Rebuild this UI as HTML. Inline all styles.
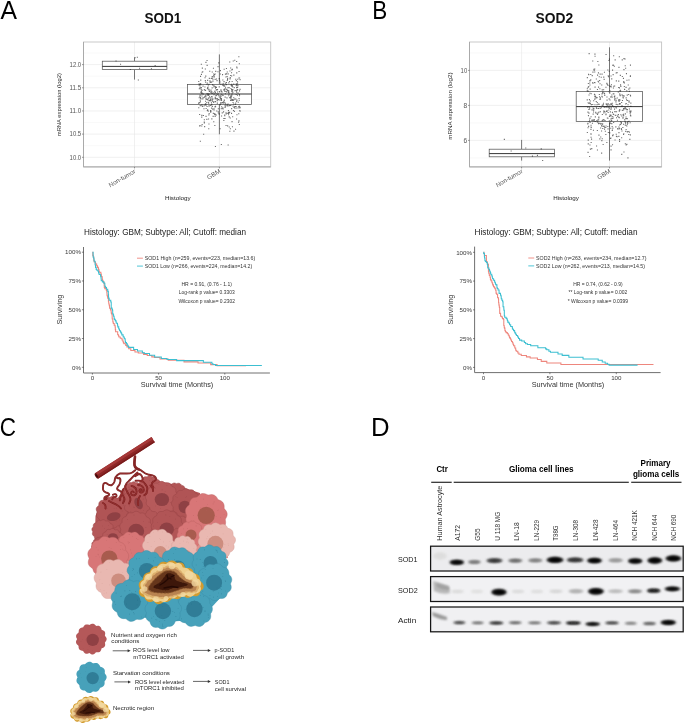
<!DOCTYPE html>
<html><head><meta charset="utf-8"><style>
html,body{margin:0;padding:0;background:#fff;width:685px;height:724px;overflow:hidden}
svg{display:block;will-change:transform}
text{font-family:"Liberation Sans",sans-serif}
</style></head><body>
<svg width="685" height="724" viewBox="0 0 685 724">
<defs>
<filter id="bl1" x="-50%" y="-100%" width="200%" height="300%"><feGaussianBlur stdDeviation="0.8"/></filter>
<filter id="bl2" x="-50%" y="-100%" width="200%" height="300%"><feGaussianBlur stdDeviation="1.1"/></filter>
<filter id="bl3" x="-50%" y="-50%" width="200%" height="200%"><feGaussianBlur stdDeviation="0.35"/></filter>
</defs>
<rect width="685" height="724" fill="#fff"/>

<text x="0.4" y="19" font-size="25" fill="#000" transform="translate(0.4,19) scale(0.99,1) translate(-0.4,-19)">A</text>
<text x="372.3" y="19" font-size="25" fill="#000" transform="translate(372.3,19) scale(0.9,1) translate(-372.3,-19)">B</text>
<text x="-0.2" y="435.9" font-size="25" fill="#000" transform="translate(-0.2,435.9) scale(0.9,1) translate(0.2,-435.9)">C</text>
<text x="370.9" y="436.1" font-size="25" fill="#000" transform="translate(370.9,436.1) scale(1.03,1) translate(-370.9,-436.1)">D</text>
<line x1="83.5" x2="270.7" y1="157.30" y2="157.30" stroke="#e6e6e6" stroke-width="0.6"/>
<line x1="83.5" x2="270.7" y1="134.12" y2="134.12" stroke="#e6e6e6" stroke-width="0.6"/>
<line x1="83.5" x2="270.7" y1="110.95" y2="110.95" stroke="#e6e6e6" stroke-width="0.6"/>
<line x1="83.5" x2="270.7" y1="87.78" y2="87.78" stroke="#e6e6e6" stroke-width="0.6"/>
<line x1="83.5" x2="270.7" y1="64.60" y2="64.60" stroke="#e6e6e6" stroke-width="0.6"/>
<line x1="83.5" x2="270.7" y1="145.71" y2="145.71" stroke="#f3f3f3" stroke-width="0.5"/>
<line x1="83.5" x2="270.7" y1="122.54" y2="122.54" stroke="#f3f3f3" stroke-width="0.5"/>
<line x1="83.5" x2="270.7" y1="99.36" y2="99.36" stroke="#f3f3f3" stroke-width="0.5"/>
<line x1="83.5" x2="270.7" y1="76.19" y2="76.19" stroke="#f3f3f3" stroke-width="0.5"/>
<line x1="83.5" x2="270.7" y1="53.01" y2="53.01" stroke="#f3f3f3" stroke-width="0.5"/>
<line x1="134.50" x2="134.50" y1="42" y2="166.9" stroke="#e6e6e6" stroke-width="0.6"/>
<line x1="219.40" x2="219.40" y1="42" y2="166.9" stroke="#e6e6e6" stroke-width="0.6"/>
<line x1="134.5" x2="134.5" y1="57.3" y2="61.2" stroke="#555" stroke-width="0.8"/>
<line x1="134.5" x2="134.5" y1="69.6" y2="79.6" stroke="#555" stroke-width="0.8"/>
<rect x="102.3" y="61.2" width="64.60" height="8.40" fill="#fff" stroke="#555" stroke-width="0.75"/>
<line x1="102.3" x2="166.9" y1="66.4" y2="66.4" stroke="#2a2a2a" stroke-width="0.95"/>
<line x1="219.4" x2="219.4" y1="54.4" y2="84.5" stroke="#555" stroke-width="0.8"/>
<line x1="219.4" x2="219.4" y1="104.4" y2="134.3" stroke="#555" stroke-width="0.8"/>
<rect x="187.6" y="84.5" width="63.90" height="19.90" fill="#fff" stroke="#555" stroke-width="0.75"/>
<line x1="187.6" x2="251.5" y1="94.0" y2="94.0" stroke="#2a2a2a" stroke-width="0.95"/>
<path d="M217.5 66.1h1.1v1.1h-1.1zM222.6 83.0h1.1v1.1h-1.1zM231.1 75.4h1.1v1.1h-1.1zM210.8 92.6h1.1v1.1h-1.1zM199.9 101.4h1.1v1.1h-1.1zM238.3 56.2h1.1v1.1h-1.1zM198.8 88.2h1.1v1.1h-1.1zM200.6 88.8h1.1v1.1h-1.1zM217.4 94.1h1.1v1.1h-1.1zM233.2 97.2h1.1v1.1h-1.1zM225.7 84.1h1.1v1.1h-1.1zM209.7 82.0h1.1v1.1h-1.1zM227.6 144.4h1.1v1.1h-1.1zM207.7 93.3h1.1v1.1h-1.1zM214.8 114.3h1.1v1.1h-1.1zM214.2 113.1h1.1v1.1h-1.1zM206.9 94.4h1.1v1.1h-1.1zM217.7 93.2h1.1v1.1h-1.1zM224.3 85.7h1.1v1.1h-1.1zM209.4 97.0h1.1v1.1h-1.1zM229.7 77.1h1.1v1.1h-1.1zM208.4 123.5h1.1v1.1h-1.1zM205.5 115.8h1.1v1.1h-1.1zM216.8 102.6h1.1v1.1h-1.1zM224.9 93.2h1.1v1.1h-1.1zM215.7 87.0h1.1v1.1h-1.1zM231.6 89.6h1.1v1.1h-1.1zM235.0 128.7h1.1v1.1h-1.1zM224.9 73.6h1.1v1.1h-1.1zM239.3 109.9h1.1v1.1h-1.1zM211.8 92.8h1.1v1.1h-1.1zM201.2 116.6h1.1v1.1h-1.1zM223.2 85.4h1.1v1.1h-1.1zM217.0 89.1h1.1v1.1h-1.1zM234.2 59.7h1.1v1.1h-1.1zM204.6 95.7h1.1v1.1h-1.1zM206.0 102.2h1.1v1.1h-1.1zM237.3 84.9h1.1v1.1h-1.1zM223.3 119.9h1.1v1.1h-1.1zM202.5 85.6h1.1v1.1h-1.1zM227.5 103.4h1.1v1.1h-1.1zM232.4 91.7h1.1v1.1h-1.1zM228.1 91.7h1.1v1.1h-1.1zM207.7 101.8h1.1v1.1h-1.1zM209.8 104.9h1.1v1.1h-1.1zM206.6 64.8h1.1v1.1h-1.1zM200.7 92.2h1.1v1.1h-1.1zM213.5 108.2h1.1v1.1h-1.1zM235.2 102.4h1.1v1.1h-1.1zM225.5 112.3h1.1v1.1h-1.1zM199.6 87.7h1.1v1.1h-1.1zM236.0 90.3h1.1v1.1h-1.1zM224.6 96.6h1.1v1.1h-1.1zM228.5 93.3h1.1v1.1h-1.1zM220.9 99.2h1.1v1.1h-1.1zM235.6 93.9h1.1v1.1h-1.1zM236.2 87.2h1.1v1.1h-1.1zM226.7 71.5h1.1v1.1h-1.1zM231.0 112.8h1.1v1.1h-1.1zM222.0 74.1h1.1v1.1h-1.1zM223.5 81.1h1.1v1.1h-1.1zM224.7 105.7h1.1v1.1h-1.1zM214.3 124.9h1.1v1.1h-1.1zM222.3 79.4h1.1v1.1h-1.1zM229.4 96.9h1.1v1.1h-1.1zM223.2 89.3h1.1v1.1h-1.1zM218.8 96.5h1.1v1.1h-1.1zM236.4 114.2h1.1v1.1h-1.1zM226.4 105.1h1.1v1.1h-1.1zM205.2 94.7h1.1v1.1h-1.1zM235.2 78.7h1.1v1.1h-1.1zM225.9 81.9h1.1v1.1h-1.1zM236.2 72.3h1.1v1.1h-1.1zM214.1 114.0h1.1v1.1h-1.1zM218.8 91.1h1.1v1.1h-1.1zM233.5 107.0h1.1v1.1h-1.1zM205.2 104.0h1.1v1.1h-1.1zM209.6 90.7h1.1v1.1h-1.1zM218.7 78.1h1.1v1.1h-1.1zM233.1 103.5h1.1v1.1h-1.1zM199.5 84.0h1.1v1.1h-1.1zM199.9 97.0h1.1v1.1h-1.1zM231.1 83.7h1.1v1.1h-1.1zM203.8 89.1h1.1v1.1h-1.1zM208.0 118.4h1.1v1.1h-1.1zM200.1 97.8h1.1v1.1h-1.1zM225.4 76.4h1.1v1.1h-1.1zM238.0 106.2h1.1v1.1h-1.1zM205.6 98.6h1.1v1.1h-1.1zM217.8 108.2h1.1v1.1h-1.1zM212.5 98.5h1.1v1.1h-1.1zM219.8 103.4h1.1v1.1h-1.1zM231.1 94.5h1.1v1.1h-1.1zM201.8 67.6h1.1v1.1h-1.1zM217.0 91.5h1.1v1.1h-1.1zM236.0 87.1h1.1v1.1h-1.1zM231.3 69.3h1.1v1.1h-1.1zM217.4 71.2h1.1v1.1h-1.1zM232.2 99.8h1.1v1.1h-1.1zM228.0 114.2h1.1v1.1h-1.1zM238.8 123.9h1.1v1.1h-1.1zM231.0 72.2h1.1v1.1h-1.1zM212.6 115.8h1.1v1.1h-1.1zM216.5 80.1h1.1v1.1h-1.1zM199.3 95.7h1.1v1.1h-1.1zM200.8 63.7h1.1v1.1h-1.1zM230.9 99.5h1.1v1.1h-1.1zM204.3 104.5h1.1v1.1h-1.1zM226.8 89.8h1.1v1.1h-1.1zM207.4 99.3h1.1v1.1h-1.1zM210.2 92.2h1.1v1.1h-1.1zM233.2 83.6h1.1v1.1h-1.1zM211.1 81.7h1.1v1.1h-1.1zM206.8 109.9h1.1v1.1h-1.1zM206.5 60.0h1.1v1.1h-1.1zM219.1 91.3h1.1v1.1h-1.1zM219.6 128.2h1.1v1.1h-1.1zM231.5 100.0h1.1v1.1h-1.1zM200.9 73.8h1.1v1.1h-1.1zM215.4 95.1h1.1v1.1h-1.1zM217.8 112.4h1.1v1.1h-1.1zM216.2 89.1h1.1v1.1h-1.1zM211.3 118.3h1.1v1.1h-1.1zM223.9 85.2h1.1v1.1h-1.1zM199.1 125.4h1.1v1.1h-1.1zM207.6 110.6h1.1v1.1h-1.1zM223.9 88.5h1.1v1.1h-1.1zM228.6 105.1h1.1v1.1h-1.1zM206.4 84.0h1.1v1.1h-1.1zM216.3 93.3h1.1v1.1h-1.1zM204.8 80.1h1.1v1.1h-1.1zM224.4 102.3h1.1v1.1h-1.1zM223.6 68.7h1.1v1.1h-1.1zM207.8 84.4h1.1v1.1h-1.1zM211.3 104.5h1.1v1.1h-1.1zM236.5 67.5h1.1v1.1h-1.1zM203.7 121.5h1.1v1.1h-1.1zM228.4 93.7h1.1v1.1h-1.1zM215.7 114.4h1.1v1.1h-1.1zM203.4 108.2h1.1v1.1h-1.1zM206.5 93.0h1.1v1.1h-1.1zM236.1 91.7h1.1v1.1h-1.1zM229.7 117.4h1.1v1.1h-1.1zM226.7 104.3h1.1v1.1h-1.1zM199.7 99.6h1.1v1.1h-1.1zM219.6 96.6h1.1v1.1h-1.1zM206.6 99.0h1.1v1.1h-1.1zM239.3 107.3h1.1v1.1h-1.1zM237.7 101.7h1.1v1.1h-1.1zM230.0 96.6h1.1v1.1h-1.1zM216.0 78.4h1.1v1.1h-1.1zM198.7 97.2h1.1v1.1h-1.1zM217.0 98.6h1.1v1.1h-1.1zM215.0 87.0h1.1v1.1h-1.1zM198.8 102.0h1.1v1.1h-1.1zM231.5 121.1h1.1v1.1h-1.1zM215.0 105.8h1.1v1.1h-1.1zM219.1 79.7h1.1v1.1h-1.1zM236.1 100.8h1.1v1.1h-1.1zM230.5 84.4h1.1v1.1h-1.1zM227.1 125.3h1.1v1.1h-1.1zM228.2 95.2h1.1v1.1h-1.1zM212.4 80.6h1.1v1.1h-1.1zM224.7 106.3h1.1v1.1h-1.1zM207.8 94.8h1.1v1.1h-1.1zM225.6 81.9h1.1v1.1h-1.1zM220.3 83.6h1.1v1.1h-1.1zM227.3 112.8h1.1v1.1h-1.1zM238.9 93.9h1.1v1.1h-1.1zM208.8 77.8h1.1v1.1h-1.1zM200.2 79.6h1.1v1.1h-1.1zM208.6 89.7h1.1v1.1h-1.1zM221.0 102.4h1.1v1.1h-1.1zM239.5 110.7h1.1v1.1h-1.1zM231.8 90.5h1.1v1.1h-1.1zM200.0 75.8h1.1v1.1h-1.1zM204.8 68.4h1.1v1.1h-1.1zM223.6 101.4h1.1v1.1h-1.1zM237.5 107.4h1.1v1.1h-1.1zM213.4 76.4h1.1v1.1h-1.1zM225.4 91.0h1.1v1.1h-1.1zM210.5 89.6h1.1v1.1h-1.1zM208.3 114.4h1.1v1.1h-1.1zM214.4 106.2h1.1v1.1h-1.1zM229.3 130.7h1.1v1.1h-1.1zM201.2 125.5h1.1v1.1h-1.1zM216.0 89.5h1.1v1.1h-1.1zM219.9 103.7h1.1v1.1h-1.1zM228.2 90.6h1.1v1.1h-1.1zM223.3 118.0h1.1v1.1h-1.1zM224.1 90.7h1.1v1.1h-1.1zM220.1 95.2h1.1v1.1h-1.1zM216.6 98.1h1.1v1.1h-1.1zM222.4 84.1h1.1v1.1h-1.1zM230.5 96.8h1.1v1.1h-1.1zM228.7 126.5h1.1v1.1h-1.1zM202.9 93.5h1.1v1.1h-1.1zM213.1 101.8h1.1v1.1h-1.1zM226.6 75.9h1.1v1.1h-1.1zM229.5 78.3h1.1v1.1h-1.1zM208.5 83.8h1.1v1.1h-1.1zM199.8 140.7h1.1v1.1h-1.1zM209.4 80.3h1.1v1.1h-1.1zM220.7 89.6h1.1v1.1h-1.1zM201.7 89.7h1.1v1.1h-1.1zM213.7 76.3h1.1v1.1h-1.1zM206.9 88.1h1.1v1.1h-1.1zM201.2 93.1h1.1v1.1h-1.1zM231.8 68.8h1.1v1.1h-1.1zM215.8 95.0h1.1v1.1h-1.1zM231.8 84.9h1.1v1.1h-1.1zM211.7 71.4h1.1v1.1h-1.1zM229.2 61.4h1.1v1.1h-1.1zM202.2 71.2h1.1v1.1h-1.1zM201.4 105.1h1.1v1.1h-1.1zM226.7 80.0h1.1v1.1h-1.1zM230.4 88.0h1.1v1.1h-1.1zM201.5 98.4h1.1v1.1h-1.1zM228.3 112.8h1.1v1.1h-1.1zM213.0 92.4h1.1v1.1h-1.1zM213.4 101.1h1.1v1.1h-1.1zM236.4 89.6h1.1v1.1h-1.1zM236.1 60.9h1.1v1.1h-1.1zM211.4 97.6h1.1v1.1h-1.1zM237.0 83.3h1.1v1.1h-1.1zM213.4 94.2h1.1v1.1h-1.1zM214.6 106.4h1.1v1.1h-1.1zM231.3 99.7h1.1v1.1h-1.1zM232.9 109.9h1.1v1.1h-1.1zM234.8 103.8h1.1v1.1h-1.1zM199.1 113.9h1.1v1.1h-1.1zM238.4 77.5h1.1v1.1h-1.1zM231.6 89.3h1.1v1.1h-1.1zM201.6 71.7h1.1v1.1h-1.1zM228.8 87.2h1.1v1.1h-1.1zM204.1 126.1h1.1v1.1h-1.1zM225.1 103.4h1.1v1.1h-1.1zM219.8 98.1h1.1v1.1h-1.1zM214.6 116.0h1.1v1.1h-1.1zM218.7 113.2h1.1v1.1h-1.1zM228.1 90.1h1.1v1.1h-1.1zM232.5 105.6h1.1v1.1h-1.1zM233.7 87.1h1.1v1.1h-1.1zM238.0 121.7h1.1v1.1h-1.1zM219.9 70.1h1.1v1.1h-1.1zM215.6 98.4h1.1v1.1h-1.1zM229.0 80.9h1.1v1.1h-1.1zM206.7 82.6h1.1v1.1h-1.1zM210.3 99.6h1.1v1.1h-1.1zM202.9 115.0h1.1v1.1h-1.1zM230.4 98.1h1.1v1.1h-1.1zM222.4 107.4h1.1v1.1h-1.1zM199.7 105.1h1.1v1.1h-1.1zM207.9 97.6h1.1v1.1h-1.1zM222.9 102.4h1.1v1.1h-1.1zM205.3 98.2h1.1v1.1h-1.1zM211.1 103.8h1.1v1.1h-1.1zM209.0 100.1h1.1v1.1h-1.1zM236.2 66.5h1.1v1.1h-1.1zM218.2 62.3h1.1v1.1h-1.1zM200.2 84.3h1.1v1.1h-1.1zM220.1 102.2h1.1v1.1h-1.1zM209.6 81.6h1.1v1.1h-1.1zM198.6 83.3h1.1v1.1h-1.1zM213.6 85.8h1.1v1.1h-1.1zM204.7 89.8h1.1v1.1h-1.1zM211.5 76.4h1.1v1.1h-1.1zM224.6 104.8h1.1v1.1h-1.1zM209.2 70.7h1.1v1.1h-1.1zM198.2 107.2h1.1v1.1h-1.1zM233.4 130.6h1.1v1.1h-1.1zM228.0 112.1h1.1v1.1h-1.1zM218.1 99.1h1.1v1.1h-1.1zM233.8 110.8h1.1v1.1h-1.1zM231.0 89.1h1.1v1.1h-1.1zM232.5 98.9h1.1v1.1h-1.1zM220.8 91.1h1.1v1.1h-1.1zM211.1 107.6h1.1v1.1h-1.1zM201.3 114.8h1.1v1.1h-1.1zM213.1 73.5h1.1v1.1h-1.1zM202.5 98.2h1.1v1.1h-1.1zM232.7 60.5h1.1v1.1h-1.1zM198.7 102.1h1.1v1.1h-1.1zM221.6 91.5h1.1v1.1h-1.1zM198.6 84.6h1.1v1.1h-1.1zM223.8 99.4h1.1v1.1h-1.1zM213.8 85.4h1.1v1.1h-1.1zM214.5 90.4h1.1v1.1h-1.1zM208.8 105.4h1.1v1.1h-1.1zM237.5 92.6h1.1v1.1h-1.1zM228.3 82.3h1.1v1.1h-1.1zM204.0 96.6h1.1v1.1h-1.1zM226.3 88.8h1.1v1.1h-1.1zM233.0 99.7h1.1v1.1h-1.1zM201.9 106.0h1.1v1.1h-1.1zM215.1 97.7h1.1v1.1h-1.1zM236.4 99.6h1.1v1.1h-1.1zM230.1 75.0h1.1v1.1h-1.1zM214.2 91.2h1.1v1.1h-1.1zM214.8 92.0h1.1v1.1h-1.1zM239.0 95.2h1.1v1.1h-1.1zM198.9 84.3h1.1v1.1h-1.1zM212.4 78.7h1.1v1.1h-1.1zM219.3 104.0h1.1v1.1h-1.1zM232.5 101.9h1.1v1.1h-1.1zM235.7 106.2h1.1v1.1h-1.1zM212.8 112.8h1.1v1.1h-1.1zM239.2 107.0h1.1v1.1h-1.1zM227.9 110.1h1.1v1.1h-1.1zM224.2 114.6h1.1v1.1h-1.1zM201.6 123.9h1.1v1.1h-1.1zM211.8 75.9h1.1v1.1h-1.1zM213.2 75.1h1.1v1.1h-1.1zM203.8 119.2h1.1v1.1h-1.1zM220.8 143.9h1.1v1.1h-1.1zM236.0 84.4h1.1v1.1h-1.1zM232.2 86.3h1.1v1.1h-1.1zM210.2 111.6h1.1v1.1h-1.1zM208.2 128.2h1.1v1.1h-1.1zM220.9 98.1h1.1v1.1h-1.1zM199.5 86.6h1.1v1.1h-1.1zM225.5 125.0h1.1v1.1h-1.1zM226.1 91.4h1.1v1.1h-1.1zM231.6 81.0h1.1v1.1h-1.1zM206.5 105.9h1.1v1.1h-1.1zM221.8 102.1h1.1v1.1h-1.1zM219.8 104.1h1.1v1.1h-1.1zM224.8 83.2h1.1v1.1h-1.1zM226.1 89.0h1.1v1.1h-1.1zM217.7 111.2h1.1v1.1h-1.1zM224.1 89.4h1.1v1.1h-1.1zM218.4 95.1h1.1v1.1h-1.1zM216.2 110.5h1.1v1.1h-1.1zM235.8 83.3h1.1v1.1h-1.1zM235.8 80.1h1.1v1.1h-1.1zM200.4 91.8h1.1v1.1h-1.1zM223.0 111.3h1.1v1.1h-1.1zM210.8 81.4h1.1v1.1h-1.1zM216.7 100.1h1.1v1.1h-1.1zM214.7 96.8h1.1v1.1h-1.1zM208.1 88.5h1.1v1.1h-1.1zM214.6 78.8h1.1v1.1h-1.1zM238.4 120.3h1.1v1.1h-1.1zM234.2 106.0h1.1v1.1h-1.1zM229.2 97.1h1.1v1.1h-1.1zM235.7 85.2h1.1v1.1h-1.1zM220.5 95.7h1.1v1.1h-1.1zM198.2 80.9h1.1v1.1h-1.1zM200.8 90.4h1.1v1.1h-1.1zM232.1 116.2h1.1v1.1h-1.1zM200.1 83.1h1.1v1.1h-1.1zM235.5 107.7h1.1v1.1h-1.1zM238.8 63.2h1.1v1.1h-1.1zM206.7 94.3h1.1v1.1h-1.1zM206.3 118.8h1.1v1.1h-1.1zM212.9 67.7h1.1v1.1h-1.1zM239.6 106.7h1.1v1.1h-1.1zM224.5 117.9h1.1v1.1h-1.1zM202.6 97.0h1.1v1.1h-1.1zM211.2 91.1h1.1v1.1h-1.1zM203.8 122.4h1.1v1.1h-1.1zM237.2 78.7h1.1v1.1h-1.1zM210.9 102.2h1.1v1.1h-1.1zM206.3 98.4h1.1v1.1h-1.1zM231.0 95.7h1.1v1.1h-1.1zM225.7 113.3h1.1v1.1h-1.1zM210.7 77.9h1.1v1.1h-1.1zM225.9 83.8h1.1v1.1h-1.1zM239.0 90.3h1.1v1.1h-1.1zM220.1 89.5h1.1v1.1h-1.1zM210.0 111.1h1.1v1.1h-1.1zM231.6 99.0h1.1v1.1h-1.1zM208.4 89.1h1.1v1.1h-1.1zM221.0 115.5h1.1v1.1h-1.1zM199.5 125.1h1.1v1.1h-1.1zM229.4 70.4h1.1v1.1h-1.1zM205.6 108.0h1.1v1.1h-1.1zM225.0 87.3h1.1v1.1h-1.1zM219.6 81.4h1.1v1.1h-1.1zM233.3 74.6h1.1v1.1h-1.1zM205.4 61.8h1.1v1.1h-1.1zM205.0 89.8h1.1v1.1h-1.1zM230.3 95.3h1.1v1.1h-1.1zM231.1 108.1h1.1v1.1h-1.1zM222.3 84.7h1.1v1.1h-1.1zM199.6 94.6h1.1v1.1h-1.1zM234.5 90.2h1.1v1.1h-1.1zM204.5 77.2h1.1v1.1h-1.1zM216.5 79.9h1.1v1.1h-1.1zM231.4 94.3h1.1v1.1h-1.1zM220.7 108.2h1.1v1.1h-1.1zM208.0 84.5h1.1v1.1h-1.1zM211.2 92.5h1.1v1.1h-1.1zM220.0 97.5h1.1v1.1h-1.1zM232.3 89.1h1.1v1.1h-1.1zM208.8 91.0h1.1v1.1h-1.1zM230.9 84.9h1.1v1.1h-1.1zM215.2 70.8h1.1v1.1h-1.1zM199.9 101.3h1.1v1.1h-1.1zM229.8 128.2h1.1v1.1h-1.1zM229.1 111.8h1.1v1.1h-1.1zM208.2 105.4h1.1v1.1h-1.1zM210.5 110.5h1.1v1.1h-1.1zM201.3 104.2h1.1v1.1h-1.1zM228.7 116.3h1.1v1.1h-1.1zM208.7 93.4h1.1v1.1h-1.1zM236.9 94.7h1.1v1.1h-1.1zM212.2 108.6h1.1v1.1h-1.1zM214.9 88.2h1.1v1.1h-1.1zM200.6 91.5h1.1v1.1h-1.1zM222.7 85.0h1.1v1.1h-1.1zM214.0 74.1h1.1v1.1h-1.1zM207.1 109.7h1.1v1.1h-1.1zM205.0 100.7h1.1v1.1h-1.1zM207.1 109.2h1.1v1.1h-1.1zM239.5 88.8h1.1v1.1h-1.1zM234.0 107.3h1.1v1.1h-1.1zM226.9 90.2h1.1v1.1h-1.1zM209.6 97.4h1.1v1.1h-1.1zM214.5 98.2h1.1v1.1h-1.1zM227.9 112.7h1.1v1.1h-1.1zM237.1 89.1h1.1v1.1h-1.1zM230.0 99.8h1.1v1.1h-1.1zM211.5 96.2h1.1v1.1h-1.1zM201.6 92.5h1.1v1.1h-1.1zM219.8 73.4h1.1v1.1h-1.1zM214.5 114.1h1.1v1.1h-1.1zM222.9 101.2h1.1v1.1h-1.1zM211.1 95.9h1.1v1.1h-1.1zM227.5 87.1h1.1v1.1h-1.1zM228.3 92.0h1.1v1.1h-1.1zM209.8 99.3h1.1v1.1h-1.1zM215.0 101.1h1.1v1.1h-1.1zM210.3 100.2h1.1v1.1h-1.1zM207.1 86.9h1.1v1.1h-1.1zM221.7 112.3h1.1v1.1h-1.1zM238.7 99.7h1.1v1.1h-1.1zM207.1 79.8h1.1v1.1h-1.1zM225.9 68.0h1.1v1.1h-1.1zM224.5 107.0h1.1v1.1h-1.1zM215.9 86.9h1.1v1.1h-1.1zM211.8 106.0h1.1v1.1h-1.1zM209.8 98.7h1.1v1.1h-1.1zM205.1 81.7h1.1v1.1h-1.1zM208.1 102.6h1.1v1.1h-1.1zM204.4 86.4h1.1v1.1h-1.1zM227.3 105.5h1.1v1.1h-1.1zM214.4 93.1h1.1v1.1h-1.1zM200.8 91.2h1.1v1.1h-1.1zM222.5 108.5h1.1v1.1h-1.1zM211.7 99.1h1.1v1.1h-1.1zM235.2 106.0h1.1v1.1h-1.1zM209.0 95.7h1.1v1.1h-1.1zM223.7 99.8h1.1v1.1h-1.1zM213.2 121.2h1.1v1.1h-1.1zM224.2 115.1h1.1v1.1h-1.1zM215.2 85.9h1.1v1.1h-1.1zM234.7 89.9h1.1v1.1h-1.1zM236.0 118.4h1.1v1.1h-1.1zM211.0 104.3h1.1v1.1h-1.1zM238.8 105.8h1.1v1.1h-1.1zM226.4 97.3h1.1v1.1h-1.1zM198.2 102.8h1.1v1.1h-1.1zM218.7 86.3h1.1v1.1h-1.1zM221.0 100.0h1.1v1.1h-1.1zM238.5 70.9h1.1v1.1h-1.1zM212.6 84.7h1.1v1.1h-1.1zM227.1 77.7h1.1v1.1h-1.1zM238.2 113.2h1.1v1.1h-1.1zM218.6 113.7h1.1v1.1h-1.1zM213.5 109.4h1.1v1.1h-1.1zM208.0 93.8h1.1v1.1h-1.1zM211.7 77.7h1.1v1.1h-1.1zM200.8 87.1h1.1v1.1h-1.1zM202.4 93.4h1.1v1.1h-1.1zM230.3 104.9h1.1v1.1h-1.1zM204.9 103.3h1.1v1.1h-1.1zM208.7 99.9h1.1v1.1h-1.1zM231.3 90.8h1.1v1.1h-1.1zM227.9 91.8h1.1v1.1h-1.1zM212.0 84.1h1.1v1.1h-1.1zM221.8 107.6h1.1v1.1h-1.1zM227.6 73.3h1.1v1.1h-1.1zM203.4 105.5h1.1v1.1h-1.1zM226.0 73.3h1.1v1.1h-1.1zM222.5 94.8h1.1v1.1h-1.1zM238.5 98.0h1.1v1.1h-1.1zM224.4 88.7h1.1v1.1h-1.1zM237.0 81.3h1.1v1.1h-1.1zM203.1 133.7h1.1v1.1h-1.1zM210.0 100.2h1.1v1.1h-1.1zM211.9 100.6h1.1v1.1h-1.1zM220.7 93.7h1.1v1.1h-1.1zM231.4 86.0h1.1v1.1h-1.1zM210.0 110.1h1.1v1.1h-1.1zM239.0 77.4h1.1v1.1h-1.1zM227.0 78.8h1.1v1.1h-1.1zM205.4 96.3h1.1v1.1h-1.1zM237.0 86.9h1.1v1.1h-1.1zM211.6 87.3h1.1v1.1h-1.1zM221.7 94.4h1.1v1.1h-1.1zM207.6 86.5h1.1v1.1h-1.1zM213.4 86.5h1.1v1.1h-1.1zM235.3 98.5h1.1v1.1h-1.1zM201.4 95.5h1.1v1.1h-1.1zM234.2 98.6h1.1v1.1h-1.1zM214.6 73.4h1.1v1.1h-1.1zM221.1 106.2h1.1v1.1h-1.1zM237.2 86.4h1.1v1.1h-1.1zM239.5 79.1h1.1v1.1h-1.1zM205.5 104.6h1.1v1.1h-1.1zM205.2 75.6h1.1v1.1h-1.1zM229.5 105.0h1.1v1.1h-1.1zM219.5 99.6h1.1v1.1h-1.1zM198.6 102.2h1.1v1.1h-1.1zM231.9 126.2h1.1v1.1h-1.1zM231.6 92.7h1.1v1.1h-1.1zM230.1 67.5h1.1v1.1h-1.1zM214.9 146.0h1.1v1.1h-1.1zM208.6 113.1h1.1v1.1h-1.1zM115.5 60.5h1.1v1.1h-1.1zM120.0 63.7h1.1v1.1h-1.1zM134.6 57.2h1.1v1.1h-1.1zM136.8 56.7h1.1v1.1h-1.1zM154.6 65.0h1.1v1.1h-1.1zM150.9 68.2h1.1v1.1h-1.1zM139.0 67.7h1.1v1.1h-1.1zM129.8 68.9h1.1v1.1h-1.1zM137.8 79.4h1.1v1.1h-1.1z" fill="#222" fill-opacity="0.66"/>
<rect x="83.5" y="42" width="187.20" height="124.90" fill="none" stroke="#c4c4c4" stroke-width="0.9"/>
<line x1="83.5" x2="83.5" y1="42" y2="166.9" stroke="#aaa" stroke-width="1.0"/>
<line x1="83.5" x2="270.7" y1="166.9" y2="166.9" stroke="#aaa" stroke-width="1.0"/>
<line x1="82.0" x2="83.5" y1="157.30" y2="157.30" stroke="#555" stroke-width="0.6"/>
<text x="81.20" y="159.60" font-size="6.6" text-anchor="end" textLength="11.6" lengthAdjust="spacingAndGlyphs" fill="#555">10.0</text>
<line x1="82.0" x2="83.5" y1="134.12" y2="134.12" stroke="#555" stroke-width="0.6"/>
<text x="81.20" y="136.43" font-size="6.6" text-anchor="end" textLength="11.6" lengthAdjust="spacingAndGlyphs" fill="#555">10.5</text>
<line x1="82.0" x2="83.5" y1="110.95" y2="110.95" stroke="#555" stroke-width="0.6"/>
<text x="81.20" y="113.25" font-size="6.6" text-anchor="end" textLength="11.6" lengthAdjust="spacingAndGlyphs" fill="#555">11.0</text>
<line x1="82.0" x2="83.5" y1="87.78" y2="87.78" stroke="#555" stroke-width="0.6"/>
<text x="81.20" y="90.08" font-size="6.6" text-anchor="end" textLength="11.6" lengthAdjust="spacingAndGlyphs" fill="#555">11.5</text>
<line x1="82.0" x2="83.5" y1="64.60" y2="64.60" stroke="#555" stroke-width="0.6"/>
<text x="81.20" y="66.90" font-size="6.6" text-anchor="end" textLength="11.6" lengthAdjust="spacingAndGlyphs" fill="#555">12.0</text>
<line x1="134.50" x2="134.50" y1="166.9" y2="168.4" stroke="#555" stroke-width="0.6"/>
<line x1="219.40" x2="219.40" y1="166.9" y2="168.4" stroke="#555" stroke-width="0.6"/>
<text font-size="6.3" fill="#555" text-anchor="end" transform="translate(136.10,172.50) rotate(-30)">Non-tumor</text>
<text font-size="6.3" fill="#555" text-anchor="end" transform="translate(221.00,172.50) rotate(-30)">GBM</text>
<text font-size="6.1" fill="#2a2a2a" text-anchor="middle" textLength="63.2" lengthAdjust="spacingAndGlyphs" transform="translate(61.4,104.6) rotate(-90)">mRNA expression (log2)</text>
<text x="177.80" y="199.80" font-size="6.25" text-anchor="middle" fill="#222">Histology</text>
<text x="144.60" y="23.10" font-size="14.5" font-weight="bold" textLength="36.8" lengthAdjust="spacingAndGlyphs" fill="#111">SOD1</text>
<line x1="469.5" x2="661.6" y1="140.40" y2="140.40" stroke="#e6e6e6" stroke-width="0.6"/>
<line x1="469.5" x2="661.6" y1="105.40" y2="105.40" stroke="#e6e6e6" stroke-width="0.6"/>
<line x1="469.5" x2="661.6" y1="70.40" y2="70.40" stroke="#e6e6e6" stroke-width="0.6"/>
<line x1="469.5" x2="661.6" y1="157.90" y2="157.90" stroke="#f3f3f3" stroke-width="0.5"/>
<line x1="469.5" x2="661.6" y1="122.90" y2="122.90" stroke="#f3f3f3" stroke-width="0.5"/>
<line x1="469.5" x2="661.6" y1="87.90" y2="87.90" stroke="#f3f3f3" stroke-width="0.5"/>
<line x1="469.5" x2="661.6" y1="52.90" y2="52.90" stroke="#f3f3f3" stroke-width="0.5"/>
<line x1="521.60" x2="521.60" y1="42" y2="166.9" stroke="#e6e6e6" stroke-width="0.6"/>
<line x1="609.50" x2="609.50" y1="42" y2="166.9" stroke="#e6e6e6" stroke-width="0.6"/>
<line x1="521.6" x2="521.6" y1="139.9" y2="149.2" stroke="#555" stroke-width="0.8"/>
<line x1="521.6" x2="521.6" y1="156.8" y2="160.6" stroke="#555" stroke-width="0.8"/>
<rect x="489.2" y="149.2" width="65.40" height="7.60" fill="#fff" stroke="#555" stroke-width="0.75"/>
<line x1="489.2" x2="554.6" y1="153.6" y2="153.6" stroke="#2a2a2a" stroke-width="0.95"/>
<line x1="609.5" x2="609.5" y1="47.3" y2="91.4" stroke="#555" stroke-width="0.8"/>
<line x1="609.5" x2="609.5" y1="121.5" y2="160.6" stroke="#555" stroke-width="0.8"/>
<rect x="576.2" y="91.4" width="66.30" height="30.10" fill="#fff" stroke="#555" stroke-width="0.75"/>
<line x1="576.2" x2="642.5" y1="106.6" y2="106.6" stroke="#2a2a2a" stroke-width="0.95"/>
<path d="M612.7 93.2h1.1v1.1h-1.1zM595.1 96.1h1.1v1.1h-1.1zM596.4 104.2h1.1v1.1h-1.1zM617.9 114.1h1.1v1.1h-1.1zM609.2 107.3h1.1v1.1h-1.1zM621.1 101.9h1.1v1.1h-1.1zM615.6 111.2h1.1v1.1h-1.1zM620.1 123.9h1.1v1.1h-1.1zM611.8 102.7h1.1v1.1h-1.1zM607.5 102.9h1.1v1.1h-1.1zM612.6 113.5h1.1v1.1h-1.1zM594.5 98.5h1.1v1.1h-1.1zM622.5 96.6h1.1v1.1h-1.1zM588.4 112.6h1.1v1.1h-1.1zM611.9 111.8h1.1v1.1h-1.1zM599.3 88.2h1.1v1.1h-1.1zM620.9 122.1h1.1v1.1h-1.1zM621.1 105.6h1.1v1.1h-1.1zM623.1 115.1h1.1v1.1h-1.1zM612.7 64.9h1.1v1.1h-1.1zM594.0 81.9h1.1v1.1h-1.1zM587.7 143.3h1.1v1.1h-1.1zM616.9 119.7h1.1v1.1h-1.1zM610.3 137.6h1.1v1.1h-1.1zM603.2 76.6h1.1v1.1h-1.1zM590.0 148.7h1.1v1.1h-1.1zM628.5 120.7h1.1v1.1h-1.1zM591.2 148.1h1.1v1.1h-1.1zM622.4 117.6h1.1v1.1h-1.1zM605.2 127.0h1.1v1.1h-1.1zM625.9 73.1h1.1v1.1h-1.1zM626.0 118.0h1.1v1.1h-1.1zM623.2 81.0h1.1v1.1h-1.1zM597.1 121.4h1.1v1.1h-1.1zM611.2 78.3h1.1v1.1h-1.1zM623.0 123.7h1.1v1.1h-1.1zM611.3 94.4h1.1v1.1h-1.1zM597.6 80.8h1.1v1.1h-1.1zM610.5 149.3h1.1v1.1h-1.1zM611.3 117.7h1.1v1.1h-1.1zM586.8 77.1h1.1v1.1h-1.1zM621.2 115.5h1.1v1.1h-1.1zM616.6 114.7h1.1v1.1h-1.1zM606.4 96.5h1.1v1.1h-1.1zM607.8 131.9h1.1v1.1h-1.1zM610.4 120.6h1.1v1.1h-1.1zM626.2 90.2h1.1v1.1h-1.1zM625.2 103.4h1.1v1.1h-1.1zM613.3 106.5h1.1v1.1h-1.1zM599.9 98.5h1.1v1.1h-1.1zM601.7 138.2h1.1v1.1h-1.1zM607.7 75.2h1.1v1.1h-1.1zM597.9 123.1h1.1v1.1h-1.1zM598.3 117.4h1.1v1.1h-1.1zM608.8 120.3h1.1v1.1h-1.1zM611.6 96.6h1.1v1.1h-1.1zM624.4 108.3h1.1v1.1h-1.1zM629.9 114.6h1.1v1.1h-1.1zM588.5 94.4h1.1v1.1h-1.1zM593.1 100.2h1.1v1.1h-1.1zM590.6 141.9h1.1v1.1h-1.1zM599.5 83.2h1.1v1.1h-1.1zM626.9 123.6h1.1v1.1h-1.1zM626.8 131.3h1.1v1.1h-1.1zM587.5 151.8h1.1v1.1h-1.1zM607.3 126.0h1.1v1.1h-1.1zM611.7 129.9h1.1v1.1h-1.1zM612.7 117.4h1.1v1.1h-1.1zM592.5 82.6h1.1v1.1h-1.1zM605.4 114.1h1.1v1.1h-1.1zM613.9 95.9h1.1v1.1h-1.1zM602.6 119.0h1.1v1.1h-1.1zM619.4 90.2h1.1v1.1h-1.1zM629.8 75.8h1.1v1.1h-1.1zM623.2 82.0h1.1v1.1h-1.1zM604.0 128.6h1.1v1.1h-1.1zM595.9 107.3h1.1v1.1h-1.1zM589.2 82.4h1.1v1.1h-1.1zM612.6 74.1h1.1v1.1h-1.1zM597.5 121.7h1.1v1.1h-1.1zM594.3 96.1h1.1v1.1h-1.1zM612.0 69.6h1.1v1.1h-1.1zM605.5 54.0h1.1v1.1h-1.1zM627.1 100.0h1.1v1.1h-1.1zM589.4 84.5h1.1v1.1h-1.1zM603.9 71.7h1.1v1.1h-1.1zM603.8 110.8h1.1v1.1h-1.1zM619.2 109.6h1.1v1.1h-1.1zM594.1 98.6h1.1v1.1h-1.1zM589.4 92.7h1.1v1.1h-1.1zM592.0 82.2h1.1v1.1h-1.1zM607.5 103.9h1.1v1.1h-1.1zM614.0 95.7h1.1v1.1h-1.1zM613.3 93.3h1.1v1.1h-1.1zM629.7 111.8h1.1v1.1h-1.1zM599.2 122.8h1.1v1.1h-1.1zM599.6 73.6h1.1v1.1h-1.1zM587.6 86.8h1.1v1.1h-1.1zM593.4 68.8h1.1v1.1h-1.1zM628.3 88.6h1.1v1.1h-1.1zM629.3 138.8h1.1v1.1h-1.1zM623.0 134.0h1.1v1.1h-1.1zM618.3 135.8h1.1v1.1h-1.1zM614.5 139.4h1.1v1.1h-1.1zM630.3 102.6h1.1v1.1h-1.1zM625.2 130.8h1.1v1.1h-1.1zM589.8 103.1h1.1v1.1h-1.1zM615.8 107.4h1.1v1.1h-1.1zM629.6 112.7h1.1v1.1h-1.1zM611.7 117.8h1.1v1.1h-1.1zM621.8 76.0h1.1v1.1h-1.1zM602.2 127.9h1.1v1.1h-1.1zM609.2 132.3h1.1v1.1h-1.1zM601.0 125.3h1.1v1.1h-1.1zM595.8 78.5h1.1v1.1h-1.1zM621.7 59.3h1.1v1.1h-1.1zM629.6 122.2h1.1v1.1h-1.1zM605.5 125.5h1.1v1.1h-1.1zM610.3 114.5h1.1v1.1h-1.1zM627.7 84.4h1.1v1.1h-1.1zM613.1 122.0h1.1v1.1h-1.1zM618.2 80.6h1.1v1.1h-1.1zM609.0 123.3h1.1v1.1h-1.1zM595.7 101.0h1.1v1.1h-1.1zM591.0 138.6h1.1v1.1h-1.1zM602.9 102.7h1.1v1.1h-1.1zM610.9 84.2h1.1v1.1h-1.1zM588.3 108.9h1.1v1.1h-1.1zM619.0 139.1h1.1v1.1h-1.1zM611.4 104.2h1.1v1.1h-1.1zM589.0 107.2h1.1v1.1h-1.1zM598.3 64.5h1.1v1.1h-1.1zM601.5 73.6h1.1v1.1h-1.1zM605.5 113.5h1.1v1.1h-1.1zM616.0 111.2h1.1v1.1h-1.1zM618.9 87.3h1.1v1.1h-1.1zM587.7 139.6h1.1v1.1h-1.1zM618.9 102.9h1.1v1.1h-1.1zM614.2 97.6h1.1v1.1h-1.1zM627.4 157.3h1.1v1.1h-1.1zM599.8 97.2h1.1v1.1h-1.1zM614.6 59.3h1.1v1.1h-1.1zM614.0 99.3h1.1v1.1h-1.1zM613.1 55.2h1.1v1.1h-1.1zM601.6 124.4h1.1v1.1h-1.1zM599.9 123.3h1.1v1.1h-1.1zM608.0 107.2h1.1v1.1h-1.1zM615.9 135.8h1.1v1.1h-1.1zM598.7 76.2h1.1v1.1h-1.1zM630.0 95.4h1.1v1.1h-1.1zM625.6 97.3h1.1v1.1h-1.1zM617.1 128.4h1.1v1.1h-1.1zM627.4 121.0h1.1v1.1h-1.1zM629.9 64.6h1.1v1.1h-1.1zM618.8 56.2h1.1v1.1h-1.1zM610.6 104.1h1.1v1.1h-1.1zM624.0 88.7h1.1v1.1h-1.1zM621.5 94.3h1.1v1.1h-1.1zM589.4 117.8h1.1v1.1h-1.1zM624.7 121.3h1.1v1.1h-1.1zM591.1 119.7h1.1v1.1h-1.1zM619.5 93.7h1.1v1.1h-1.1zM618.9 127.7h1.1v1.1h-1.1zM626.3 125.4h1.1v1.1h-1.1zM599.1 80.0h1.1v1.1h-1.1zM618.8 110.7h1.1v1.1h-1.1zM588.6 53.1h1.1v1.1h-1.1zM618.6 99.1h1.1v1.1h-1.1zM596.8 129.9h1.1v1.1h-1.1zM615.6 72.5h1.1v1.1h-1.1zM612.0 144.2h1.1v1.1h-1.1zM630.2 115.3h1.1v1.1h-1.1zM597.9 107.9h1.1v1.1h-1.1zM594.2 71.4h1.1v1.1h-1.1zM591.7 75.1h1.1v1.1h-1.1zM603.7 119.5h1.1v1.1h-1.1zM624.7 65.2h1.1v1.1h-1.1zM623.2 133.2h1.1v1.1h-1.1zM599.6 107.8h1.1v1.1h-1.1zM590.4 133.2h1.1v1.1h-1.1zM588.5 121.0h1.1v1.1h-1.1zM596.0 145.5h1.1v1.1h-1.1zM619.1 124.5h1.1v1.1h-1.1zM604.7 106.4h1.1v1.1h-1.1zM590.2 79.3h1.1v1.1h-1.1zM598.5 111.4h1.1v1.1h-1.1zM595.2 111.7h1.1v1.1h-1.1zM597.6 112.3h1.1v1.1h-1.1zM609.9 138.0h1.1v1.1h-1.1zM609.0 125.4h1.1v1.1h-1.1zM616.0 117.2h1.1v1.1h-1.1zM608.9 107.7h1.1v1.1h-1.1zM604.3 106.5h1.1v1.1h-1.1zM612.2 105.5h1.1v1.1h-1.1zM610.8 107.3h1.1v1.1h-1.1zM623.4 58.1h1.1v1.1h-1.1zM590.5 124.7h1.1v1.1h-1.1zM623.8 86.0h1.1v1.1h-1.1zM614.1 85.5h1.1v1.1h-1.1zM621.2 153.8h1.1v1.1h-1.1zM589.1 108.5h1.1v1.1h-1.1zM626.4 79.7h1.1v1.1h-1.1zM590.7 93.2h1.1v1.1h-1.1zM591.5 109.3h1.1v1.1h-1.1zM611.6 125.9h1.1v1.1h-1.1zM590.8 104.1h1.1v1.1h-1.1zM626.3 143.8h1.1v1.1h-1.1zM618.7 110.2h1.1v1.1h-1.1zM619.5 94.9h1.1v1.1h-1.1zM601.6 104.7h1.1v1.1h-1.1zM621.0 129.0h1.1v1.1h-1.1zM628.8 131.6h1.1v1.1h-1.1zM593.6 69.8h1.1v1.1h-1.1zM610.3 118.4h1.1v1.1h-1.1zM596.3 108.0h1.1v1.1h-1.1zM612.2 64.7h1.1v1.1h-1.1zM618.3 116.8h1.1v1.1h-1.1zM622.5 116.7h1.1v1.1h-1.1zM610.5 75.4h1.1v1.1h-1.1zM628.4 79.5h1.1v1.1h-1.1zM601.6 120.2h1.1v1.1h-1.1zM616.6 136.2h1.1v1.1h-1.1zM625.1 67.7h1.1v1.1h-1.1zM625.5 86.8h1.1v1.1h-1.1zM595.5 97.3h1.1v1.1h-1.1zM621.1 137.2h1.1v1.1h-1.1zM596.5 113.2h1.1v1.1h-1.1zM601.8 113.9h1.1v1.1h-1.1zM617.1 128.1h1.1v1.1h-1.1zM628.1 94.0h1.1v1.1h-1.1zM600.1 127.5h1.1v1.1h-1.1zM622.7 97.3h1.1v1.1h-1.1zM618.3 126.4h1.1v1.1h-1.1zM613.2 85.7h1.1v1.1h-1.1zM613.8 96.2h1.1v1.1h-1.1zM604.6 111.5h1.1v1.1h-1.1zM594.5 55.7h1.1v1.1h-1.1zM590.7 127.0h1.1v1.1h-1.1zM590.5 126.5h1.1v1.1h-1.1zM605.7 103.2h1.1v1.1h-1.1zM618.7 100.6h1.1v1.1h-1.1zM622.3 126.9h1.1v1.1h-1.1zM603.4 92.5h1.1v1.1h-1.1zM593.3 108.1h1.1v1.1h-1.1zM600.7 76.7h1.1v1.1h-1.1zM592.9 129.7h1.1v1.1h-1.1zM587.5 127.2h1.1v1.1h-1.1zM628.5 100.6h1.1v1.1h-1.1zM619.7 95.1h1.1v1.1h-1.1zM598.7 103.7h1.1v1.1h-1.1zM587.6 102.2h1.1v1.1h-1.1zM619.6 90.8h1.1v1.1h-1.1zM599.0 96.2h1.1v1.1h-1.1zM608.2 109.5h1.1v1.1h-1.1zM624.8 143.2h1.1v1.1h-1.1zM590.2 73.9h1.1v1.1h-1.1zM625.6 144.4h1.1v1.1h-1.1zM620.0 84.3h1.1v1.1h-1.1zM598.4 134.6h1.1v1.1h-1.1zM609.2 85.6h1.1v1.1h-1.1zM595.3 112.4h1.1v1.1h-1.1zM601.0 130.4h1.1v1.1h-1.1zM623.4 69.1h1.1v1.1h-1.1zM612.6 134.3h1.1v1.1h-1.1zM618.0 91.5h1.1v1.1h-1.1zM593.7 120.6h1.1v1.1h-1.1zM606.3 82.8h1.1v1.1h-1.1zM615.4 101.3h1.1v1.1h-1.1zM605.4 86.7h1.1v1.1h-1.1zM605.9 105.9h1.1v1.1h-1.1zM588.8 107.2h1.1v1.1h-1.1zM603.3 112.3h1.1v1.1h-1.1zM606.3 110.3h1.1v1.1h-1.1zM598.1 119.3h1.1v1.1h-1.1zM587.2 106.6h1.1v1.1h-1.1zM626.0 99.3h1.1v1.1h-1.1zM616.5 72.1h1.1v1.1h-1.1zM621.4 130.5h1.1v1.1h-1.1zM626.3 109.1h1.1v1.1h-1.1zM604.8 130.7h1.1v1.1h-1.1zM610.2 85.8h1.1v1.1h-1.1zM593.1 119.5h1.1v1.1h-1.1zM590.5 136.7h1.1v1.1h-1.1zM607.3 104.4h1.1v1.1h-1.1zM587.4 111.6h1.1v1.1h-1.1zM610.5 102.9h1.1v1.1h-1.1zM589.0 119.6h1.1v1.1h-1.1zM615.7 133.7h1.1v1.1h-1.1zM597.6 103.6h1.1v1.1h-1.1zM606.6 104.6h1.1v1.1h-1.1zM596.8 121.3h1.1v1.1h-1.1zM630.5 110.4h1.1v1.1h-1.1zM624.1 89.0h1.1v1.1h-1.1zM625.0 122.6h1.1v1.1h-1.1zM604.0 93.1h1.1v1.1h-1.1zM592.6 113.6h1.1v1.1h-1.1zM594.2 68.5h1.1v1.1h-1.1zM599.9 111.2h1.1v1.1h-1.1zM626.5 111.5h1.1v1.1h-1.1zM600.8 107.2h1.1v1.1h-1.1zM596.9 89.0h1.1v1.1h-1.1zM588.9 99.1h1.1v1.1h-1.1zM596.9 149.4h1.1v1.1h-1.1zM618.5 128.3h1.1v1.1h-1.1zM593.0 111.5h1.1v1.1h-1.1zM625.5 116.5h1.1v1.1h-1.1zM607.3 69.4h1.1v1.1h-1.1zM603.4 125.6h1.1v1.1h-1.1zM589.6 88.6h1.1v1.1h-1.1zM625.6 129.0h1.1v1.1h-1.1zM618.4 66.8h1.1v1.1h-1.1zM610.5 145.6h1.1v1.1h-1.1zM598.8 94.0h1.1v1.1h-1.1zM612.9 87.4h1.1v1.1h-1.1zM594.5 94.6h1.1v1.1h-1.1zM607.9 76.2h1.1v1.1h-1.1zM623.8 82.3h1.1v1.1h-1.1zM619.0 93.5h1.1v1.1h-1.1zM602.4 91.5h1.1v1.1h-1.1zM622.5 95.1h1.1v1.1h-1.1zM599.0 106.0h1.1v1.1h-1.1zM606.0 111.0h1.1v1.1h-1.1zM615.3 126.3h1.1v1.1h-1.1zM591.8 119.4h1.1v1.1h-1.1zM606.8 110.4h1.1v1.1h-1.1zM619.2 109.1h1.1v1.1h-1.1zM589.1 155.9h1.1v1.1h-1.1zM605.8 103.9h1.1v1.1h-1.1zM589.4 144.4h1.1v1.1h-1.1zM615.3 98.4h1.1v1.1h-1.1zM610.6 86.3h1.1v1.1h-1.1zM626.7 94.6h1.1v1.1h-1.1zM599.4 98.8h1.1v1.1h-1.1zM614.8 114.8h1.1v1.1h-1.1zM624.1 107.6h1.1v1.1h-1.1zM619.0 140.8h1.1v1.1h-1.1zM619.8 74.8h1.1v1.1h-1.1zM601.2 84.5h1.1v1.1h-1.1zM610.4 108.8h1.1v1.1h-1.1zM590.4 128.8h1.1v1.1h-1.1zM614.0 108.6h1.1v1.1h-1.1zM610.2 127.7h1.1v1.1h-1.1zM619.5 99.4h1.1v1.1h-1.1zM593.1 109.6h1.1v1.1h-1.1zM593.9 93.8h1.1v1.1h-1.1zM603.6 78.8h1.1v1.1h-1.1zM603.2 110.6h1.1v1.1h-1.1zM594.5 86.6h1.1v1.1h-1.1zM607.6 112.0h1.1v1.1h-1.1zM589.4 80.0h1.1v1.1h-1.1zM627.5 104.2h1.1v1.1h-1.1zM604.0 126.6h1.1v1.1h-1.1zM618.2 100.3h1.1v1.1h-1.1zM586.8 132.0h1.1v1.1h-1.1zM593.7 119.1h1.1v1.1h-1.1zM607.5 128.3h1.1v1.1h-1.1zM601.5 93.3h1.1v1.1h-1.1zM597.2 119.5h1.1v1.1h-1.1zM589.8 100.4h1.1v1.1h-1.1zM592.2 60.5h1.1v1.1h-1.1zM620.3 85.8h1.1v1.1h-1.1zM615.5 100.0h1.1v1.1h-1.1zM620.8 128.1h1.1v1.1h-1.1zM588.1 125.8h1.1v1.1h-1.1zM628.5 101.7h1.1v1.1h-1.1zM619.3 103.9h1.1v1.1h-1.1zM594.4 53.6h1.1v1.1h-1.1zM611.9 129.4h1.1v1.1h-1.1zM624.7 124.4h1.1v1.1h-1.1zM588.0 73.7h1.1v1.1h-1.1zM608.4 105.7h1.1v1.1h-1.1zM587.8 83.0h1.1v1.1h-1.1zM608.4 60.0h1.1v1.1h-1.1zM607.4 84.8h1.1v1.1h-1.1zM623.0 109.3h1.1v1.1h-1.1zM601.3 95.7h1.1v1.1h-1.1zM586.7 90.2h1.1v1.1h-1.1zM619.6 103.0h1.1v1.1h-1.1zM626.9 109.1h1.1v1.1h-1.1zM598.0 86.6h1.1v1.1h-1.1zM589.2 102.2h1.1v1.1h-1.1zM587.3 90.3h1.1v1.1h-1.1zM624.5 58.5h1.1v1.1h-1.1zM610.7 115.4h1.1v1.1h-1.1zM630.3 105.8h1.1v1.1h-1.1zM621.8 109.8h1.1v1.1h-1.1zM597.0 114.0h1.1v1.1h-1.1zM622.5 114.2h1.1v1.1h-1.1zM608.9 58.6h1.1v1.1h-1.1zM609.9 122.6h1.1v1.1h-1.1zM609.5 99.4h1.1v1.1h-1.1zM588.4 102.9h1.1v1.1h-1.1zM604.2 94.8h1.1v1.1h-1.1zM602.5 105.3h1.1v1.1h-1.1zM613.8 65.7h1.1v1.1h-1.1zM614.3 111.1h1.1v1.1h-1.1zM596.3 120.0h1.1v1.1h-1.1zM621.9 100.0h1.1v1.1h-1.1zM621.8 105.4h1.1v1.1h-1.1zM592.2 103.9h1.1v1.1h-1.1zM593.1 108.0h1.1v1.1h-1.1zM617.2 116.0h1.1v1.1h-1.1zM622.9 77.8h1.1v1.1h-1.1zM617.7 91.4h1.1v1.1h-1.1zM595.1 121.0h1.1v1.1h-1.1zM618.7 117.1h1.1v1.1h-1.1zM614.3 95.5h1.1v1.1h-1.1zM601.3 140.1h1.1v1.1h-1.1zM608.7 70.7h1.1v1.1h-1.1zM612.3 127.6h1.1v1.1h-1.1zM606.3 106.6h1.1v1.1h-1.1zM618.1 87.0h1.1v1.1h-1.1zM609.1 92.0h1.1v1.1h-1.1zM600.8 123.2h1.1v1.1h-1.1zM590.5 116.2h1.1v1.1h-1.1zM629.3 110.6h1.1v1.1h-1.1zM627.6 131.0h1.1v1.1h-1.1zM628.8 90.8h1.1v1.1h-1.1zM628.9 108.5h1.1v1.1h-1.1zM615.4 106.7h1.1v1.1h-1.1zM601.1 152.6h1.1v1.1h-1.1zM617.3 104.1h1.1v1.1h-1.1zM603.7 106.6h1.1v1.1h-1.1zM625.7 102.9h1.1v1.1h-1.1zM605.3 133.9h1.1v1.1h-1.1zM609.4 90.2h1.1v1.1h-1.1zM587.5 91.0h1.1v1.1h-1.1zM589.5 121.8h1.1v1.1h-1.1zM606.8 117.4h1.1v1.1h-1.1zM630.1 110.5h1.1v1.1h-1.1zM609.4 114.6h1.1v1.1h-1.1zM629.3 87.5h1.1v1.1h-1.1zM625.8 108.4h1.1v1.1h-1.1zM597.0 74.6h1.1v1.1h-1.1zM625.3 118.1h1.1v1.1h-1.1zM620.3 114.2h1.1v1.1h-1.1zM608.6 91.2h1.1v1.1h-1.1zM586.8 88.2h1.1v1.1h-1.1zM626.2 125.5h1.1v1.1h-1.1zM612.0 105.2h1.1v1.1h-1.1zM594.4 104.2h1.1v1.1h-1.1zM618.4 132.1h1.1v1.1h-1.1zM626.7 118.1h1.1v1.1h-1.1zM618.1 99.5h1.1v1.1h-1.1zM596.7 101.9h1.1v1.1h-1.1zM629.9 94.7h1.1v1.1h-1.1zM601.8 96.4h1.1v1.1h-1.1zM596.5 97.1h1.1v1.1h-1.1zM592.9 109.6h1.1v1.1h-1.1zM620.7 122.9h1.1v1.1h-1.1zM587.9 115.1h1.1v1.1h-1.1zM609.3 104.3h1.1v1.1h-1.1zM615.8 80.3h1.1v1.1h-1.1zM625.3 124.7h1.1v1.1h-1.1zM620.0 89.7h1.1v1.1h-1.1zM608.6 98.3h1.1v1.1h-1.1zM624.1 119.2h1.1v1.1h-1.1zM604.5 119.9h1.1v1.1h-1.1zM592.3 120.2h1.1v1.1h-1.1zM589.8 148.5h1.1v1.1h-1.1zM629.9 75.3h1.1v1.1h-1.1zM623.4 151.5h1.1v1.1h-1.1zM588.2 74.1h1.1v1.1h-1.1zM623.0 113.7h1.1v1.1h-1.1zM623.7 95.5h1.1v1.1h-1.1zM594.4 82.2h1.1v1.1h-1.1zM620.2 121.3h1.1v1.1h-1.1zM601.7 89.3h1.1v1.1h-1.1zM609.8 111.3h1.1v1.1h-1.1zM606.7 83.8h1.1v1.1h-1.1zM597.9 72.3h1.1v1.1h-1.1zM603.1 89.2h1.1v1.1h-1.1zM590.5 133.7h1.1v1.1h-1.1zM602.0 92.3h1.1v1.1h-1.1zM602.5 126.0h1.1v1.1h-1.1zM591.9 122.7h1.1v1.1h-1.1zM589.4 80.4h1.1v1.1h-1.1zM609.8 115.5h1.1v1.1h-1.1zM587.2 123.5h1.1v1.1h-1.1zM600.2 136.4h1.1v1.1h-1.1zM594.8 116.3h1.1v1.1h-1.1zM602.7 103.9h1.1v1.1h-1.1zM628.2 134.0h1.1v1.1h-1.1zM613.1 114.0h1.1v1.1h-1.1zM608.9 115.9h1.1v1.1h-1.1zM612.2 116.0h1.1v1.1h-1.1zM611.1 119.8h1.1v1.1h-1.1zM606.5 99.6h1.1v1.1h-1.1zM616.7 97.4h1.1v1.1h-1.1zM586.7 99.3h1.1v1.1h-1.1zM609.2 85.7h1.1v1.1h-1.1zM587.4 122.8h1.1v1.1h-1.1zM599.3 138.3h1.1v1.1h-1.1zM615.7 103.8h1.1v1.1h-1.1zM598.1 81.5h1.1v1.1h-1.1zM610.1 96.5h1.1v1.1h-1.1zM592.4 71.6h1.1v1.1h-1.1zM612.7 64.5h1.1v1.1h-1.1zM610.6 96.2h1.1v1.1h-1.1zM598.3 116.5h1.1v1.1h-1.1zM630.2 111.3h1.1v1.1h-1.1zM602.6 143.9h1.1v1.1h-1.1zM627.4 122.5h1.1v1.1h-1.1zM606.3 142.0h1.1v1.1h-1.1zM623.0 108.0h1.1v1.1h-1.1zM629.8 134.3h1.1v1.1h-1.1zM592.5 107.5h1.1v1.1h-1.1zM612.1 135.1h1.1v1.1h-1.1zM624.4 120.7h1.1v1.1h-1.1zM607.4 117.7h1.1v1.1h-1.1zM624.8 113.3h1.1v1.1h-1.1zM611.2 123.1h1.1v1.1h-1.1zM602.3 120.1h1.1v1.1h-1.1zM606.5 106.6h1.1v1.1h-1.1zM609.2 92.7h1.1v1.1h-1.1zM597.3 60.9h1.1v1.1h-1.1zM624.9 107.3h1.1v1.1h-1.1zM626.8 122.0h1.1v1.1h-1.1zM588.2 85.9h1.1v1.1h-1.1zM602.1 123.3h1.1v1.1h-1.1zM503.8 138.8h1.1v1.1h-1.1zM510.6 150.4h1.1v1.1h-1.1zM525.2 147.4h1.1v1.1h-1.1zM540.7 148.3h1.1v1.1h-1.1zM542.1 160.0h1.1v1.1h-1.1zM531.9 155.6h1.1v1.1h-1.1zM536.9 154.8h1.1v1.1h-1.1z" fill="#222" fill-opacity="0.66"/>
<rect x="469.5" y="42" width="192.10" height="124.90" fill="none" stroke="#c4c4c4" stroke-width="0.9"/>
<line x1="469.5" x2="469.5" y1="42" y2="166.9" stroke="#aaa" stroke-width="1.0"/>
<line x1="469.5" x2="661.6" y1="166.9" y2="166.9" stroke="#aaa" stroke-width="1.0"/>
<line x1="468.0" x2="469.5" y1="140.40" y2="140.40" stroke="#555" stroke-width="0.6"/>
<text x="467.20" y="142.70" font-size="6.6" text-anchor="end" fill="#555">6</text>
<line x1="468.0" x2="469.5" y1="105.40" y2="105.40" stroke="#555" stroke-width="0.6"/>
<text x="467.20" y="107.70" font-size="6.6" text-anchor="end" fill="#555">8</text>
<line x1="468.0" x2="469.5" y1="70.40" y2="70.40" stroke="#555" stroke-width="0.6"/>
<text x="467.20" y="72.70" font-size="6.6" text-anchor="end" textLength="6.6" lengthAdjust="spacingAndGlyphs" fill="#555">10</text>
<line x1="521.60" x2="521.60" y1="166.9" y2="168.4" stroke="#555" stroke-width="0.6"/>
<line x1="609.50" x2="609.50" y1="166.9" y2="168.4" stroke="#555" stroke-width="0.6"/>
<text font-size="6.3" fill="#555" text-anchor="end" transform="translate(523.20,172.50) rotate(-30)">Non-tumor</text>
<text font-size="6.3" fill="#555" text-anchor="end" transform="translate(611.10,172.50) rotate(-30)">GBM</text>
<text font-size="6.1" fill="#2a2a2a" text-anchor="middle" textLength="67.2" lengthAdjust="spacingAndGlyphs" transform="translate(452.1,106.1) rotate(-90)">mRNA expression (log2)</text>
<text x="566.00" y="199.80" font-size="6.25" text-anchor="middle" fill="#222">Histology</text>
<text x="535.50" y="23.10" font-size="14.5" font-weight="bold" textLength="37.6" lengthAdjust="spacingAndGlyphs" fill="#111">SOD2</text>
<text x="84.00" y="235.10" font-size="8.17" textLength="162" lengthAdjust="spacingAndGlyphs" fill="#222">Histology: GBM; Subtype: All; Cutoff: median</text>
<line x1="83.5" x2="83.5" y1="247" y2="373" stroke="#707070" stroke-width="1.0"/>
<line x1="83.5" x2="269.9" y1="373" y2="373" stroke="#707070" stroke-width="1.0"/>
<line x1="81.9" x2="83.5" y1="252.20" y2="252.20" stroke="#333" stroke-width="0.6"/>
<text x="80.90" y="254.40" font-size="6.2" text-anchor="end" fill="#3a3a3a">100%</text>
<line x1="81.9" x2="83.5" y1="280.98" y2="280.98" stroke="#333" stroke-width="0.6"/>
<text x="80.90" y="283.18" font-size="6.2" text-anchor="end" fill="#3a3a3a">75%</text>
<line x1="81.9" x2="83.5" y1="309.75" y2="309.75" stroke="#333" stroke-width="0.6"/>
<text x="80.90" y="311.95" font-size="6.2" text-anchor="end" fill="#3a3a3a">50%</text>
<line x1="81.9" x2="83.5" y1="338.53" y2="338.53" stroke="#333" stroke-width="0.6"/>
<text x="80.90" y="340.73" font-size="6.2" text-anchor="end" fill="#3a3a3a">25%</text>
<line x1="81.9" x2="83.5" y1="367.30" y2="367.30" stroke="#333" stroke-width="0.6"/>
<text x="80.90" y="369.50" font-size="6.2" text-anchor="end" fill="#3a3a3a">0%</text>
<line x1="92.40" x2="92.40" y1="373" y2="374.6" stroke="#333" stroke-width="0.6"/>
<text x="92.40" y="380.10" font-size="6.2" text-anchor="middle" fill="#3a3a3a">0</text>
<line x1="158.60" x2="158.60" y1="373" y2="374.6" stroke="#333" stroke-width="0.6"/>
<text x="158.60" y="380.10" font-size="6.2" text-anchor="middle" fill="#3a3a3a">50</text>
<line x1="224.80" x2="224.80" y1="373" y2="374.6" stroke="#333" stroke-width="0.6"/>
<text x="224.80" y="380.10" font-size="6.2" text-anchor="middle" fill="#3a3a3a">100</text>
<path d="M92.40 252.20H92.79V253.61H92.79V255.38H93.30V256.93H93.74V258.15H93.83V259.93H93.83V260.75H94.22V261.98H95.39V263.33H95.76V264.04H96.68V265.78H97.53V267.35H98.33V268.20H98.56V269.61H98.93V271.30H99.33V272.23H100.86V273.93H101.31V274.95H101.38V276.42H102.08V277.35H102.24V279.15H102.60V280.87H103.19V281.75H103.67V282.61H104.16V283.99H104.16V284.69H104.16V285.73H104.30V287.37H104.78V288.61H106.25V290.11H106.64V290.83H106.83V292.38H106.96V293.98H107.04V295.09H107.09V295.84H107.50V296.74H107.69V298.30H108.41V300.06H108.41V301.16H108.69V302.45H108.80V304.00H109.26V305.61H109.58V307.39H109.58V308.19H110.44V309.93H111.12V311.02H111.12V312.07H111.27V313.12H111.57V313.98H112.10V315.47H112.16V316.21H112.16V318.04H112.24V319.00H112.82V320.38H112.82V321.55H113.01V322.31H113.30V323.57H114.20V325.22H115.08V327.01H115.32V328.42H115.32V329.61H115.62V330.48H115.62V331.69H117.69V333.53H117.69V334.74H118.56V335.99H118.95V337.02H120.25V338.17H122.00V340.00H122.94V341.80H123.43V342.88H124.02V343.67H125.71V345.36H126.91V346.87H128.68V348.76H130.81V350.43H134.97V352.00H138.25V353.02H143.59V354.50H147.23V355.53H151.80V356.89H154.38V357.59H159.99V359.06H168.22V360.28H184.00V361.89H198.03V362.98H210.68V364.62H217.05V365.72H245.98" fill="none" stroke="#ee867d" stroke-width="1.05"/>
<path d="M92.40 252.20H93.11V253.80H93.11V254.80H93.11V255.49H93.13V257.05H93.68V258.17H93.96V259.79H94.15V261.32H95.09V262.79H95.09V263.70H95.09V264.70H95.50V266.32H95.50V267.39H96.19V268.19H96.19V269.39H96.85V270.19H97.97V271.22H98.51V273.00H99.10V274.45H100.54V275.55H100.65V276.84H101.04V278.27H101.17V280.08H101.31V280.81H102.44V281.85H103.87V283.22H104.83V284.51H104.85V285.34H104.86V286.25H105.59V287.50H106.51V289.19H107.73V290.68H107.76V291.39H108.34V292.47H108.34V293.51H108.34V294.63H108.55V296.48H108.55V297.23H108.71V298.38H109.18V300.20H110.76V301.91H111.23V303.38H111.23V305.02H111.23V306.63H111.23V308.13H112.01V309.29H112.49V310.29H112.70V311.54H112.70V312.26H112.70V313.09H112.70V314.08H113.42V315.29H113.70V316.45H114.09V318.15H114.40V319.39H115.22V320.63H115.95V321.67H116.24V323.29H117.49V325.10H117.77V326.85H118.71V327.91H118.71V329.06H119.51V330.83H120.55V331.85H120.91V332.61H121.26V333.34H121.79V334.85H123.13V335.96H123.13V336.72H124.02V337.63H124.27V338.81H125.19V340.40H125.25V341.63H125.52V342.44H126.45V343.85H127.32V345.24H128.06V346.34H128.61V347.39H133.62V349.53H137.48V351.09H142.38V352.75H144.45V353.53H149.52V355.27H154.65V356.99H161.31V358.59H166.96V359.44H176.66V360.63H203.38V362.22H211.90V363.73H212.99V364.50H215.51V365.51H261.87" fill="none" stroke="#3cbfd1" stroke-width="1.05"/>
<line x1="137.0" x2="142.9" y1="258.20" y2="258.20" stroke="#ee867d" stroke-width="0.9"/>
<text x="144.70" y="260.00" font-size="5.3" textLength="110.6" lengthAdjust="spacingAndGlyphs" fill="#333">SOD1 High (n=259, events=223, median=13.6)</text>
<line x1="137.0" x2="142.9" y1="266.10" y2="266.10" stroke="#3cbfd1" stroke-width="0.9"/>
<text x="144.70" y="267.90" font-size="5.3" textLength="107.5" lengthAdjust="spacingAndGlyphs" fill="#333">SOD1 Low (n=266, events=224, median=14.2)</text>
<text x="206.70" y="285.60" font-size="4.5" text-anchor="middle" textLength="50.5" lengthAdjust="spacingAndGlyphs" fill="#333">HR = 0.91, (0.76 - 1.1)</text>
<text x="206.70" y="294.20" font-size="4.5" text-anchor="middle" textLength="56.0" lengthAdjust="spacingAndGlyphs" fill="#333">Log-rank p value= 0.3303</text>
<text x="206.70" y="302.80" font-size="4.5" text-anchor="middle" textLength="56.5" lengthAdjust="spacingAndGlyphs" fill="#333">Wilcoxon p value= 0.2302</text>
<text font-size="7.2" fill="#333" text-anchor="middle" textLength="29.8" lengthAdjust="spacingAndGlyphs" transform="translate(62.2,309.7) rotate(-90)">Surviving</text>
<text x="177.00" y="387.30" font-size="7.2" text-anchor="middle" textLength="72.6" lengthAdjust="spacingAndGlyphs" fill="#333">Survival time (Months)</text>
<text x="474.60" y="235.10" font-size="8.17" textLength="162.9" lengthAdjust="spacingAndGlyphs" fill="#222">Histology: GBM; Subtype: All; Cutoff: median</text>
<line x1="474.6" x2="474.6" y1="246.6" y2="372.6" stroke="#707070" stroke-width="1.0"/>
<line x1="474.6" x2="660.6" y1="372.6" y2="372.6" stroke="#707070" stroke-width="1.0"/>
<line x1="473.0" x2="474.6" y1="252.30" y2="252.30" stroke="#333" stroke-width="0.6"/>
<text x="472.00" y="254.50" font-size="6.2" text-anchor="end" fill="#3a3a3a">100%</text>
<line x1="473.0" x2="474.6" y1="281.07" y2="281.07" stroke="#333" stroke-width="0.6"/>
<text x="472.00" y="283.27" font-size="6.2" text-anchor="end" fill="#3a3a3a">75%</text>
<line x1="473.0" x2="474.6" y1="309.85" y2="309.85" stroke="#333" stroke-width="0.6"/>
<text x="472.00" y="312.05" font-size="6.2" text-anchor="end" fill="#3a3a3a">50%</text>
<line x1="473.0" x2="474.6" y1="338.62" y2="338.62" stroke="#333" stroke-width="0.6"/>
<text x="472.00" y="340.82" font-size="6.2" text-anchor="end" fill="#3a3a3a">25%</text>
<line x1="473.0" x2="474.6" y1="367.40" y2="367.40" stroke="#333" stroke-width="0.6"/>
<text x="472.00" y="369.60" font-size="6.2" text-anchor="end" fill="#3a3a3a">0%</text>
<line x1="483.50" x2="483.50" y1="372.6" y2="374.20000000000005" stroke="#333" stroke-width="0.6"/>
<text x="483.50" y="379.70" font-size="6.2" text-anchor="middle" fill="#3a3a3a">0</text>
<line x1="549.90" x2="549.90" y1="372.6" y2="374.20000000000005" stroke="#333" stroke-width="0.6"/>
<text x="549.90" y="379.70" font-size="6.2" text-anchor="middle" fill="#3a3a3a">50</text>
<line x1="616.30" x2="616.30" y1="372.6" y2="374.20000000000005" stroke="#333" stroke-width="0.6"/>
<text x="616.30" y="379.70" font-size="6.2" text-anchor="middle" fill="#3a3a3a">100</text>
<path d="M483.50 252.30H483.99V253.25H484.32V254.75H484.55V255.54H486.39V256.47H486.39V257.90H486.39V259.16H486.49V260.08H486.49V261.04H486.53V261.75H487.39V263.48H487.83V264.60H488.41V266.44H488.41V267.20H488.41V268.65H488.41V269.73H488.41V271.17H488.73V272.90H488.97V273.66H489.34V275.44H490.03V277.22H490.43V278.58H490.43V279.60H491.05V280.70H491.85V282.27H492.18V283.07H492.64V284.86H493.45V286.52H494.14V287.38H494.84V288.68H495.74V290.41H496.03V291.69H496.06V292.66H496.18V293.36H496.84V294.54H497.57V295.66H497.57V296.56H497.57V297.70H498.47V299.51H498.59V300.44H498.59V301.14H498.59V302.71H498.89V303.91H498.89V304.86H499.17V306.03H499.36V307.40H499.69V308.19H499.69V309.00H499.69V310.63H499.71V311.90H499.71V312.66H499.71V313.37H500.58V314.72H500.58V316.27H501.75V316.96H502.42V318.61H503.41V319.34H503.79V321.14H503.79V322.50H503.79V323.40H503.79V324.18H503.79V325.57H504.17V326.44H504.17V327.27H504.41V328.11H504.92V329.30H504.92V330.54H505.37V331.68H506.20V332.60H507.33V333.80H508.34V335.31H509.19V336.70H509.56V337.89H510.49V338.69H510.79V339.96H511.54V341.46H512.39V342.76H513.02V344.30H513.62V345.70H514.77V348.04H515.69V350.23H516.33V351.24H517.84V353.06H518.94V354.17H521.26V355.46H526.43V356.87H530.16V357.90H537.43V359.56H541.22V361.36H546.81V363.02H560.91V364.42H653.48" fill="none" stroke="#ee867d" stroke-width="1.05"/>
<path d="M483.50 252.30H483.70V253.52H484.41V255.21H484.41V255.91H484.41V256.69H484.54V258.02H484.93V259.15H484.93V260.65H485.54V261.52H486.36V262.48H487.24V264.24H487.68V265.61H487.69V267.16H487.82V267.97H488.96V269.49H489.53V270.67H489.88V271.60H490.27V272.61H490.65V274.33H491.75V276.03H492.34V277.28H492.34V278.00H492.58V278.82H493.57V280.20H494.61V281.92H495.04V282.84H495.47V284.16H496.09V284.87H496.93V286.62H496.93V287.79H497.37V288.59H498.03V289.95H499.07V291.74H499.07V292.49H499.07V293.36H500.50V294.36H500.50V295.19H501.07V296.69H501.25V298.08H501.25V298.82H501.86V300.19H502.65V301.78H503.04V303.46H503.04V304.82H503.04V306.65H503.80V308.00H503.82V309.07H503.90V310.26H504.32V311.32H504.32V312.12H504.32V313.71H504.32V314.43H504.32V315.69H504.67V317.20H506.09V318.38H506.96V319.34H507.34V320.46H507.76V322.14H508.73V323.02H509.57V324.69H510.67V326.50H512.27V327.39H512.40V328.78H512.93V329.48H513.56V330.62H514.63V332.01H514.85V332.87H515.64V334.20H516.44V335.53H517.63V337.03H518.54V338.53H519.55V340.10H521.70V340.98H524.38V342.50H525.62V343.76H527.48V344.56H530.70V345.82H537.88V347.72H545.60V348.87H546.74V349.68H548.89V351.15H550.47V352.30H558.00V354.08H562.19V355.39H568.86V357.22H583.03V358.93H598.19V360.24H602.25V361.98H605.19V363.29H607.53V364.33H609.13V365.14H637.55" fill="none" stroke="#3cbfd1" stroke-width="1.05"/>
<line x1="528.3" x2="534.1999999999999" y1="258.00" y2="258.00" stroke="#ee867d" stroke-width="0.9"/>
<text x="536.00" y="259.80" font-size="5.3" textLength="110.5" lengthAdjust="spacingAndGlyphs" fill="#333">SOD2 High (n=263, events=234, median=12.7)</text>
<line x1="528.3" x2="534.1999999999999" y1="265.90" y2="265.90" stroke="#3cbfd1" stroke-width="0.9"/>
<text x="536.00" y="267.70" font-size="5.3" textLength="109.0" lengthAdjust="spacingAndGlyphs" fill="#333">SOD2 Low (n=262, events=213, median=14.5)</text>
<text x="597.90" y="285.60" font-size="4.5" text-anchor="middle" textLength="49.5" lengthAdjust="spacingAndGlyphs" fill="#333">HR = 0.74, (0.62 - 0.9)</text>
<text x="597.90" y="294.20" font-size="4.5" text-anchor="middle" textLength="58.8" lengthAdjust="spacingAndGlyphs" fill="#333">** Log-rank p value= 0.002</text>
<text x="597.90" y="302.80" font-size="4.5" text-anchor="middle" textLength="60.5" lengthAdjust="spacingAndGlyphs" fill="#333">* Wilcoxon p value= 0.0399</text>
<text font-size="7.2" fill="#333" text-anchor="middle" textLength="29.8" lengthAdjust="spacingAndGlyphs" transform="translate(453.0,309.7) rotate(-90)">Surviving</text>
<text x="568.00" y="387.30" font-size="7.2" text-anchor="middle" textLength="72.6" lengthAdjust="spacingAndGlyphs" fill="#333">Survival time (Months)</text>
<path d="M95.00 548.00L95.00 530.00L95.50 516.00L98.00 509.00L102.00 504.00L110.00 501.50L117.00 499.50L121.00 493.00L125.00 485.00L133.00 483.00L142.00 483.00L152.00 482.50L163.00 482.00L175.00 484.50L186.00 488.50L200.00 493.00L202.00 545.00L120.00 556.00Z" fill="#b25657"/>
<path d="M161.50 487.00L161.34 487.74L161.00 488.45L160.51 489.09L160.15 489.72L160.27 490.49L160.27 491.25L160.11 491.99L159.78 492.64L159.28 493.20L158.65 493.64L157.94 493.96L157.34 494.34L157.09 495.09L156.74 495.79L156.27 496.38L155.67 496.82L154.98 497.10L154.23 497.21L153.45 497.17L152.74 497.23L152.14 497.78L151.48 498.22L150.75 498.49L150.00 498.57L149.25 498.45L148.53 498.13L147.88 497.68L147.23 497.32L146.45 497.45L145.67 497.45L144.93 497.28L144.27 496.92L143.72 496.40L143.29 495.74L142.99 494.99L142.65 494.35L141.93 494.07L141.28 493.69L140.74 493.19L140.34 492.57L140.12 491.87L140.06 491.12L140.13 490.35L140.11 489.65L139.58 489.07L139.14 488.43L138.86 487.73L138.76 487.00L138.85 486.27L139.12 485.57L139.52 484.92L139.81 484.27L139.61 483.47L139.55 482.67L139.65 481.90L139.94 481.19L140.41 480.59L141.03 480.12L141.75 479.76L142.37 479.37L142.65 478.61L143.04 477.93L143.56 477.36L144.20 476.95L144.94 476.73L145.73 476.69L146.54 476.80L147.27 476.82L147.88 476.35L148.55 475.98L149.26 475.77L150.00 475.75L150.73 475.92L151.41 476.26L152.04 476.73L152.66 477.07L153.42 476.92L154.19 476.88L154.93 477.00L155.60 477.30L156.18 477.76L156.64 478.35L156.99 479.03L157.39 479.61L158.16 479.84L158.88 480.19L159.48 480.66L159.94 481.26L160.21 481.96L160.31 482.73L160.26 483.52L160.29 484.24L160.81 484.85L161.22 485.52L161.46 486.25L161.50 487.00Z" fill="#b45859" stroke="#984446" stroke-width="0.5"/>
<path d="M154.3 492.6h.6v.6h-.6zM151.1 478.5h.6v.6h-.6zM149.2 480.1h.6v.6h-.6zM152.3 479.8h.6v.6h-.6zM156.2 490.4h.6v.6h-.6zM159.4 489.9h.6v.6h-.6zM155.9 485.0h.6v.6h-.6zM146.7 495.3h.6v.6h-.6z" fill="#8a3a3d" fill-opacity="0.5"/>
<path d="M186.43 493.00L186.19 493.67L185.83 494.29L185.40 494.87L185.54 495.56L185.59 496.26L185.51 496.94L185.30 497.58L184.94 498.16L184.45 498.64L183.86 499.03L183.21 499.33L182.68 499.68L182.42 500.32L182.08 500.92L181.64 501.44L181.10 501.84L180.49 502.11L179.83 502.24L179.14 502.24L178.45 502.14L177.86 502.34L177.28 502.75L176.66 503.06L176.00 503.24L175.33 503.27L174.67 503.14L174.04 502.86L173.46 502.47L172.95 502.00L172.28 501.99L171.56 501.99L170.87 501.88L170.24 501.63L169.68 501.24L169.22 500.73L168.88 500.12L168.64 499.46L168.42 498.81L167.80 498.48L167.22 498.07L166.74 497.57L166.38 496.99L166.16 496.34L166.10 495.65L166.17 494.95L166.36 494.27L166.36 493.63L166.03 493.00L165.80 492.33L165.70 491.64L165.76 490.96L165.97 490.31L166.33 489.72L166.80 489.19L167.35 488.73L167.56 488.13L167.66 487.43L167.87 486.76L168.20 486.16L168.66 485.66L169.23 485.28L169.88 485.02L170.57 484.88L171.28 484.83L171.72 484.31L172.19 483.81L172.74 483.40L173.35 483.13L174.01 483.00L174.69 483.02L175.36 483.19L176.00 483.46L176.61 483.67L177.26 483.42L177.94 483.26L178.62 483.22L179.28 483.33L179.90 483.58L180.45 483.97L180.92 484.47L181.32 485.04L181.84 485.39L182.54 485.54L183.21 485.79L183.81 486.15L184.29 486.64L184.66 487.22L184.88 487.87L184.98 488.57L184.98 489.28L185.37 489.82L185.84 490.36L186.21 490.97L186.45 491.62L186.52 492.31L186.43 493.00Z" fill="#b15556" stroke="#984446" stroke-width="0.5"/>
<path d="M172.0 490.8h.6v.6h-.6zM184.7 491.1h.6v.6h-.6zM168.5 494.6h.6v.6h-.6zM177.1 497.7h.6v.6h-.6zM174.1 500.5h.6v.6h-.6zM178.1 501.8h.6v.6h-.6zM180.1 494.9h.6v.6h-.6zM182.9 497.3h.6v.6h-.6z" fill="#8a3a3d" fill-opacity="0.5"/>
<path d="M142.02 491.00L141.80 491.58L141.44 492.11L140.99 492.59L141.10 493.17L141.20 493.78L141.17 494.38L140.98 494.93L140.64 495.41L140.17 495.79L139.63 496.09L139.33 496.55L139.21 497.21L138.98 497.82L138.62 498.33L138.14 498.70L137.57 498.92L136.95 499.00L136.34 499.06L135.93 499.62L135.44 500.09L134.87 500.42L134.26 500.55L133.62 500.50L133.00 500.27L132.42 499.92L131.81 500.01L131.17 500.19L130.53 500.21L129.92 500.06L129.38 499.73L128.93 499.25L128.57 498.67L128.16 498.24L127.53 498.13L126.94 497.91L126.44 497.56L126.06 497.08L125.83 496.50L125.73 495.86L125.72 495.20L125.18 494.85L124.69 494.44L124.32 493.95L124.11 493.38L124.07 492.78L124.19 492.16L124.44 491.56L124.35 491.00L124.05 490.41L123.88 489.80L123.89 489.19L124.08 488.61L124.43 488.09L124.91 487.65L125.34 487.22L125.33 486.57L125.43 485.94L125.68 485.38L126.08 484.93L126.60 484.60L127.21 484.40L127.87 484.31L128.20 483.82L128.54 483.28L128.97 482.83L129.49 482.54L130.08 482.40L130.70 482.42L131.32 482.57L131.88 482.49L132.42 482.09L133.00 481.80L133.61 481.66L134.22 481.71L134.80 481.93L135.33 482.30L135.81 482.71L136.49 482.57L137.17 482.54L137.81 482.66L138.37 482.96L138.82 483.42L139.14 483.99L139.36 484.64L139.83 485.01L140.42 485.30L140.92 485.71L141.28 486.22L141.46 486.83L141.47 487.49L141.34 488.17L141.30 488.78L141.68 489.27L141.95 489.82L142.08 490.41L142.02 491.00Z" fill="#b65a5b" stroke="#984446" stroke-width="0.5"/>
<path d="M137.0 496.3h.6v.6h-.6zM136.4 497.2h.6v.6h-.6zM128.8 487.6h.6v.6h-.6zM128.3 486.7h.6v.6h-.6zM139.0 492.7h.6v.6h-.6zM128.5 486.8h.6v.6h-.6zM138.2 486.1h.6v.6h-.6z" fill="#8a3a3d" fill-opacity="0.5"/>
<path d="M127.89 512.00L127.65 513.03L127.14 513.99L126.45 514.87L126.42 515.86L126.65 516.97L126.64 518.06L126.35 519.08L125.78 519.96L124.97 520.67L124.00 521.20L123.20 521.82L122.94 522.94L122.50 523.98L121.85 524.84L120.99 525.45L119.97 525.80L118.85 525.89L117.71 525.79L116.94 526.56L116.10 527.32L115.15 527.85L114.12 528.08L113.05 527.99L112.00 527.61L111.02 527.01L110.04 526.90L108.97 527.23L107.89 527.34L106.85 527.17L105.91 526.70L105.11 525.97L104.47 525.04L103.89 524.14L102.77 524.02L101.71 523.73L100.79 523.21L100.07 522.46L99.59 521.52L99.35 520.46L99.29 519.34L98.58 518.62L97.69 517.93L96.99 517.10L96.56 516.14L96.43 515.10L96.60 514.03L96.99 512.98L97.11 512.00L96.58 510.99L96.25 509.93L96.20 508.86L96.47 507.84L97.04 506.92L97.83 506.13L98.76 505.47L98.75 504.35L98.89 503.24L99.26 502.23L99.89 501.38L100.75 500.75L101.79 500.35L102.91 500.15L103.65 499.51L104.23 498.54L104.96 497.73L105.86 497.17L106.87 496.89L107.96 496.90L109.05 497.16L110.07 497.34L111.00 496.68L112.00 496.20L113.05 495.98L114.10 496.08L115.09 496.48L115.98 497.14L116.77 497.96L117.81 497.96L118.94 497.92L120.01 498.13L120.95 498.60L121.71 499.35L122.26 500.30L122.62 501.38L123.22 502.16L124.26 502.59L125.17 503.20L125.86 504.00L126.29 504.96L126.42 506.03L126.31 507.14L126.08 508.23L126.84 509.05L127.45 509.97L127.82 510.96L127.89 512.00Z" fill="#b05455" stroke="#984446" stroke-width="0.5"/>
<path d="M121.9 510.7h.6v.6h-.6zM109.6 499.9h.6v.6h-.6zM113.1 517.1h.6v.6h-.6zM107.2 508.4h.6v.6h-.6zM102.0 521.1h.6v.6h-.6zM116.1 507.8h.6v.6h-.6zM118.4 515.7h.6v.6h-.6zM113.9 508.4h.6v.6h-.6zM112.9 517.6h.6v.6h-.6zM119.4 519.6h.6v.6h-.6zM115.9 520.7h.6v.6h-.6zM110.7 499.8h.6v.6h-.6z" fill="#8a3a3d" fill-opacity="0.5"/>
<path d="M114.34 531.00L114.02 531.72L113.56 532.39L113.41 533.07L113.60 533.84L113.63 534.61L113.47 535.34L113.10 535.98L112.55 536.51L111.87 536.93L111.20 537.29L111.08 538.08L110.83 538.83L110.43 539.48L109.88 539.97L109.21 540.29L108.45 540.44L107.66 540.45L107.11 540.93L106.58 541.55L105.96 542.03L105.25 542.32L104.50 542.38L103.74 542.23L103.00 541.90L102.30 541.75L101.54 542.08L100.76 542.25L100.00 542.21L99.28 541.95L98.66 541.48L98.14 540.85L97.73 540.12L96.97 540.02L96.21 539.84L95.54 539.50L95.01 538.99L94.64 538.33L94.44 537.57L94.38 536.76L94.01 536.19L93.38 535.75L92.86 535.20L92.51 534.56L92.36 533.85L92.42 533.11L92.63 532.36L92.80 531.67L92.35 531.00L92.01 530.28L91.86 529.53L91.93 528.80L92.21 528.11L92.66 527.49L93.23 526.95L93.26 526.20L93.24 525.37L93.40 524.59L93.76 523.91L94.30 523.37L95.00 523.00L95.78 522.77L96.38 522.37L96.75 521.65L97.24 521.02L97.86 520.57L98.58 520.32L99.36 520.29L100.17 520.44L100.95 520.71L101.58 520.24L102.27 519.88L103.00 519.70L103.74 519.73L104.45 519.98L105.11 520.41L105.69 520.97L106.37 521.07L107.15 520.98L107.91 521.04L108.61 521.29L109.19 521.73L109.65 522.33L109.98 523.04L110.36 523.64L111.15 523.86L111.86 524.20L112.45 524.69L112.86 525.31L113.06 526.04L113.09 526.82L112.97 527.61L113.47 528.19L113.98 528.82L114.32 529.51L114.44 530.25L114.34 531.00Z" fill="#b45859" stroke="#984446" stroke-width="0.5"/>
<path d="M112.2 528.6h.6v.6h-.6zM102.4 525.7h.6v.6h-.6zM98.8 538.6h.6v.6h-.6zM104.0 528.4h.6v.6h-.6zM107.8 539.3h.6v.6h-.6zM109.1 536.6h.6v.6h-.6zM99.0 538.3h.6v.6h-.6zM108.1 525.0h.6v.6h-.6z" fill="#8a3a3d" fill-opacity="0.5"/>
<path d="M151.43 502.00L151.15 502.93L150.66 503.80L150.05 504.60L150.22 505.54L150.36 506.54L150.31 507.51L150.03 508.42L149.52 509.23L148.81 509.89L147.96 510.41L147.04 510.80L146.71 511.71L146.34 512.65L145.81 513.48L145.11 514.14L144.27 514.59L143.32 514.82L142.32 514.85L141.32 514.72L140.58 515.35L139.78 515.97L138.90 516.40L137.96 516.61L137.00 516.55L136.07 516.25L135.19 515.75L134.39 515.12L133.45 515.26L132.46 515.37L131.50 515.29L130.60 514.97L129.82 514.44L129.18 513.70L128.69 512.83L128.34 511.88L127.46 511.54L126.55 511.16L125.76 510.62L125.13 509.93L124.71 509.09L124.50 508.16L124.49 507.18L124.62 506.20L123.99 505.49L123.35 504.71L122.89 503.86L122.65 502.94L122.66 502.00L122.91 501.08L123.35 500.20L123.93 499.40L123.72 498.44L123.55 497.44L123.58 496.44L123.84 495.51L124.34 494.69L125.04 494.01L125.89 493.47L126.82 493.07L127.16 492.16L127.55 491.22L128.10 490.40L128.82 489.76L129.69 489.34L130.66 489.13L131.67 489.14L132.69 489.30L133.44 488.71L134.24 488.12L135.12 487.72L136.05 487.54L137.00 487.61L137.92 487.93L138.79 488.43L139.57 489.07L140.51 488.92L141.49 488.79L142.45 488.85L143.35 489.13L144.14 489.64L144.79 490.34L145.30 491.19L145.68 492.10L146.58 492.42L147.51 492.78L148.34 493.30L148.99 493.99L149.43 494.82L149.66 495.76L149.69 496.74L149.56 497.74L150.19 498.47L150.81 499.25L151.26 500.12L151.47 501.05L151.43 502.00Z" fill="#b15556" stroke="#984446" stroke-width="0.5"/>
<path d="M142.8 496.4h.6v.6h-.6zM140.2 489.8h.6v.6h-.6zM132.7 512.6h.6v.6h-.6zM134.0 507.1h.6v.6h-.6zM130.5 511.2h.6v.6h-.6zM143.4 510.5h.6v.6h-.6zM133.4 506.8h.6v.6h-.6zM129.4 505.6h.6v.6h-.6zM125.2 505.0h.6v.6h-.6zM142.9 498.8h.6v.6h-.6zM147.3 501.2h.6v.6h-.6z" fill="#8a3a3d" fill-opacity="0.5"/>
<path d="M178.01 498.00L177.45 499.01L177.57 500.05L177.97 501.18L178.11 502.32L177.94 503.41L177.45 504.40L176.69 505.24L175.72 505.92L174.94 506.64L174.78 507.81L174.42 508.89L173.82 509.82L172.98 510.51L171.94 510.95L170.78 511.14L169.58 511.13L168.89 511.97L168.13 512.81L167.24 513.44L166.23 513.79L165.15 513.83L164.05 513.58L162.99 513.11L162.00 513.15L160.97 513.67L159.90 513.98L158.82 514.01L157.79 513.72L156.86 513.14L156.06 512.35L155.31 511.56L154.12 511.65L152.96 511.54L151.90 511.17L151.01 510.53L150.35 509.65L149.92 508.59L149.69 507.44L148.85 506.79L147.84 506.18L147.02 505.39L146.46 504.44L146.22 503.36L146.28 502.21L146.60 501.06L146.64 500.02L146.01 499.05L145.59 498.00L145.45 496.92L145.64 495.85L146.14 494.84L146.88 493.95L147.76 493.17L147.62 492.04L147.61 490.90L147.85 489.83L148.37 488.89L149.14 488.13L150.12 487.58L151.21 487.21L151.86 486.44L152.29 485.34L152.90 484.39L153.72 483.66L154.70 483.21L155.81 483.05L156.95 483.13L158.02 483.16L158.89 482.35L159.86 481.71L160.91 481.35L162.00 481.32L163.07 481.61L164.08 482.18L164.99 482.95L166.06 482.84L167.20 482.68L168.31 482.77L169.32 483.16L170.18 483.84L170.85 484.75L171.35 485.82L172.05 486.54L173.16 486.84L174.16 487.33L174.98 488.04L175.56 488.94L175.86 490.00L175.93 491.13L175.87 492.26L176.80 492.97L177.60 493.82L178.16 494.79L178.42 495.84L178.36 496.93L178.01 498.00Z" fill="#b65a5b" stroke="#984446" stroke-width="0.5"/>
<path d="M158.6 484.4h.6v.6h-.6zM176.3 499.5h.6v.6h-.6zM164.1 493.5h.6v.6h-.6zM166.6 485.5h.6v.6h-.6zM167.6 511.5h.6v.6h-.6zM155.3 505.7h.6v.6h-.6zM154.9 487.8h.6v.6h-.6zM161.8 489.6h.6v.6h-.6zM155.6 498.6h.6v.6h-.6zM160.3 508.5h.6v.6h-.6zM170.2 502.1h.6v.6h-.6zM164.8 491.5h.6v.6h-.6z" fill="#8a3a3d" fill-opacity="0.5"/>
<path d="M200.52 503.00L200.26 503.93L199.78 504.81L199.15 505.62L198.92 506.46L199.07 507.44L199.04 508.40L198.81 509.32L198.35 510.13L197.68 510.81L196.86 511.34L195.95 511.73L195.36 512.36L195.03 513.30L194.56 514.15L193.92 514.85L193.14 515.36L192.24 515.65L191.27 515.73L190.29 515.64L189.46 515.93L188.70 516.60L187.86 517.12L186.95 517.42L186.00 517.48L185.06 517.29L184.17 516.87L183.35 516.30L182.48 516.13L181.48 516.32L180.48 516.33L179.53 516.12L178.68 515.68L177.97 515.02L177.41 514.20L176.99 513.27L176.33 512.67L175.38 512.32L174.52 511.81L173.81 511.14L173.31 510.32L173.04 509.39L172.98 508.39L173.10 507.38L172.84 506.53L172.21 505.74L171.73 504.88L171.47 503.95L171.46 503.00L171.70 502.06L172.16 501.18L172.78 500.37L172.99 499.52L172.84 498.53L172.86 497.56L173.10 496.64L173.57 495.82L174.24 495.14L175.07 494.61L176.00 494.23L176.60 493.60L176.94 492.67L177.43 491.83L178.08 491.15L178.87 490.66L179.78 490.39L180.75 490.32L181.73 490.43L182.56 490.15L183.31 489.49L184.15 488.98L185.06 488.68L186.00 488.62L186.93 488.80L187.82 489.21L188.63 489.77L189.50 489.92L190.51 489.72L191.51 489.69L192.47 489.88L193.33 490.30L194.05 490.94L194.63 491.76L195.06 492.67L195.73 493.27L196.69 493.62L197.56 494.13L198.27 494.80L198.77 495.63L199.04 496.57L199.09 497.58L198.97 498.60L199.21 499.46L199.83 500.25L200.28 501.12L200.52 502.05L200.52 503.00Z" fill="#b05455" stroke="#984446" stroke-width="0.5"/>
<path d="M186.2 513.0h.6v.6h-.6zM196.5 501.2h.6v.6h-.6zM178.4 503.8h.6v.6h-.6zM194.4 512.8h.6v.6h-.6zM186.2 496.0h.6v.6h-.6zM176.9 496.9h.6v.6h-.6zM192.1 498.9h.6v.6h-.6zM183.6 508.8h.6v.6h-.6zM175.5 496.4h.6v.6h-.6zM185.5 497.4h.6v.6h-.6zM182.8 506.4h.6v.6h-.6z" fill="#8a3a3d" fill-opacity="0.5"/>
<path d="M152.21 528.00L151.73 529.03L151.06 529.98L151.29 531.04L151.57 532.17L151.58 533.29L151.29 534.33L150.70 535.25L149.86 536.00L148.85 536.58L148.21 537.37L147.99 538.52L147.57 539.57L146.91 540.44L146.03 541.07L144.98 541.44L143.83 541.56L142.70 541.58L142.02 542.54L141.21 543.35L140.27 543.94L139.23 544.22L138.13 544.19L137.04 543.87L136.00 543.35L134.98 543.55L133.89 543.99L132.78 544.20L131.69 544.09L130.68 543.67L129.80 542.97L129.06 542.07L128.27 541.39L127.09 541.34L125.97 541.08L124.98 540.56L124.21 539.79L123.68 538.81L123.38 537.68L123.28 536.50L122.35 535.88L121.43 535.18L120.73 534.33L120.31 533.33L120.20 532.23L120.38 531.11L120.80 530.00L120.69 529.00L120.13 528.00L119.80 526.94L119.75 525.86L120.03 524.82L120.59 523.87L121.38 523.04L122.13 522.26L122.00 521.10L122.07 519.96L122.39 518.91L122.99 518.02L123.83 517.33L124.85 516.85L125.96 516.56L126.53 515.65L127.04 514.60L127.75 513.71L128.64 513.07L129.67 512.73L130.80 512.68L131.95 512.87L132.97 512.77L133.90 512.03L134.92 511.49L136.00 511.24L137.09 511.33L138.14 511.73L139.10 512.40L139.96 513.22L141.10 512.98L142.25 512.91L143.34 513.11L144.32 513.60L145.11 514.36L145.72 515.34L146.14 516.44L146.94 517.06L148.03 517.45L148.98 518.04L149.72 518.83L150.19 519.81L150.38 520.91L150.33 522.07L150.37 523.12L151.22 523.92L151.90 524.84L152.32 525.85L152.43 526.92L152.21 528.00Z" fill="#b45859" stroke="#984446" stroke-width="0.5"/>
<path d="M145.1 537.8h.6v.6h-.6zM143.0 521.5h.6v.6h-.6zM134.8 535.2h.6v.6h-.6zM142.6 531.7h.6v.6h-.6zM140.1 541.1h.6v.6h-.6zM138.6 534.7h.6v.6h-.6zM148.7 521.8h.6v.6h-.6zM143.1 533.3h.6v.6h-.6zM145.6 527.3h.6v.6h-.6zM127.4 519.1h.6v.6h-.6zM133.0 524.1h.6v.6h-.6zM133.7 514.8h.6v.6h-.6z" fill="#8a3a3d" fill-opacity="0.5"/>
<path d="M183.29 526.00L183.10 527.06L182.66 528.06L182.01 528.99L181.51 529.89L181.70 530.99L181.70 532.09L181.46 533.13L180.97 534.06L180.24 534.85L179.31 535.45L178.27 535.88L177.38 536.38L176.99 537.39L176.45 538.32L175.75 539.09L174.88 539.65L173.89 539.98L172.83 540.07L171.74 539.97L170.75 540.01L169.94 540.76L169.02 541.36L168.03 541.76L167.00 541.89L165.97 541.75L164.98 541.36L164.06 540.78L163.15 540.36L162.04 540.62L160.91 540.70L159.83 540.54L158.85 540.12L158.01 539.45L157.35 538.57L156.86 537.56L156.31 536.69L155.25 536.30L154.29 535.75L153.49 535.03L152.92 534.13L152.60 533.10L152.53 531.99L152.68 530.86L152.69 529.83L152.01 528.98L151.48 528.04L151.17 527.04L151.13 526.00L151.35 524.97L151.82 524.00L152.46 523.11L152.94 522.23L152.72 521.15L152.67 520.06L152.84 519.02L153.25 518.06L153.91 517.25L154.75 516.60L155.72 516.11L156.55 515.55L156.88 514.46L157.38 513.46L158.06 512.62L158.91 511.99L159.90 511.61L160.99 511.48L162.10 511.57L163.12 511.53L163.98 510.81L164.93 510.24L165.95 509.91L167.00 509.85L168.04 510.07L169.03 510.56L169.94 511.23L170.82 511.74L171.90 511.56L172.98 511.56L174.02 511.77L174.95 512.23L175.74 512.93L176.36 513.80L176.82 514.80L177.35 515.65L178.41 515.99L179.40 516.49L180.23 517.16L180.86 518.00L181.24 518.98L181.39 520.04L181.34 521.13L181.41 522.14L182.18 522.98L182.79 523.92L183.18 524.94L183.29 526.00Z" fill="#b15556" stroke="#984446" stroke-width="0.5"/>
<path d="M165.1 535.8h.6v.6h-.6zM161.6 524.4h.6v.6h-.6zM153.0 525.8h.6v.6h-.6zM157.2 521.9h.6v.6h-.6zM169.5 516.4h.6v.6h-.6zM164.9 539.0h.6v.6h-.6zM173.7 537.7h.6v.6h-.6zM175.1 518.8h.6v.6h-.6zM162.1 525.5h.6v.6h-.6zM172.9 537.2h.6v.6h-.6zM165.5 514.6h.6v.6h-.6zM175.0 535.3h.6v.6h-.6z" fill="#8a3a3d" fill-opacity="0.5"/>
<path d="M123.48 540.00L123.17 540.73L122.71 541.41L122.45 542.08L122.62 542.85L122.65 543.61L122.48 544.34L122.09 544.98L121.53 545.50L120.83 545.90L120.06 546.18L119.89 546.92L119.63 547.63L119.23 548.25L118.68 548.71L118.01 549.00L117.26 549.12L116.49 549.10L115.92 549.46L115.42 550.08L114.83 550.57L114.17 550.88L113.45 550.99L112.71 550.89L112.00 550.63L111.32 550.44L110.57 550.85L109.79 551.11L109.00 551.18L108.26 551.02L107.59 550.65L107.02 550.10L106.55 549.45L105.77 549.32L104.95 549.19L104.20 548.89L103.60 548.40L103.16 547.75L102.91 546.98L102.82 546.14L102.52 545.47L101.89 544.99L101.38 544.40L101.05 543.72L100.95 542.96L101.05 542.18L101.34 541.40L101.70 540.68L101.33 540.00L101.08 539.28L101.01 538.55L101.14 537.84L101.48 537.18L101.98 536.60L102.60 536.11L102.74 535.43L102.73 534.65L102.88 533.91L103.21 533.25L103.71 532.73L104.35 532.35L105.08 532.11L105.69 531.78L106.00 531.02L106.43 530.35L106.99 529.83L107.66 529.51L108.40 529.40L109.18 529.48L109.95 529.69L110.58 529.24L111.27 528.81L112.00 528.56L112.75 528.53L113.48 528.73L114.16 529.13L114.77 529.67L115.44 529.86L116.24 529.76L117.02 529.82L117.74 530.06L118.34 530.51L118.82 531.12L119.16 531.84L119.47 532.53L120.25 532.76L120.98 533.11L121.57 533.60L121.99 534.23L122.21 534.96L122.25 535.75L122.14 536.56L122.55 537.17L123.07 537.80L123.42 538.50L123.57 539.24L123.48 540.00Z" fill="#b65a5b" stroke="#984446" stroke-width="0.5"/>
<path d="M118.0 537.3h.6v.6h-.6zM114.4 535.1h.6v.6h-.6zM106.3 540.6h.6v.6h-.6zM108.5 539.0h.6v.6h-.6zM106.8 543.0h.6v.6h-.6zM120.9 542.3h.6v.6h-.6zM115.9 537.6h.6v.6h-.6zM106.9 534.4h.6v.6h-.6z" fill="#8a3a3d" fill-opacity="0.5"/>
<path d="M108.33 545.00L108.24 545.54L108.00 546.05L107.65 546.52L107.50 547.01L107.62 547.59L107.63 548.16L107.49 548.69L107.20 549.16L106.78 549.53L106.26 549.80L105.71 550.01L105.57 550.57L105.33 551.08L104.99 551.51L104.55 551.81L104.03 551.98L103.45 552.00L102.87 551.93L102.43 552.16L102.02 552.54L101.56 552.82L101.05 552.96L100.52 552.95L100.00 552.79L99.51 552.52L99.03 552.35L98.49 552.57L97.94 552.70L97.39 552.69L96.88 552.54L96.43 552.24L96.06 551.83L95.75 551.35L95.17 551.29L94.57 551.19L94.03 550.97L93.59 550.62L93.27 550.16L93.09 549.62L93.02 549.03L92.76 548.57L92.28 548.20L91.90 547.75L91.66 547.24L91.59 546.67L91.69 546.09L91.92 545.53L92.18 545.00L91.95 544.47L91.82 543.92L91.84 543.38L92.01 542.86L92.33 542.40L92.77 542.01L93.29 541.69L93.44 541.21L93.51 540.66L93.69 540.16L94.00 539.74L94.41 539.41L94.92 539.20L95.47 539.10L95.91 538.88L96.17 538.36L96.50 537.91L96.92 537.57L97.41 537.37L97.94 537.32L98.49 537.39L99.02 537.56L99.49 537.20L100.00 536.89L100.54 536.72L101.09 536.72L101.62 536.87L102.10 537.17L102.52 537.58L103.02 537.70L103.62 537.67L104.19 537.75L104.69 537.98L105.11 538.34L105.41 538.83L105.61 539.39L105.82 539.89L106.36 540.12L106.84 540.43L107.23 540.83L107.47 541.32L107.57 541.86L107.54 542.44L107.40 543.02L107.70 543.47L108.04 543.94L108.26 544.46L108.33 545.00Z" fill="#b05455" stroke="#984446" stroke-width="0.5"/>
<path d="M101.7 541.7h.6v.6h-.6zM105.0 543.1h.6v.6h-.6zM95.3 548.5h.6v.6h-.6zM101.8 548.2h.6v.6h-.6zM96.6 546.8h.6v.6h-.6zM97.6 540.7h.6v.6h-.6z" fill="#8a3a3d" fill-opacity="0.5"/>
<path d="M164.04 546.00L163.63 546.76L163.10 547.46L163.36 548.26L163.53 549.09L163.52 549.91L163.27 550.67L162.81 551.33L162.18 551.88L161.43 552.30L161.06 552.95L160.91 553.82L160.61 554.61L160.13 555.27L159.48 555.75L158.71 556.05L157.87 556.17L157.09 556.32L156.59 557.08L155.98 557.72L155.26 558.18L154.47 558.41L153.63 558.39L152.80 558.16L152.00 557.77L151.21 558.03L150.37 558.34L149.52 558.46L148.70 558.33L147.94 557.96L147.29 557.37L146.75 556.64L146.13 556.17L145.27 556.08L144.46 555.82L143.78 555.38L143.25 554.75L142.91 553.97L142.74 553.10L142.69 552.22L141.96 551.80L141.31 551.27L140.82 550.63L140.54 549.89L140.48 549.09L140.62 548.26L140.92 547.46L140.71 546.74L140.27 546.00L139.99 545.21L139.94 544.41L140.12 543.64L140.52 542.92L141.07 542.29L141.50 541.65L141.38 540.76L141.41 539.89L141.66 539.09L142.11 538.41L142.75 537.89L143.53 537.53L144.37 537.30L144.74 536.54L145.16 535.76L145.72 535.11L146.41 534.67L147.22 534.45L148.08 534.45L148.95 534.63L149.71 534.47L150.41 533.95L151.19 533.59L152.00 533.45L152.82 533.55L153.60 533.88L154.31 534.40L154.97 534.93L155.82 534.74L156.68 534.69L157.50 534.85L158.22 535.22L158.81 535.80L159.26 536.54L159.58 537.36L160.27 537.73L161.08 538.03L161.79 538.49L162.33 539.09L162.67 539.84L162.79 540.68L162.74 541.55L162.85 542.32L163.47 542.93L163.94 543.62L164.22 544.39L164.25 545.20L164.04 546.00Z" fill="#b45859" stroke="#984446" stroke-width="0.5"/>
<path d="M142.9 547.1h.6v.6h-.6zM145.2 539.6h.6v.6h-.6zM159.9 540.4h.6v.6h-.6zM155.0 550.9h.6v.6h-.6zM145.1 548.0h.6v.6h-.6zM161.3 543.8h.6v.6h-.6zM145.2 547.4h.6v.6h-.6zM153.2 554.7h.6v.6h-.6zM156.6 543.6h.6v.6h-.6z" fill="#8a3a3d" fill-opacity="0.5"/>
<path d="M193.50 540.00L193.18 540.80L192.67 541.54L192.28 542.24L192.48 543.08L192.53 543.91L192.37 544.71L192.00 545.42L191.42 546.02L190.70 546.48L189.89 546.82L189.67 547.60L189.42 548.42L189.02 549.15L188.46 549.72L187.75 550.11L186.95 550.30L186.10 550.34L185.42 550.67L184.86 551.38L184.20 551.95L183.45 552.31L182.64 552.43L181.81 552.31L181.00 551.99L180.24 551.62L179.42 552.00L178.57 552.22L177.73 552.22L176.93 551.98L176.24 551.50L175.66 550.84L175.20 550.05L174.48 549.76L173.64 549.59L172.89 549.25L172.28 548.72L171.84 548.03L171.59 547.22L171.51 546.34L171.28 545.61L170.57 545.14L169.97 544.57L169.55 543.89L169.34 543.13L169.35 542.32L169.55 541.51L169.88 540.73L169.41 540.00L169.01 539.21L168.80 538.39L168.82 537.58L169.08 536.81L169.55 536.11L170.17 535.51L170.39 534.77L170.37 533.86L170.52 533.00L170.88 532.24L171.46 531.63L172.20 531.20L173.05 530.94L173.86 530.69L174.26 529.91L174.78 529.22L175.43 528.71L176.20 528.42L177.05 528.36L177.92 528.51L178.78 528.82L179.49 528.50L180.22 528.09L181.00 527.85L181.80 527.83L182.57 528.05L183.29 528.48L183.93 529.05L184.62 529.35L185.47 529.20L186.32 529.22L187.10 529.43L187.78 529.85L188.32 530.46L188.72 531.20L189.01 531.99L189.89 532.20L190.71 532.55L191.40 533.05L191.89 533.71L192.17 534.49L192.23 535.35L192.12 536.23L192.46 536.93L193.03 537.61L193.42 538.36L193.59 539.17L193.50 540.00Z" fill="#b15556" stroke="#984446" stroke-width="0.5"/>
<path d="M191.2 542.0h.6v.6h-.6zM180.5 537.0h.6v.6h-.6zM175.4 538.2h.6v.6h-.6zM188.6 533.0h.6v.6h-.6zM178.2 548.3h.6v.6h-.6zM174.7 540.2h.6v.6h-.6zM174.4 543.0h.6v.6h-.6zM170.4 542.2h.6v.6h-.6zM180.6 536.6h.6v.6h-.6z" fill="#8a3a3d" fill-opacity="0.5"/>
<ellipse cx="161.9" cy="499.5" rx="7.2" ry="6.6" transform="rotate(0 161.9 499.5)" fill="#8f4044"/>
<ellipse cx="138.6" cy="503.5" rx="3.8" ry="6.0" transform="rotate(-25 138.6 503.5)" fill="#8f4044"/>
<ellipse cx="113.7" cy="516.6" rx="7.0" ry="4.2" transform="rotate(-15 113.7 516.6)" fill="#8f4044"/>
<ellipse cx="136.2" cy="531" rx="8.0" ry="7.2" transform="rotate(0 136.2 531)" fill="#8f4044"/>
<ellipse cx="166.7" cy="529.4" rx="7.2" ry="6.8" transform="rotate(0 166.7 529.4)" fill="#8f4044"/>
<ellipse cx="184.8" cy="507" rx="6.2" ry="6.2" transform="rotate(0 184.8 507)" fill="#8f4044"/>
<ellipse cx="112.9" cy="537.8" rx="5.2" ry="4.5" transform="rotate(0 112.9 537.8)" fill="#8f4044"/>
<g transform="translate(96.7 475.9) rotate(-32.65)"><rect x="0" y="-3.1" width="67.10" height="6.2" fill="#8c2626"/><rect x="0" y="-3.1" width="67.10" height="2.6" fill="#a63838"/><rect x="0" y="1.6" width="67.10" height="1.5" fill="#7a1c1c"/><ellipse cx="0" cy="0" rx="1.4" ry="3.1" fill="#7a1c1c"/><ellipse cx="0" cy="0" rx="0.8" ry="2.0" fill="#3a0a0a"/></g>
<path d="M135.0 456.5 C134.3 462 134.3 464 134.6 465.5 C135 467.5 136.5 468.8 139 469.4 C140.5 470 141.8 470.8 142.8 471.7 C144 473 145 474 148.8 474.7 C151 475 153 475.2 154.5 476.2 C156 477.2 156 479 155.7 480 C155 481 153.8 481.3 153.4 481.6 C152.2 482.5 151.6 483.2 151.9 484.5 C152.3 485.8 153 486.5 153.4 487.6 M135.2 470.2 C133.5 471.8 132 473 130 473.4 C127 473.7 124 473.4 120 473.4 C118.5 474 116.5 475.5 115.5 477.2 C114.8 478.7 114.8 480 114.5 481.5 C114 483 113 484.3 112 484.9 C110.5 485.8 108.5 484.8 106.8 483.4 C105 482.2 103.4 483.3 103.2 485 C103 486.8 102.8 488.5 103.1 489.8 C103.6 491.4 104.8 492.2 106 492.5 C107.6 492.8 109.2 493.5 109.2 494.8 C108.8 496 106.6 496.1 105.2 496.8 C104 497.6 104.1 499 104.9 499.3 C105.8 499.5 106.5 498.8 106.7 498.3 M116 476.8 C117 478 118.2 478.6 119.1 478 C120.3 478.3 120.6 480 120.4 481.5 C120.2 483.5 119.2 485.4 117.6 487.2 C116.9 488.4 117.2 489.5 118 490 C119.2 490.5 120.2 490.8 120.7 491.3 C121.6 492.2 121.8 493 121.6 494 C121.3 495.5 120.6 496.8 120.4 497.6 C120.1 498.6 119.9 499.5 119.8 500.3 M112.9 494.8 C113.8 494.2 114.6 494 115.4 494.2 C116.4 494.6 116.8 495.5 116.4 496.3 C115.8 497.1 114.8 497.3 113.8 497.3 C113 497.5 112.4 498.2 112.3 499.4 M137.5 472.5 C136.2 473.5 135 474.6 134 475.6 C132.5 477.2 131 478.8 129.9 480 C128.8 481.2 127.4 482.3 126.4 483.6 C125.3 485 125 486.5 125.5 488 C126 489.6 126.6 490.6 127.3 492 C128 493.5 129 494.8 129.6 496.2 C130.3 497.6 130.8 498.8 130.4 500.2 C130 501.5 129.4 502.6 129.1 503.6 M135.2 476.3 C136.5 475.4 137.8 474.3 139 474 C140.2 473.9 141 474.8 141.6 475.8 C142.3 477 142.8 478.2 142.6 479.4 C142.4 480.4 142 481 142 481.6 M135.6 480.8 C137.5 480.5 140 480.6 142 481 C143.5 481.8 144.5 482.8 145 483.8 C146 485.2 147 486.4 147.3 487.8 C147.4 489.6 147 491.4 146.6 493 C146 494.2 145.2 494.8 144.3 495.2 M150.4 485.4 C151.2 486.3 152 487.3 152.6 488.4 C153 489.4 153.2 490.2 153 491 M131.5 486 C134 486.5 136.5 488.5 136.6 491.5 C136.7 494 134.8 495.6 133 495.3 C131.3 495 130.6 493.3 131.4 492 C132.1 491 133.6 491.2 133.8 492.3 M138 485 C140.5 485 143.5 486.5 143.8 489.3 C144 491.6 142.3 492.8 140.8 492.5 C139.4 492.2 139 490.6 139.8 489.7 C140.5 489 141.5 489.4 141.6 490.2 M123.5 489 C121.5 491 122 494.5 123.5 496.5 C125 498.5 124.5 501 123 503 M109 501 C111 502.5 114 503 116.6 504.8 C118.5 506 120 507 121 508.5 M140 496 C138 499 137.5 502 138.2 505 M103 503 C105 504 106 506 105.5 508.5" fill="none" stroke="#7e2222" stroke-width="1.9" stroke-linecap="round" stroke-linejoin="round"/>
<path d="M135.0 456.5 C134.3 462 134.3 464 134.6 465.5 C135 467.5 136.5 468.8 139 469.4 C140.5 470 141.8 470.8 142.8 471.7 C144 473 145 474 148.8 474.7 C151 475 153 475.2 154.5 476.2 C156 477.2 156 479 155.7 480 C155 481 153.8 481.3 153.4 481.6 C152.2 482.5 151.6 483.2 151.9 484.5 C152.3 485.8 153 486.5 153.4 487.6 M135.2 470.2 C133.5 471.8 132 473 130 473.4 C127 473.7 124 473.4 120 473.4 C118.5 474 116.5 475.5 115.5 477.2 C114.8 478.7 114.8 480 114.5 481.5 C114 483 113 484.3 112 484.9 C110.5 485.8 108.5 484.8 106.8 483.4 C105 482.2 103.4 483.3 103.2 485 C103 486.8 102.8 488.5 103.1 489.8 C103.6 491.4 104.8 492.2 106 492.5 C107.6 492.8 109.2 493.5 109.2 494.8 C108.8 496 106.6 496.1 105.2 496.8 C104 497.6 104.1 499 104.9 499.3 C105.8 499.5 106.5 498.8 106.7 498.3 M116 476.8 C117 478 118.2 478.6 119.1 478 C120.3 478.3 120.6 480 120.4 481.5 C120.2 483.5 119.2 485.4 117.6 487.2 C116.9 488.4 117.2 489.5 118 490 C119.2 490.5 120.2 490.8 120.7 491.3 C121.6 492.2 121.8 493 121.6 494 C121.3 495.5 120.6 496.8 120.4 497.6 C120.1 498.6 119.9 499.5 119.8 500.3 M112.9 494.8 C113.8 494.2 114.6 494 115.4 494.2 C116.4 494.6 116.8 495.5 116.4 496.3 C115.8 497.1 114.8 497.3 113.8 497.3 C113 497.5 112.4 498.2 112.3 499.4 M137.5 472.5 C136.2 473.5 135 474.6 134 475.6 C132.5 477.2 131 478.8 129.9 480 C128.8 481.2 127.4 482.3 126.4 483.6 C125.3 485 125 486.5 125.5 488 C126 489.6 126.6 490.6 127.3 492 C128 493.5 129 494.8 129.6 496.2 C130.3 497.6 130.8 498.8 130.4 500.2 C130 501.5 129.4 502.6 129.1 503.6 M135.2 476.3 C136.5 475.4 137.8 474.3 139 474 C140.2 473.9 141 474.8 141.6 475.8 C142.3 477 142.8 478.2 142.6 479.4 C142.4 480.4 142 481 142 481.6 M135.6 480.8 C137.5 480.5 140 480.6 142 481 C143.5 481.8 144.5 482.8 145 483.8 C146 485.2 147 486.4 147.3 487.8 C147.4 489.6 147 491.4 146.6 493 C146 494.2 145.2 494.8 144.3 495.2 M150.4 485.4 C151.2 486.3 152 487.3 152.6 488.4 C153 489.4 153.2 490.2 153 491 M131.5 486 C134 486.5 136.5 488.5 136.6 491.5 C136.7 494 134.8 495.6 133 495.3 C131.3 495 130.6 493.3 131.4 492 C132.1 491 133.6 491.2 133.8 492.3 M138 485 C140.5 485 143.5 486.5 143.8 489.3 C144 491.6 142.3 492.8 140.8 492.5 C139.4 492.2 139 490.6 139.8 489.7 C140.5 489 141.5 489.4 141.6 490.2 M123.5 489 C121.5 491 122 494.5 123.5 496.5 C125 498.5 124.5 501 123 503 M109 501 C111 502.5 114 503 116.6 504.8 C118.5 506 120 507 121 508.5 M140 496 C138 499 137.5 502 138.2 505 M103 503 C105 504 106 506 105.5 508.5" fill="none" stroke="#9a3434" stroke-width="0.8" stroke-linecap="round" stroke-linejoin="round"/>
<path d="M135.0 456.5 C134.3 462 134.3 464 134.6 465.5 C135 467.5 136.5 468.8 139 469.4" fill="none" stroke="#852525" stroke-width="2.6" stroke-linecap="round"/>
<path d="M105 560 L125 548 L140 545 L158 540 L175 542 L190 535 L205 535 L228 545 L228 558 L200 562 L130 575 L105 585 Z" fill="#dc918d"/>
<path d="M227.18 514.70L226.94 516.06L226.42 517.36L225.70 518.58L225.27 519.81L225.57 521.27L225.65 522.76L225.45 524.19L224.95 525.53L224.16 526.70L223.10 527.67L221.86 528.43L220.50 529.00L219.62 530.01L218.96 531.33L218.10 532.51L217.04 533.48L215.80 534.17L214.42 534.55L212.96 534.62L211.49 534.43L210.05 534.03L208.83 534.66L207.55 535.29L206.20 535.70L204.82 535.81L203.45 535.60L202.15 535.09L200.95 534.30L199.88 533.31L198.87 532.40L197.46 532.43L196.06 532.27L194.73 531.87L193.53 531.21L192.53 530.29L191.74 529.16L191.18 527.87L190.82 526.50L190.14 525.43L188.91 524.68L187.81 523.77L186.92 522.69L186.30 521.45L186.00 520.11L185.99 518.72L186.26 517.33L186.72 515.98L186.39 514.70L185.79 513.36L185.43 511.97L185.36 510.55L185.60 509.18L186.16 507.90L187.00 506.75L188.04 505.74L189.20 504.89L189.35 503.44L189.65 502.00L190.19 500.66L190.98 499.48L192.01 498.52L193.25 497.82L194.63 497.38L196.08 497.17L197.39 496.85L198.34 495.72L199.43 494.75L200.66 494.01L202.00 493.56L203.40 493.45L204.82 493.65L206.20 494.15L207.50 494.85L208.79 495.01L210.18 494.67L211.60 494.55L212.98 494.71L214.29 495.18L215.45 495.95L216.44 496.97L217.24 498.17L217.88 499.48L219.06 500.04L220.38 500.52L221.59 501.21L222.61 502.11L223.40 503.21L223.92 504.47L224.18 505.83L224.21 507.24L224.14 508.61L225.16 509.62L226.05 510.75L226.72 512.00L227.11 513.33L227.18 514.70Z" fill="#d87677" stroke="#b8605f" stroke-width="0.4"/>
<circle cx="206.2" cy="515.3" r="8.6" fill="#a85b4e"/>
<path d="M217.8 527.8h.6v.6h-.6zM207.1 504.4h.6v.6h-.6zM193.1 515.1h.6v.6h-.6zM196.4 500.9h.6v.6h-.6zM210.8 517.8h.6v.6h-.6zM212.8 503.6h.6v.6h-.6zM206.6 510.1h.6v.6h-.6zM190.9 520.2h.6v.6h-.6zM208.6 532.9h.6v.6h-.6zM210.8 511.5h.6v.6h-.6zM220.3 517.0h.6v.6h-.6zM217.5 510.1h.6v.6h-.6zM208.9 527.2h.6v.6h-.6zM215.8 516.5h.6v.6h-.6zM193.5 519.9h.6v.6h-.6zM207.3 524.6h.6v.6h-.6zM208.8 527.7h.6v.6h-.6zM204.9 519.8h.6v.6h-.6zM213.7 502.4h.6v.6h-.6zM200.5 507.6h.6v.6h-.6zM223.8 513.9h.6v.6h-.6zM214.6 522.6h.6v.6h-.6zM203.3 498.8h.6v.6h-.6zM218.0 509.7h.6v.6h-.6zM213.8 500.9h.6v.6h-.6zM201.3 528.7h.6v.6h-.6z" fill="#b8605f" fill-opacity="0.7"/>
<path d="M203.47 534.50L203.16 535.33L202.72 536.11L202.24 536.84L202.43 537.70L202.53 538.58L202.50 539.47L202.31 540.33L201.97 541.12L201.48 541.84L200.86 542.45L200.13 542.95L199.35 543.35L198.75 543.91L198.37 544.76L197.88 545.55L197.27 546.23L196.55 546.77L195.74 547.15L194.86 547.35L193.95 547.38L193.04 547.25L192.15 547.01L191.34 547.32L190.50 547.66L189.62 547.87L188.73 547.92L187.86 547.79L187.02 547.49L186.25 547.02L185.56 546.42L184.97 545.72L184.36 545.14L183.49 545.00L182.63 544.76L181.82 544.39L181.11 543.89L180.50 543.27L180.03 542.53L179.70 541.72L179.50 540.85L179.41 539.97L178.96 539.28L178.30 538.64L177.74 537.92L177.32 537.12L177.07 536.27L177.00 535.38L177.12 534.50L177.40 533.64L177.81 532.83L178.30 532.07L178.13 531.19L178.07 530.28L178.16 529.39L178.41 528.54L178.82 527.76L179.39 527.08L180.10 526.52L180.89 526.07L181.74 525.74L182.39 525.25L182.80 524.47L183.32 523.75L183.93 523.12L184.65 522.63L185.44 522.28L186.29 522.10L187.17 522.06L188.05 522.16L188.90 522.36L189.68 521.99L190.50 521.57L191.37 521.28L192.26 521.14L193.15 521.17L194.01 521.39L194.82 521.78L195.55 522.32L196.19 522.96L196.85 523.51L197.76 523.63L198.66 523.87L199.49 524.25L200.22 524.78L200.82 525.45L201.26 526.24L201.56 527.11L201.70 528.03L201.72 528.97L202.10 529.70L202.67 530.37L203.14 531.11L203.47 531.92L203.64 532.77L203.64 533.64L203.47 534.50Z" fill="#d87677" stroke="#b8605f" stroke-width="0.4"/>
<circle cx="191" cy="535" r="5.5" fill="#a85b4e"/>
<path d="M201.7 531.3h.6v.6h-.6zM194.7 536.1h.6v.6h-.6zM195.8 525.6h.6v.6h-.6zM187.1 528.3h.6v.6h-.6zM183.0 528.6h.6v.6h-.6zM185.7 531.8h.6v.6h-.6zM183.4 537.8h.6v.6h-.6zM188.5 522.7h.6v.6h-.6zM199.1 531.7h.6v.6h-.6zM184.2 536.8h.6v.6h-.6zM193.9 535.3h.6v.6h-.6zM183.5 536.1h.6v.6h-.6zM182.2 542.3h.6v.6h-.6zM181.4 533.0h.6v.6h-.6zM190.8 537.9h.6v.6h-.6zM188.1 539.1h.6v.6h-.6z" fill="#b8605f" fill-opacity="0.7"/>
<path d="M146.08 546.00L145.90 546.94L145.54 547.85L145.02 548.69L144.39 549.45L143.97 550.23L143.98 551.17L143.88 552.10L143.63 553.01L143.23 553.84L142.68 554.58L141.99 555.20L141.19 555.69L140.32 556.06L139.42 556.33L138.87 557.03L138.35 557.86L137.72 558.60L136.98 559.23L136.15 559.69L135.24 559.97L134.30 560.06L133.34 559.98L132.40 559.76L131.50 559.56L130.58 559.97L129.62 560.26L128.64 560.39L127.66 560.33L126.73 560.06L125.86 559.61L125.10 558.98L124.44 558.22L123.90 557.38L123.17 556.85L122.26 556.54L121.40 556.10L120.63 555.53L120.00 554.83L119.51 554.01L119.19 553.10L119.04 552.15L119.03 551.17L119.12 550.20L118.53 549.47L117.98 548.69L117.55 547.84L117.28 546.93L117.19 546.00L117.28 545.07L117.56 544.16L117.99 543.31L118.53 542.52L118.87 541.71L118.78 540.73L118.83 539.75L119.03 538.80L119.40 537.92L119.95 537.14L120.66 536.49L121.48 535.98L122.39 535.61L123.33 535.36L123.94 534.69L124.52 533.91L125.20 533.23L125.98 532.68L126.85 532.31L127.78 532.12L128.74 532.11L129.69 532.27L130.62 532.57L131.50 532.83L132.39 532.46L133.32 532.20L134.27 532.07L135.22 532.12L136.13 532.35L136.98 532.76L137.75 533.32L138.42 534.01L139.00 534.78L139.77 535.22L140.74 535.47L141.66 535.84L142.50 536.35L143.21 537.02L143.76 537.81L144.14 538.70L144.35 539.66L144.40 540.66L144.33 541.65L144.92 542.41L145.45 543.23L145.84 544.11L146.06 545.05L146.08 546.00Z" fill="#d87677" stroke="#b8605f" stroke-width="0.4"/>
<path d="M132.2 555.7h.6v.6h-.6zM124.5 553.5h.6v.6h-.6zM128.3 542.8h.6v.6h-.6zM143.3 547.0h.6v.6h-.6zM131.1 552.8h.6v.6h-.6zM140.6 545.7h.6v.6h-.6zM136.3 538.1h.6v.6h-.6zM127.8 541.6h.6v.6h-.6zM123.5 536.9h.6v.6h-.6zM120.4 544.4h.6v.6h-.6zM129.4 542.1h.6v.6h-.6zM132.0 535.9h.6v.6h-.6zM130.3 549.6h.6v.6h-.6zM137.6 539.1h.6v.6h-.6zM129.1 534.1h.6v.6h-.6zM128.7 533.9h.6v.6h-.6zM122.3 553.1h.6v.6h-.6zM119.7 550.3h.6v.6h-.6z" fill="#b8605f" fill-opacity="0.7"/>
<path d="M128.65 557.00L128.29 558.33L127.67 559.59L126.87 560.75L126.91 562.07L127.09 563.48L127.04 564.89L126.70 566.22L126.07 567.44L125.17 568.47L124.04 569.31L122.77 569.95L121.43 570.43L120.92 571.74L120.25 572.96L119.38 574.03L118.32 574.88L117.10 575.46L115.77 575.75L114.37 575.78L112.98 575.58L111.70 575.60L110.56 576.42L109.32 577.07L108.00 577.47L106.65 577.57L105.32 577.37L104.05 576.87L102.88 576.12L101.82 575.19L100.60 574.86L99.18 574.90L97.77 574.71L96.46 574.27L95.31 573.54L94.35 572.56L93.62 571.38L93.11 570.06L92.79 568.67L91.72 567.88L90.56 567.07L89.58 566.08L88.84 564.94L88.39 563.66L88.24 562.29L88.38 560.90L88.76 559.53L89.16 558.23L88.52 557.00L88.05 555.69L87.82 554.34L87.88 553.00L88.24 551.71L88.89 550.51L89.78 549.45L90.82 548.53L91.52 547.49L91.64 546.07L91.97 544.70L92.53 543.44L93.35 542.35L94.39 541.48L95.61 540.85L96.95 540.47L98.35 540.29L99.36 539.49L100.29 538.39L101.37 537.48L102.59 536.82L103.91 536.46L105.29 536.42L106.67 536.69L108.00 537.22L109.25 537.92L110.56 537.53L111.93 537.23L113.31 537.17L114.65 537.40L115.90 537.93L117.00 538.74L117.94 539.78L118.71 540.98L119.48 542.03L120.84 542.36L122.13 542.87L123.29 543.59L124.26 544.53L124.98 545.65L125.44 546.93L125.65 548.29L125.66 549.69L126.10 550.86L127.08 551.89L127.89 553.04L128.45 554.31L128.71 555.64L128.65 557.00Z" fill="#d87677" stroke="#b8605f" stroke-width="0.4"/>
<circle cx="109.3" cy="558.6" r="8.2" fill="#a85b4e"/>
<path d="M108.6 564.3h.6v.6h-.6zM101.4 562.1h.6v.6h-.6zM119.1 561.9h.6v.6h-.6zM122.5 548.8h.6v.6h-.6zM108.9 547.5h.6v.6h-.6zM97.9 554.6h.6v.6h-.6zM111.4 563.5h.6v.6h-.6zM111.9 574.4h.6v.6h-.6zM115.9 542.3h.6v.6h-.6zM110.8 548.4h.6v.6h-.6zM102.5 570.8h.6v.6h-.6zM106.1 540.0h.6v.6h-.6zM113.0 552.3h.6v.6h-.6zM95.9 547.5h.6v.6h-.6zM99.2 556.7h.6v.6h-.6zM101.1 558.2h.6v.6h-.6zM123.8 550.1h.6v.6h-.6zM97.7 553.8h.6v.6h-.6zM120.0 549.3h.6v.6h-.6zM120.6 545.5h.6v.6h-.6zM95.7 556.4h.6v.6h-.6zM97.8 549.7h.6v.6h-.6zM113.7 566.2h.6v.6h-.6zM110.2 551.6h.6v.6h-.6zM122.2 561.3h.6v.6h-.6zM105.4 570.6h.6v.6h-.6z" fill="#b8605f" fill-opacity="0.7"/>
<path d="M174.60 545.00L174.39 546.04L173.98 547.04L173.40 547.96L172.70 548.81L172.38 549.71L172.39 550.76L172.27 551.79L171.99 552.79L171.52 553.70L170.88 554.50L170.09 555.16L169.18 555.68L168.20 556.06L167.19 556.32L166.64 557.18L166.04 558.06L165.32 558.84L164.49 559.47L163.57 559.92L162.57 560.18L161.53 560.24L160.49 560.12L159.47 559.85L158.50 559.76L157.50 560.23L156.45 560.56L155.37 560.72L154.30 560.67L153.27 560.41L152.31 559.94L151.45 559.29L150.71 558.50L150.07 557.62L149.13 557.21L148.07 556.89L147.07 556.43L146.17 555.81L145.43 555.03L144.86 554.12L144.48 553.09L144.30 552.00L144.27 550.89L144.29 549.82L143.62 548.99L143.05 548.07L142.63 547.09L142.41 546.05L142.40 545.00L142.61 543.96L143.02 542.96L143.59 542.03L144.28 541.19L144.60 540.28L144.59 539.24L144.71 538.20L145.00 537.20L145.46 536.29L146.11 535.49L146.90 534.83L147.81 534.31L148.79 533.93L149.81 533.67L150.36 532.82L150.96 531.94L151.68 531.17L152.51 530.54L153.44 530.09L154.44 529.83L155.47 529.78L156.51 529.90L157.53 530.17L158.50 530.26L159.50 529.79L160.55 529.46L161.62 529.30L162.69 529.34L163.73 529.60L164.68 530.07L165.55 530.71L166.29 531.50L166.94 532.38L167.87 532.79L168.94 533.10L169.94 533.56L170.84 534.18L171.59 534.96L172.16 535.87L172.54 536.90L172.72 537.99L172.74 539.10L172.73 540.17L173.40 541.01L173.96 541.92L174.38 542.91L174.59 543.95L174.60 545.00Z" fill="#e9b8b1" stroke="#d49c96" stroke-width="0.4"/>
<circle cx="160.3" cy="552.5" r="6.5" fill="#cd8d7f"/>
<path d="M149.6 536.3h.6v.6h-.6zM162.4 531.7h.6v.6h-.6zM157.6 531.3h.6v.6h-.6zM168.4 546.8h.6v.6h-.6zM169.5 540.9h.6v.6h-.6zM163.2 541.6h.6v.6h-.6zM150.9 546.5h.6v.6h-.6zM147.9 542.0h.6v.6h-.6zM165.8 545.6h.6v.6h-.6zM156.0 558.5h.6v.6h-.6zM159.1 538.5h.6v.6h-.6zM160.3 539.1h.6v.6h-.6zM154.0 540.9h.6v.6h-.6zM171.9 545.1h.6v.6h-.6zM160.3 552.1h.6v.6h-.6zM171.8 543.5h.6v.6h-.6zM155.1 558.6h.6v.6h-.6zM146.9 542.1h.6v.6h-.6zM162.4 558.3h.6v.6h-.6zM153.4 531.9h.6v.6h-.6z" fill="#d49c96" fill-opacity="0.7"/>
<path d="M196.73 548.50L196.36 549.31L196.03 550.08L196.34 550.95L196.51 551.85L196.49 552.74L196.25 553.57L195.79 554.31L195.14 554.93L194.37 555.43L193.65 555.90L193.44 556.78L193.10 557.60L192.60 558.31L191.95 558.86L191.17 559.23L190.29 559.40L189.38 559.40L188.52 559.42L187.92 560.05L187.23 560.57L186.47 560.94L185.66 561.10L184.82 561.04L184.00 560.78L183.22 560.36L182.49 559.99L181.66 560.29L180.80 560.46L179.94 560.45L179.14 560.23L178.42 559.81L177.81 559.22L177.31 558.51L176.83 557.85L175.92 557.71L175.06 557.44L174.30 557.00L173.69 556.41L173.26 555.67L173.02 554.84L172.95 553.95L172.87 553.11L172.17 552.51L171.59 551.83L171.18 551.05L170.98 550.21L171.01 549.35L171.26 548.50L171.67 547.69L172.05 546.93L171.78 546.07L171.64 545.19L171.69 544.32L171.95 543.51L172.42 542.79L173.06 542.18L173.82 541.70L174.53 541.23L174.71 540.35L175.02 539.52L175.49 538.79L176.11 538.22L176.86 537.82L177.71 537.61L178.61 537.57L179.45 537.51L180.04 536.84L180.72 536.27L181.49 535.88L182.31 535.69L183.16 535.73L184.00 535.98L184.79 536.40L185.54 536.78L186.38 536.51L187.25 536.37L188.10 536.42L188.90 536.68L189.60 537.14L190.20 537.77L190.67 538.52L191.13 539.21L192.00 539.38L192.82 539.68L193.55 540.12L194.14 540.72L194.54 541.46L194.77 542.28L194.84 543.16L194.93 543.97L195.63 544.55L196.24 545.22L196.69 545.98L196.92 546.80L196.93 547.65L196.73 548.50Z" fill="#e9b8b1" stroke="#d49c96" stroke-width="0.4"/>
<circle cx="186" cy="555" r="5.0" fill="#cd8d7f"/>
<path d="M186.8 538.4h.6v.6h-.6zM177.7 549.1h.6v.6h-.6zM193.5 548.5h.6v.6h-.6zM174.0 550.4h.6v.6h-.6zM176.9 555.8h.6v.6h-.6zM182.5 558.8h.6v.6h-.6zM183.0 540.8h.6v.6h-.6zM174.6 546.2h.6v.6h-.6zM187.1 556.7h.6v.6h-.6zM186.2 542.5h.6v.6h-.6zM187.2 539.4h.6v.6h-.6zM187.9 542.6h.6v.6h-.6zM192.7 554.2h.6v.6h-.6zM186.7 541.0h.6v.6h-.6zM188.7 551.7h.6v.6h-.6zM179.6 543.5h.6v.6h-.6z" fill="#d49c96" fill-opacity="0.7"/>
<path d="M235.43 541.00L235.01 542.19L234.35 543.31L233.72 544.37L234.05 545.62L234.19 546.90L234.06 548.15L233.64 549.31L232.93 550.32L231.99 551.15L230.87 551.80L229.82 552.42L229.49 553.69L228.98 554.89L228.26 555.93L227.32 556.74L226.19 557.27L224.95 557.52L223.64 557.52L222.40 557.51L221.47 558.42L220.41 559.16L219.25 559.65L218.03 559.81L216.80 559.64L215.61 559.16L214.50 558.43L213.47 557.74L212.25 558.00L211.01 558.06L209.81 557.87L208.72 557.38L207.78 556.62L207.03 555.62L206.46 554.48L205.92 553.41L204.72 553.08L203.59 552.59L202.60 551.90L201.83 551.00L201.31 549.94L201.05 548.77L201.02 547.54L200.96 546.38L199.96 545.51L199.10 544.52L198.48 543.41L198.16 542.22L198.16 541.00L198.46 539.80L199.01 538.66L199.54 537.57L199.12 536.26L198.93 534.93L199.01 533.63L199.42 532.43L200.14 531.38L201.12 530.52L202.28 529.86L203.40 529.25L203.81 528.01L204.40 526.86L205.20 525.89L206.22 525.17L207.41 524.74L208.71 524.60L210.05 524.71L211.31 524.82L212.25 524.00L213.29 523.34L214.42 522.92L215.61 522.79L216.80 522.97L217.95 523.44L219.02 524.12L220.03 524.75L221.24 524.41L222.49 524.25L223.70 524.34L224.83 524.72L225.82 525.37L226.64 526.27L227.29 527.33L227.91 528.33L229.19 528.61L230.40 529.07L231.45 529.76L232.27 530.66L232.82 531.75L233.08 532.97L233.10 534.25L233.12 535.46L234.05 536.38L234.83 537.41L235.35 538.56L235.56 539.77L235.43 541.00Z" fill="#e9b8b1" stroke="#d49c96" stroke-width="0.4"/>
<circle cx="215.4" cy="543.8" r="8.0" fill="#cd8d7f"/>
<path d="M213.5 547.7h.6v.6h-.6zM213.4 536.2h.6v.6h-.6zM206.5 538.6h.6v.6h-.6zM228.2 545.3h.6v.6h-.6zM227.8 543.6h.6v.6h-.6zM222.5 543.7h.6v.6h-.6zM203.3 547.9h.6v.6h-.6zM222.9 547.0h.6v.6h-.6zM205.5 529.4h.6v.6h-.6zM207.1 535.9h.6v.6h-.6zM222.1 540.2h.6v.6h-.6zM222.8 533.6h.6v.6h-.6zM221.0 546.4h.6v.6h-.6zM211.4 555.1h.6v.6h-.6zM222.2 552.7h.6v.6h-.6zM210.0 532.9h.6v.6h-.6zM211.4 539.3h.6v.6h-.6zM224.6 544.1h.6v.6h-.6zM212.0 530.8h.6v.6h-.6zM211.7 552.9h.6v.6h-.6zM207.5 543.8h.6v.6h-.6zM220.7 527.5h.6v.6h-.6zM217.3 553.8h.6v.6h-.6z" fill="#d49c96" fill-opacity="0.7"/>
<path d="M134.55 579.40L133.81 580.66L133.85 581.93L134.14 583.29L134.21 584.65L134.00 585.98L133.50 587.23L132.72 588.34L131.72 589.28L130.55 590.06L129.30 590.68L128.97 592.00L128.52 593.32L127.87 594.53L127.00 595.56L125.94 596.37L124.71 596.92L123.38 597.21L122.01 597.29L120.74 597.50L119.73 598.54L118.58 599.42L117.32 600.06L115.98 600.40L114.60 600.41L113.24 600.09L111.95 599.50L110.76 598.69L109.51 598.40L108.09 598.57L106.69 598.50L105.35 598.16L104.13 597.53L103.10 596.62L102.26 595.48L101.64 594.18L101.20 592.80L100.15 592.08L98.95 591.41L97.88 590.57L97.02 589.55L96.41 588.37L96.08 587.07L96.01 585.71L96.16 584.34L96.41 583.02L95.54 581.91L94.81 580.70L94.31 579.40L94.09 578.06L94.19 576.71L94.58 575.42L95.25 574.21L96.11 573.12L96.69 571.98L96.60 570.53L96.74 569.09L97.13 567.73L97.82 566.52L98.77 565.52L99.95 564.75L101.29 564.22L102.71 563.90L103.70 563.09L104.53 561.96L105.52 560.98L106.66 560.24L107.94 559.79L109.30 559.64L110.70 559.78L112.07 560.17L113.38 560.74L114.60 560.28L115.89 559.79L117.22 559.52L118.55 559.52L119.85 559.81L121.05 560.39L122.13 561.21L123.08 562.21L123.99 563.13L125.43 563.20L126.84 563.45L128.15 563.95L129.31 564.69L130.25 565.68L130.94 566.86L131.38 568.18L131.61 569.58L132.16 570.74L133.27 571.67L134.21 572.74L134.90 573.96L135.29 575.29L135.34 576.67L135.08 578.06L134.55 579.40Z" fill="#e9b8b1" stroke="#d49c96" stroke-width="0.4"/>
<circle cx="118.5" cy="580.7" r="7.3" fill="#cd8d7f"/>
<path d="M117.2 597.3h.6v.6h-.6zM125.6 590.6h.6v.6h-.6zM123.2 584.5h.6v.6h-.6zM123.9 579.3h.6v.6h-.6zM106.5 569.4h.6v.6h-.6zM101.8 583.3h.6v.6h-.6zM120.6 595.2h.6v.6h-.6zM122.8 584.6h.6v.6h-.6zM124.8 580.7h.6v.6h-.6zM99.9 589.0h.6v.6h-.6zM109.2 584.6h.6v.6h-.6zM113.6 597.7h.6v.6h-.6zM128.2 585.1h.6v.6h-.6zM103.7 590.0h.6v.6h-.6zM106.4 592.6h.6v.6h-.6zM99.5 579.6h.6v.6h-.6zM126.3 571.1h.6v.6h-.6zM118.6 584.4h.6v.6h-.6zM127.1 575.0h.6v.6h-.6zM120.8 596.3h.6v.6h-.6zM100.6 571.8h.6v.6h-.6zM122.3 572.2h.6v.6h-.6zM103.8 593.0h.6v.6h-.6zM125.4 591.6h.6v.6h-.6zM127.3 588.3h.6v.6h-.6zM109.3 562.2h.6v.6h-.6z" fill="#d49c96" fill-opacity="0.7"/>
<path d="M140 560 L200 555 L222 570 L222 596 L200 620 L160 622 L125 612 L122 590 Z" fill="#47a1ba"/>
<path d="M197.12 566.00L196.71 567.23L196.08 568.38L195.51 569.48L195.81 570.77L195.92 572.08L195.78 573.37L195.38 574.57L194.70 575.64L193.78 576.55L192.68 577.27L191.47 577.82L190.59 578.59L190.09 579.79L189.42 580.88L188.57 581.82L187.55 582.53L186.38 583.00L185.12 583.20L183.83 583.17L182.55 582.96L181.48 583.47L180.40 584.20L179.23 584.75L178.00 585.05L176.75 585.06L175.53 584.78L174.37 584.24L173.31 583.49L172.36 582.61L171.07 582.74L169.75 582.72L168.49 582.47L167.33 581.97L166.32 581.22L165.51 580.24L164.91 579.09L164.50 577.84L164.00 576.74L162.87 576.11L161.85 575.32L161.01 574.38L160.40 573.29L160.06 572.09L159.99 570.82L160.17 569.55L160.54 568.30L160.40 567.15L159.80 566.00L159.39 564.78L159.22 563.53L159.32 562.28L159.71 561.10L160.36 560.01L161.20 559.04L162.17 558.19L162.37 556.98L162.51 555.65L162.87 554.39L163.46 553.25L164.29 552.29L165.33 551.55L166.52 551.04L167.81 550.75L169.08 550.54L169.85 549.47L170.76 548.52L171.81 547.77L172.98 547.27L174.23 547.07L175.52 547.16L176.79 547.51L178.00 548.07L179.16 548.35L180.38 547.95L181.63 547.74L182.89 547.77L184.09 548.06L185.19 548.63L186.17 549.44L186.99 550.43L187.66 551.54L188.67 552.09L189.93 552.40L191.11 552.89L192.15 553.59L193.00 554.49L193.62 555.57L194.00 556.76L194.17 558.03L194.16 559.30L195.05 560.21L195.95 561.19L196.66 562.29L197.11 563.48L197.26 564.74L197.12 566.00Z" fill="#47a1ba" stroke="#3a8aa4" stroke-width="0.4"/>
<circle cx="178.0" cy="568.0" r="7.5" fill="#307d97"/>
<path d="M164.1 568.2h.6v.6h-.6zM174.2 559.5h.6v.6h-.6zM188.9 566.7h.6v.6h-.6zM175.7 581.3h.6v.6h-.6zM173.1 553.4h.6v.6h-.6zM164.9 561.0h.6v.6h-.6zM185.2 575.3h.6v.6h-.6zM186.5 579.9h.6v.6h-.6zM192.5 571.6h.6v.6h-.6zM190.8 572.5h.6v.6h-.6zM172.1 575.7h.6v.6h-.6zM180.6 562.1h.6v.6h-.6zM193.2 572.1h.6v.6h-.6zM171.5 565.6h.6v.6h-.6zM194.6 564.7h.6v.6h-.6zM186.8 573.5h.6v.6h-.6zM184.7 573.6h.6v.6h-.6zM172.3 560.6h.6v.6h-.6zM176.2 560.7h.6v.6h-.6zM185.4 579.6h.6v.6h-.6zM168.7 572.7h.6v.6h-.6zM168.0 559.1h.6v.6h-.6zM174.2 569.3h.6v.6h-.6zM175.5 549.4h.6v.6h-.6z" fill="#25708a" fill-opacity="0.7"/>
<path d="M166.54 570.00L166.27 571.28L165.69 572.49L164.89 573.60L164.45 574.73L164.69 576.07L164.70 577.42L164.43 578.69L163.84 579.84L162.96 580.80L161.86 581.56L160.61 582.11L159.68 582.88L159.22 584.16L158.56 585.33L157.69 586.30L156.61 587.00L155.38 587.40L154.05 587.51L152.70 587.37L151.51 587.57L150.47 588.45L149.32 589.14L148.08 589.55L146.80 589.62L145.53 589.35L144.33 588.78L143.22 587.99L142.09 587.57L140.75 587.82L139.41 587.84L138.13 587.58L136.98 587.00L136.02 586.14L135.26 585.04L134.69 583.80L133.92 582.88L132.63 582.42L131.46 581.77L130.48 580.91L129.77 579.83L129.36 578.60L129.24 577.27L129.36 575.92L129.16 574.73L128.26 573.69L127.56 572.53L127.15 571.29L127.07 570.00L127.33 568.72L127.90 567.51L128.69 566.40L129.11 565.26L128.87 563.91L128.85 562.57L129.13 561.28L129.71 560.13L130.59 559.17L131.70 558.41L132.95 557.85L133.89 557.09L134.36 555.81L135.02 554.65L135.90 553.69L136.98 552.99L138.22 552.60L139.55 552.51L140.91 552.65L142.10 552.47L143.14 551.59L144.29 550.91L145.52 550.51L146.80 550.44L148.06 550.70L149.27 551.27L150.37 552.06L151.50 552.48L152.84 552.22L154.18 552.18L155.46 552.44L156.61 553.01L157.58 553.86L158.35 554.95L158.92 556.18L159.70 557.10L161.00 557.55L162.18 558.20L163.17 559.06L163.88 560.14L164.30 561.37L164.41 562.70L164.29 564.06L164.49 565.26L165.38 566.30L166.07 567.46L166.47 568.71L166.54 570.00Z" fill="#47a1ba" stroke="#3a8aa4" stroke-width="0.4"/>
<circle cx="146.8" cy="571.0" r="8.0" fill="#307d97"/>
<path d="M134.0 574.0h.6v.6h-.6zM157.8 564.3h.6v.6h-.6zM133.1 569.3h.6v.6h-.6zM151.9 581.8h.6v.6h-.6zM136.0 558.6h.6v.6h-.6zM155.3 575.7h.6v.6h-.6zM160.2 578.6h.6v.6h-.6zM144.9 564.9h.6v.6h-.6zM163.9 568.1h.6v.6h-.6zM138.9 558.5h.6v.6h-.6zM149.4 574.0h.6v.6h-.6zM141.0 568.9h.6v.6h-.6zM150.2 578.7h.6v.6h-.6zM158.9 572.3h.6v.6h-.6zM131.7 575.9h.6v.6h-.6zM132.7 568.3h.6v.6h-.6zM132.3 570.0h.6v.6h-.6zM137.2 572.6h.6v.6h-.6zM164.3 569.7h.6v.6h-.6zM154.8 557.4h.6v.6h-.6zM143.1 578.4h.6v.6h-.6zM145.3 576.0h.6v.6h-.6zM148.0 558.5h.6v.6h-.6zM153.3 560.6h.6v.6h-.6z" fill="#25708a" fill-opacity="0.7"/>
<path d="M228.16 563.50L227.86 564.66L227.31 565.75L226.59 566.76L226.71 567.92L226.97 569.19L226.99 570.45L226.72 571.65L226.16 572.72L225.34 573.62L224.32 574.34L223.19 574.89L222.69 575.99L222.25 577.24L221.60 578.35L220.73 579.25L219.66 579.88L218.44 580.22L217.15 580.28L215.85 580.13L214.83 580.76L213.79 581.54L212.65 582.09L211.43 582.34L210.20 582.26L209.00 581.85L207.87 581.18L206.85 580.33L205.70 580.31L204.46 580.42L203.24 580.30L202.12 579.89L201.13 579.21L200.33 578.28L199.72 577.16L199.27 575.96L198.28 575.42L197.14 574.95L196.13 574.30L195.31 573.45L194.75 572.42L194.46 571.26L194.41 570.04L194.56 568.81L193.89 567.87L193.06 566.91L192.43 565.84L192.09 564.69L192.05 563.50L192.33 562.33L192.86 561.22L193.58 560.19L193.46 559.01L193.22 557.74L193.22 556.47L193.51 555.27L194.11 554.21L194.97 553.32L196.02 552.62L197.20 552.10L197.72 551.02L198.20 549.81L198.87 548.73L199.76 547.87L200.83 547.28L202.05 546.97L203.34 546.93L204.63 547.09L205.64 546.46L206.66 545.68L207.78 545.12L208.98 544.84L210.20 544.89L211.40 545.26L212.52 545.88L213.54 546.69L214.71 546.67L215.97 546.51L217.20 546.60L218.35 546.97L219.36 547.63L220.19 548.55L220.82 549.66L221.28 550.86L222.28 551.42L223.43 551.90L224.44 552.57L225.24 553.45L225.78 554.50L226.04 555.69L226.05 556.93L225.86 558.18L226.48 559.14L227.27 560.10L227.86 561.18L228.16 562.32L228.16 563.50Z" fill="#47a1ba" stroke="#3a8aa4" stroke-width="0.4"/>
<circle cx="210.5" cy="563.0" r="7.0" fill="#307d97"/>
<path d="M209.4 577.2h.6v.6h-.6zM204.1 549.6h.6v.6h-.6zM213.6 571.4h.6v.6h-.6zM215.3 570.3h.6v.6h-.6zM209.5 556.5h.6v.6h-.6zM202.0 561.9h.6v.6h-.6zM207.1 574.3h.6v.6h-.6zM217.0 552.4h.6v.6h-.6zM219.4 564.3h.6v.6h-.6zM219.5 575.8h.6v.6h-.6zM215.6 549.7h.6v.6h-.6zM216.8 550.8h.6v.6h-.6zM224.2 558.9h.6v.6h-.6zM209.6 578.7h.6v.6h-.6zM195.9 564.7h.6v.6h-.6zM199.9 559.1h.6v.6h-.6zM202.9 571.9h.6v.6h-.6zM207.6 569.7h.6v.6h-.6zM216.5 550.1h.6v.6h-.6zM224.0 562.3h.6v.6h-.6zM196.7 558.7h.6v.6h-.6zM219.3 573.8h.6v.6h-.6zM202.9 566.2h.6v.6h-.6z" fill="#25708a" fill-opacity="0.7"/>
<path d="M231.29 582.00L230.75 583.09L230.58 584.17L230.99 585.36L231.23 586.59L231.24 587.82L230.99 589.00L230.48 590.08L229.74 591.03L228.81 591.83L227.77 592.49L227.28 593.56L226.91 594.81L226.35 595.97L225.58 596.97L224.62 597.74L223.49 598.26L222.25 598.52L220.95 598.55L219.66 598.39L218.70 599.17L217.65 599.86L216.52 600.35L215.32 600.57L214.10 600.51L212.91 600.16L211.79 599.58L210.76 598.81L209.76 598.19L208.55 598.34L207.34 598.33L206.16 598.10L205.07 597.64L204.11 596.95L203.31 596.06L202.69 595.01L202.22 593.88L201.43 593.11L200.26 592.62L199.19 591.96L198.28 591.13L197.59 590.14L197.16 589.02L196.99 587.81L197.04 586.57L197.28 585.34L196.76 584.28L196.11 583.18L195.67 582.00L195.50 580.78L195.61 579.57L196.02 578.40L196.68 577.33L197.54 576.38L198.45 575.52L198.45 574.28L198.62 573.06L198.99 571.90L199.59 570.87L200.41 569.99L201.42 569.32L202.56 568.84L203.77 568.54L204.78 568.06L205.44 566.99L206.22 566.03L207.16 565.24L208.22 564.67L209.37 564.36L210.58 564.31L211.80 564.50L212.98 564.86L214.10 564.65L215.27 564.09L216.50 563.74L217.75 563.64L218.97 563.83L220.11 564.31L221.13 565.04L222.01 565.97L222.75 567.02L223.92 567.30L225.14 567.61L226.27 568.13L227.24 568.86L228.01 569.80L228.55 570.91L228.86 572.14L228.96 573.42L229.05 574.63L229.94 575.44L230.73 576.36L231.33 577.38L231.70 578.50L231.81 579.67L231.66 580.85L231.29 582.00Z" fill="#47a1ba" stroke="#3a8aa4" stroke-width="0.4"/>
<circle cx="214.1" cy="582.7" r="8.0" fill="#307d97"/>
<path d="M225.0 590.7h.6v.6h-.6zM204.9 569.0h.6v.6h-.6zM212.9 590.9h.6v.6h-.6zM212.7 568.5h.6v.6h-.6zM209.6 595.0h.6v.6h-.6zM202.5 590.8h.6v.6h-.6zM220.4 587.8h.6v.6h-.6zM222.5 576.0h.6v.6h-.6zM213.1 596.8h.6v.6h-.6zM209.1 576.6h.6v.6h-.6zM201.2 577.7h.6v.6h-.6zM221.0 593.6h.6v.6h-.6zM221.3 589.0h.6v.6h-.6zM221.2 586.1h.6v.6h-.6zM224.9 580.5h.6v.6h-.6zM225.4 581.3h.6v.6h-.6zM202.1 572.4h.6v.6h-.6zM211.5 575.9h.6v.6h-.6zM202.8 574.9h.6v.6h-.6zM216.7 587.7h.6v.6h-.6zM222.6 573.4h.6v.6h-.6zM218.0 592.7h.6v.6h-.6zM217.0 596.5h.6v.6h-.6z" fill="#25708a" fill-opacity="0.7"/>
<path d="M153.94 600.50L153.52 601.89L152.83 603.20L151.97 604.41L152.13 605.81L152.25 607.27L152.12 608.71L151.70 610.06L150.97 611.28L149.97 612.31L148.76 613.13L147.40 613.75L146.14 614.34L145.59 615.65L144.87 616.88L143.95 617.93L142.84 618.76L141.58 619.31L140.20 619.58L138.77 619.57L137.35 619.34L136.09 619.53L134.91 620.35L133.64 620.98L132.30 621.36L130.93 621.42L129.58 621.16L128.30 620.60L127.13 619.80L126.08 618.82L124.79 618.63L123.35 618.65L121.95 618.43L120.65 617.94L119.51 617.17L118.57 616.16L117.86 614.94L117.37 613.60L117.05 612.20L115.79 611.53L114.60 610.72L113.58 609.73L112.80 608.58L112.31 607.29L112.12 605.91L112.22 604.49L112.55 603.10L112.69 601.79L111.96 600.50L111.42 599.13L111.14 597.71L111.17 596.30L111.52 594.93L112.18 593.67L113.10 592.55L114.18 591.56L114.76 590.37L114.93 588.89L115.33 587.48L116.00 586.20L116.92 585.12L118.09 584.29L119.43 583.73L120.89 583.43L122.39 583.33L123.40 582.45L124.41 581.44L125.56 580.63L126.83 580.09L128.19 579.86L129.59 579.95L130.98 580.33L132.30 580.95L133.54 581.63L134.84 581.17L136.20 580.88L137.57 580.83L138.90 581.06L140.14 581.58L141.24 582.37L142.19 583.38L142.98 584.52L143.91 585.37L145.34 585.63L146.71 586.09L147.95 586.77L148.99 587.69L149.79 588.82L150.31 590.10L150.59 591.48L150.65 592.90L151.33 594.04L152.38 595.12L153.23 596.34L153.80 597.67L154.04 599.08L153.94 600.50Z" fill="#47a1ba" stroke="#3a8aa4" stroke-width="0.4"/>
<circle cx="132.3" cy="601.8" r="8.5" fill="#307d97"/>
<path d="M137.2 599.4h.6v.6h-.6zM131.5 591.9h.6v.6h-.6zM137.4 600.1h.6v.6h-.6zM143.8 589.6h.6v.6h-.6zM144.1 585.7h.6v.6h-.6zM133.0 612.1h.6v.6h-.6zM129.5 590.1h.6v.6h-.6zM131.5 610.4h.6v.6h-.6zM143.4 586.7h.6v.6h-.6zM135.2 591.1h.6v.6h-.6zM144.7 594.2h.6v.6h-.6zM133.8 613.6h.6v.6h-.6zM126.3 603.8h.6v.6h-.6zM121.4 595.8h.6v.6h-.6zM115.8 592.8h.6v.6h-.6zM124.6 590.6h.6v.6h-.6zM144.6 586.2h.6v.6h-.6zM113.9 601.6h.6v.6h-.6zM140.5 601.5h.6v.6h-.6zM140.9 616.7h.6v.6h-.6zM126.4 585.4h.6v.6h-.6zM129.2 613.8h.6v.6h-.6zM137.9 595.7h.6v.6h-.6zM136.8 604.6h.6v.6h-.6zM115.2 603.9h.6v.6h-.6zM120.5 596.3h.6v.6h-.6z" fill="#25708a" fill-opacity="0.7"/>
<path d="M212.42 609.30L212.26 610.47L211.88 611.60L211.32 612.67L210.64 613.65L210.68 614.83L210.76 616.08L210.66 617.32L210.34 618.51L209.80 619.59L209.03 620.53L208.08 621.30L206.99 621.89L205.81 622.31L204.73 622.76L204.07 623.78L203.29 624.69L202.37 625.46L201.33 626.03L200.20 626.38L199.00 626.48L197.79 626.36L196.61 626.05L195.47 625.59L194.40 625.68L193.30 626.07L192.16 626.32L191.00 626.39L189.86 626.24L188.77 625.88L187.77 625.31L186.87 624.58L186.07 623.72L185.38 622.80L184.15 622.66L182.93 622.38L181.78 621.92L180.74 621.28L179.86 620.46L179.18 619.47L178.70 618.36L178.43 617.17L178.34 615.95L177.98 614.87L177.15 613.92L176.47 612.87L175.98 611.72L175.75 610.52L175.77 609.30L176.05 608.10L176.57 606.95L177.27 605.89L178.10 604.93L178.22 603.81L178.27 602.62L178.49 601.45L178.91 600.36L179.53 599.36L180.33 598.51L181.29 597.81L182.37 597.27L183.51 596.88L184.53 596.44L185.11 595.40L185.82 594.43L186.65 593.58L187.61 592.90L188.67 592.43L189.81 592.17L190.99 592.14L192.16 592.30L193.31 592.61L194.40 592.40L195.54 591.90L196.73 591.57L197.95 591.46L199.15 591.59L200.28 591.97L201.32 592.59L202.24 593.40L203.03 594.36L203.70 595.39L204.87 595.65L206.01 596.06L207.07 596.63L207.99 597.38L208.74 598.30L209.29 599.35L209.64 600.50L209.80 601.70L209.80 602.92L210.09 603.97L210.88 604.88L211.56 605.89L212.06 606.97L212.36 608.12L212.42 609.30Z" fill="#47a1ba" stroke="#3a8aa4" stroke-width="0.4"/>
<circle cx="194.4" cy="609.0" r="8.2" fill="#307d97"/>
<path d="M179.9 607.3h.6v.6h-.6zM203.4 607.0h.6v.6h-.6zM195.8 595.7h.6v.6h-.6zM191.0 603.8h.6v.6h-.6zM204.7 611.1h.6v.6h-.6zM194.2 600.5h.6v.6h-.6zM184.8 609.2h.6v.6h-.6zM203.3 596.4h.6v.6h-.6zM181.3 618.6h.6v.6h-.6zM207.9 614.9h.6v.6h-.6zM199.5 604.2h.6v.6h-.6zM191.0 597.4h.6v.6h-.6zM202.2 607.0h.6v.6h-.6zM179.7 605.5h.6v.6h-.6zM188.3 602.0h.6v.6h-.6zM208.0 617.0h.6v.6h-.6zM178.5 611.9h.6v.6h-.6zM203.6 620.7h.6v.6h-.6zM200.4 595.0h.6v.6h-.6zM204.7 610.5h.6v.6h-.6zM207.8 613.8h.6v.6h-.6zM184.7 621.8h.6v.6h-.6z" fill="#25708a" fill-opacity="0.7"/>
<path d="M181.18 610.50L180.61 611.66L179.87 612.73L180.01 613.90L180.15 615.12L180.08 616.33L179.77 617.49L179.19 618.53L178.38 619.44L177.38 620.18L176.26 620.75L175.21 621.30L174.84 622.44L174.34 623.54L173.66 624.53L172.81 625.34L171.81 625.93L170.69 626.30L169.51 626.45L168.31 626.42L167.25 626.73L166.30 627.61L165.25 628.34L164.10 628.85L162.90 629.09L161.68 629.04L160.50 628.71L159.39 628.15L158.37 627.42L157.19 627.33L155.89 627.44L154.60 627.32L153.40 626.95L152.34 626.31L151.45 625.42L150.76 624.34L150.27 623.13L149.95 621.85L148.90 621.24L147.89 620.53L147.03 619.66L146.39 618.64L145.99 617.51L145.85 616.29L145.95 615.04L146.26 613.81L146.43 612.67L145.81 611.62L145.32 610.50L145.04 609.33L145.02 608.15L145.26 606.99L145.75 605.90L146.45 604.92L147.30 604.04L147.71 603.01L147.71 601.73L147.91 600.48L148.33 599.32L149.00 598.31L149.89 597.49L150.95 596.87L152.13 596.47L153.37 596.24L154.17 595.38L154.96 594.39L155.88 593.56L156.94 592.95L158.11 592.61L159.33 592.55L160.56 592.76L161.77 593.18L162.90 593.71L164.03 593.22L165.22 592.88L166.43 592.75L167.62 592.87L168.75 593.26L169.78 593.89L170.68 594.73L171.45 595.70L172.30 596.43L173.56 596.60L174.78 596.95L175.90 597.50L176.86 598.26L177.60 599.22L178.12 600.33L178.42 601.54L178.53 602.79L179.12 603.78L180.06 604.68L180.82 605.70L181.34 606.83L181.58 608.04L181.52 609.28L181.18 610.50Z" fill="#47a1ba" stroke="#3a8aa4" stroke-width="0.4"/>
<circle cx="162.9" cy="611.0" r="8.2" fill="#307d97"/>
<path d="M155.3 619.5h.6v.6h-.6zM153.1 616.2h.6v.6h-.6zM151.5 617.8h.6v.6h-.6zM162.2 623.8h.6v.6h-.6zM172.5 611.1h.6v.6h-.6zM159.2 616.7h.6v.6h-.6zM162.5 600.8h.6v.6h-.6zM166.8 594.9h.6v.6h-.6zM162.6 626.1h.6v.6h-.6zM167.7 597.8h.6v.6h-.6zM174.2 612.5h.6v.6h-.6zM156.2 603.7h.6v.6h-.6zM164.5 620.1h.6v.6h-.6zM162.1 625.2h.6v.6h-.6zM156.5 619.6h.6v.6h-.6zM152.9 598.0h.6v.6h-.6zM161.5 615.5h.6v.6h-.6zM177.8 608.0h.6v.6h-.6zM166.0 598.7h.6v.6h-.6zM163.6 617.9h.6v.6h-.6zM159.1 621.4h.6v.6h-.6zM175.6 616.1h.6v.6h-.6zM162.3 606.2h.6v.6h-.6z" fill="#25708a" fill-opacity="0.7"/>
<g>
<path d="M139.90 588.90L139.34 587.69L138.88 586.25L138.74 585.51L138.71 584.67L138.78 583.93L139.01 583.07L139.34 582.40L139.84 581.61L140.40 581.07L141.09 580.45L141.85 580.03L142.64 579.62L142.98 578.88L143.09 577.92L143.27 577.01L143.56 576.09L143.92 575.30L144.42 574.55L144.99 573.96L145.68 573.43L146.41 573.04L147.23 572.70L148.06 572.46L148.94 572.25L149.71 571.99L149.98 571.13L150.28 570.33L150.64 569.53L151.04 568.84L151.53 568.19L152.05 567.67L152.67 567.20L153.32 566.86L154.05 566.58L154.81 566.41L155.64 566.28L156.49 566.24L157.36 566.22L157.95 565.79L158.37 565.01L158.81 564.31L159.32 563.63L160.45 562.58L161.74 561.92L163.08 561.67L164.40 561.77L165.64 562.12L166.83 562.62L167.86 562.02L168.92 561.32L170.05 560.77L171.23 560.45L172.42 560.42L173.58 560.67L174.67 561.16L175.66 561.83L176.55 562.61L177.54 562.80L178.69 562.53L179.83 562.42L180.95 562.51L182.06 562.85L183.04 563.46L183.76 564.23L184.26 565.10L184.62 566.04L184.95 567.06L185.42 568.07L186.55 568.02L187.68 567.94L188.84 567.96L190.00 568.20L191.13 568.73L192.09 569.54L192.81 570.59L193.37 571.85L193.79 573.23L195.17 573.59L196.51 574.03L197.64 574.61L198.55 575.34L199.26 576.25L199.77 577.30L200.06 578.47L200.14 579.72L200.04 580.98L201.10 581.83L202.20 582.83L203.07 584.02L203.59 585.36L203.68 586.78L203.37 588.16L202.68 589.21L201.80 589.89L200.83 590.30L200.35 591.08L200.15 592.01L199.98 592.79L199.80 593.48L199.53 594.13L199.13 594.77L198.57 595.36L197.86 595.85L197.01 596.19L195.99 596.36L194.79 596.29L193.48 596.01L192.21 595.74L191.16 596.65L190.02 597.35L188.84 597.74L187.75 597.84L186.81 597.72L186.02 597.45L185.29 597.07L184.45 596.62L183.41 596.17L182.29 595.96L181.44 596.87L180.52 597.74L179.50 598.47L178.35 598.95L177.15 599.13L175.91 599.01L174.64 598.64L173.36 598.13L172.23 598.24L171.41 599.11L170.69 599.88L169.99 600.55L169.24 601.09L168.42 601.50L167.53 601.78L166.68 601.89L165.92 601.88L165.17 601.89L164.44 601.89L163.72 601.83L163.15 602.21L162.48 602.80L161.62 603.35L160.64 603.80L159.59 604.08L158.56 604.15L157.59 604.02L156.71 603.74L155.96 603.37L155.39 602.96L154.96 602.54L154.58 602.08L154.16 601.56L153.58 601.07L152.65 601.38L151.60 601.70L150.47 601.92L149.31 601.94L148.16 601.70L147.15 601.22L146.35 600.56L145.71 599.77L145.20 598.88L144.81 597.96L144.30 597.25L143.35 597.06L142.43 596.79L141.57 596.41L140.80 595.91L140.13 595.31L139.60 594.60L139.26 593.91L139.05 593.22L138.88 592.43L138.83 591.58L138.95 590.69L139.29 589.80Z" fill="#d29b30"/>
<path d="M141.46 588.45L140.94 587.33L140.52 585.99L140.39 584.52L140.71 583.05L141.54 581.72L142.76 580.68L143.48 580.30L144.16 579.89L144.23 579.02L144.36 578.12L144.57 577.29L144.89 576.46L145.29 575.77L145.83 575.12L146.43 574.63L147.14 574.21L147.88 573.90L148.70 573.64L149.51 573.46L150.24 573.19L150.49 572.39L150.78 571.60L151.10 570.89L151.52 570.21L152.50 569.13L153.74 568.43L155.18 568.08L156.77 567.97L157.87 567.07L158.73 565.70L159.77 564.63L161.00 563.95L162.34 563.67L163.66 563.75L164.90 564.07L165.98 563.98L166.95 563.22L167.95 562.61L168.99 562.20L170.10 562.03L171.22 562.14L172.31 562.52L173.36 563.09L174.32 563.80L175.36 563.64L176.44 563.29L177.52 563.10L178.57 563.12L179.56 563.36L180.46 563.82L181.29 564.51L181.93 565.37L182.34 566.32L182.64 567.31L183.55 567.61L184.51 567.76L185.38 567.87L186.23 568.04L187.10 568.34L187.98 568.85L188.83 569.58L189.58 570.51L190.16 571.59L191.13 572.12L192.44 572.35L193.68 572.77L194.73 573.42L195.55 574.28L196.11 575.30L196.47 576.40L196.70 577.55L197.18 578.44L198.25 578.95L199.24 579.61L200.06 580.44L200.67 581.45L201.00 582.67L201.01 584.01L200.73 585.34L200.25 586.50L200.82 587.56L200.99 588.71L200.83 589.82L200.43 590.77L199.92 591.50L199.39 592.01L198.86 592.37L198.31 592.72L197.75 593.04L197.15 593.32L196.50 593.49L195.80 593.54L195.08 593.68L194.43 594.50L193.59 595.34L192.58 596.04L191.45 596.50L190.27 596.63L189.07 596.48L188.02 596.06L187.14 595.46L186.33 594.89L185.39 595.29L184.57 595.69L183.83 596.08L183.04 596.43L182.16 596.66L181.15 596.74L180.03 596.65L178.84 596.39L177.65 596.00L176.67 596.83L175.61 597.59L174.55 598.14L173.50 598.43L172.49 598.48L171.51 598.36L170.49 598.18L169.42 598.02L168.61 598.40L168.06 599.26L167.48 600.03L166.92 600.63L166.44 601.05L165.93 601.41L165.34 601.73L164.63 601.98L163.83 602.09L162.97 602.02L162.08 601.73L161.17 601.25L160.24 601.00L159.27 601.51L158.34 601.90L157.46 602.12L156.67 602.17L156.00 602.09L155.48 601.94L155.04 601.76L154.62 601.51L154.12 601.15L153.44 600.64L152.66 599.97L151.84 599.19L150.75 599.40L149.61 599.62L148.51 599.62L147.55 599.42L146.69 599.04L145.95 598.49L145.36 597.82L144.90 597.06L144.55 596.25L144.30 595.40L144.10 594.57L143.27 594.29L142.48 593.92L141.76 593.46L141.17 592.97L140.70 592.47L140.28 591.85L139.96 591.09L139.80 590.21L139.88 589.26Z" fill="#efd08f"/>
<path d="M142.81 592.13L142.30 591.22L141.97 590.06L142.12 588.76L142.85 587.50L143.09 586.84L142.99 586.01L143.06 585.25L143.31 584.45L143.80 583.80L144.46 583.21L145.33 582.72L145.53 581.72L145.89 580.77L146.47 579.96L147.31 579.37L148.30 578.91L148.76 577.99L149.20 577.03L149.80 576.32L150.61 575.78L151.52 575.45L152.20 574.87L152.65 574.02L153.23 573.28L153.95 572.77L154.82 572.44L155.76 572.27L156.34 571.57L156.88 570.84L157.52 570.24L158.26 569.88L159.10 569.66L159.97 569.57L160.56 569.00L161.09 568.33L161.71 567.78L162.40 567.43L163.20 567.23L164.01 567.21L164.77 567.05L165.34 566.49L166.02 566.00L166.69 565.74L167.48 565.62L168.20 565.75L168.96 565.99L169.68 566.17L170.45 565.85L171.20 565.68L172.00 565.67L172.70 565.86L173.41 566.22L174.00 566.71L174.65 567.02L176.17 567.01L177.44 567.56L178.30 568.60L179.11 569.63L180.40 570.17L181.37 571.05L182.03 572.30L183.02 573.29L183.70 573.64L184.29 574.08L184.76 574.63L185.10 575.27L185.37 576.00L185.60 576.77L186.36 577.03L187.02 577.30L187.67 577.63L188.12 578.02L188.69 578.53L189.15 579.15L189.82 579.63L190.68 579.58L191.53 579.60L192.33 579.79L193.04 580.18L193.72 580.72L194.24 581.34L195.07 581.40L196.51 581.89L197.37 582.90L197.68 584.19L198.14 585.34L198.88 586.41L199.13 587.55L198.91 588.59L198.35 589.36L197.82 590.08L197.49 591.08L196.83 591.92L195.92 592.44L194.85 592.59L193.80 592.32L192.68 592.81L191.47 593.00L190.28 592.73L189.03 592.14L187.84 592.62L186.64 593.17L185.94 593.30L185.23 593.29L184.43 593.20L183.71 593.35L183.11 593.91L182.47 594.37L181.79 594.68L181.04 594.83L180.26 594.82L179.46 594.72L178.81 595.03L178.22 595.54L177.60 595.95L176.94 596.22L176.23 596.34L175.47 596.34L174.68 596.23L174.02 596.56L173.41 597.06L172.73 597.45L172.01 597.66L171.24 597.71L170.43 597.59L169.61 597.39L168.90 597.86L168.16 598.30L167.40 598.57L166.58 598.64L165.75 598.50L164.90 598.24L164.12 598.44L163.31 598.84L162.53 599.05L161.69 599.06L160.89 598.84L160.09 598.48L159.27 598.35L158.40 598.64L157.55 598.76L156.70 598.68L155.92 598.37L155.16 597.91L154.41 597.63L153.56 597.84L152.78 597.92L152.02 597.84L151.35 597.59L150.69 597.19L150.10 596.69L149.42 596.50L147.95 596.56L146.71 596.17L145.77 595.41L145.06 594.63L144.19 594.61L143.47 594.48L142.84 594.15L142.39 593.61L142.18 592.95Z" fill="#dcae6c"/>
<path d="M144.90 591.10L144.47 590.28L144.24 589.25L144.47 588.12L145.07 587.00L144.98 585.59L145.56 584.33L146.15 583.84L146.70 583.32L146.91 582.46L147.27 581.67L147.88 581.03L148.68 580.54L149.29 579.89L149.67 578.99L150.24 578.30L151.02 577.79L151.88 577.47L152.27 576.64L152.73 575.94L153.36 575.39L154.13 575.06L154.97 574.81L155.41 574.05L155.96 573.40L156.62 572.96L157.41 572.70L158.25 572.57L158.73 571.87L159.27 571.30L159.91 570.89L160.63 570.67L161.41 570.57L162.00 570.13L162.52 569.54L163.10 569.12L163.79 568.85L165.26 568.78L166.42 567.87L167.76 567.57L169.10 567.95L170.50 567.52L171.88 567.65L173.10 568.40L174.51 568.31L175.75 568.70L176.64 569.59L177.72 570.11L178.80 570.69L179.51 571.66L180.22 572.65L181.40 573.20L182.25 574.16L182.79 575.40L184.01 576.06L184.86 577.02L185.47 578.28L186.75 578.64L187.89 579.28L188.48 579.79L189.11 580.20L189.92 580.13L190.69 580.20L191.38 580.46L192.03 580.89L193.25 581.56L194.53 582.01L195.26 582.93L195.50 584.10L196.27 584.98L196.77 585.99L196.77 587.01L196.44 587.84L196.28 588.61L196.09 589.50L195.57 590.25L194.78 590.73L193.85 590.89L193.05 591.36L192.11 591.82L191.07 591.82L190.01 591.37L188.86 591.38L187.73 591.61L186.57 591.48L185.33 591.49L184.19 592.22L182.85 592.46L181.47 592.66L180.27 593.47L178.91 593.67L177.59 593.88L176.45 594.64L175.13 594.85L173.79 595.03L172.57 595.77L171.17 595.87L170.42 595.71L169.75 596.02L169.08 596.40L168.37 596.62L167.63 596.64L166.85 596.49L166.09 596.45L165.38 596.85L164.65 597.08L163.88 597.12L163.14 596.94L162.40 596.64L161.65 596.88L160.87 597.09L160.11 597.09L159.34 596.88L158.61 596.49L157.84 596.47L157.05 596.63L156.27 596.62L155.57 596.40L154.89 596.03L153.52 595.84L152.16 595.77L150.99 595.10L149.78 594.75L148.56 594.62L147.62 594.10L146.95 593.40L146.25 593.19L145.60 593.09L145.05 592.83L144.64 592.38L144.45 591.82Z" fill="#b98350"/>
<path d="M148.11 588.22L148.13 586.90L148.46 586.21L149.00 585.60L149.74 585.05L149.97 584.11L150.47 583.29L151.24 582.67L151.95 582.02L152.34 581.07L152.94 580.39L153.76 579.90L154.35 579.21L154.80 578.37L155.52 577.74L156.44 577.32L157.00 576.50L157.61 575.71L158.44 575.23L159.33 574.83L159.81 574.02L160.44 573.39L161.15 573.06L161.95 572.85L162.82 571.80L163.80 571.22L164.84 571.09L165.68 570.58L166.58 570.15L167.62 570.16L168.75 570.35L170.00 570.04L171.24 570.33L172.44 570.73L173.73 570.80L174.74 571.44L175.55 572.19L176.60 572.71L177.26 573.61L177.68 574.71L178.70 575.31L179.47 576.15L180.09 577.23L181.25 577.74L182.11 578.61L182.91 579.60L184.13 580.07L185.08 580.98L185.65 581.48L186.40 581.54L187.22 581.71L187.93 582.12L188.62 582.72L189.49 582.79L190.31 582.89L191.06 583.23L192.16 584.14L193.31 584.53L193.85 585.30L193.85 586.12L193.46 586.77L193.16 587.48L192.69 588.24L191.88 588.70L190.84 588.63L189.58 588.69L188.85 588.82L188.13 588.76L187.38 588.48L186.64 588.25L185.89 588.52L185.19 588.62L183.85 588.43L182.70 588.78L181.64 589.30L180.41 589.41L179.36 590.04L178.25 590.63L176.90 590.66L175.76 591.44L174.43 591.83L173.68 591.80L173.04 592.14L172.42 592.57L171.73 592.84L171.00 592.88L170.23 592.79L169.55 593.09L168.84 593.43L168.11 593.53L167.33 593.43L166.56 593.18L165.79 593.53L165.01 593.69L164.21 593.62L163.44 593.33L162.66 593.34L161.88 593.55L161.10 593.56L160.38 593.35L159.66 593.00L158.91 593.21L158.16 593.35L157.42 593.28L156.69 593.01L155.98 592.74L155.21 592.95L153.79 592.85L152.64 592.14L151.41 592.18L150.42 591.80L149.65 591.07L148.80 590.61L147.97 590.03L147.64 589.11Z" fill="#8d5a30"/>
<path d="M149.20 587.80L149.19 586.54L149.53 585.92L150.10 585.41L150.64 584.78L150.90 583.91L151.49 583.25L152.36 582.80L152.67 581.89L153.20 581.13L153.98 580.69L154.54 580.04L154.94 579.25L155.61 578.71L156.52 578.36L156.92 577.45L157.56 576.81L158.47 576.46L159.04 575.76L159.62 575.04L160.38 574.68L161.17 574.36L161.58 573.69L162.13 573.18L163.37 572.86L164.16 572.06L165.01 571.57L165.96 571.56L166.82 571.25L167.78 570.90L168.86 571.14L170.03 571.07L171.25 571.09L172.33 571.73L173.60 571.65L174.59 572.21L175.35 572.94L176.35 573.40L176.92 574.29L177.48 575.19L178.38 575.78L178.96 576.72L179.84 577.41L180.79 578.05L181.37 579.15L182.54 579.54L183.42 580.36L184.43 581.04L185.71 581.51L186.32 582.08L187.09 582.23L187.92 582.29L188.65 582.66L189.24 583.24L190.06 583.26L191.36 583.70L191.94 584.57L192.58 585.12L192.89 585.88L192.70 586.64L192.14 587.15L191.51 587.55L190.87 588.21L189.90 588.42L188.71 587.98L187.31 588.36L186.59 588.20L185.90 587.82L185.18 588.02L184.52 588.20L183.24 588.01L182.16 588.38L181.13 588.80L179.91 588.77L179.01 589.62L177.86 589.91L176.68 590.26L175.54 590.84L174.17 590.88L173.03 591.72L171.60 591.72L170.34 592.43L168.92 592.42L168.21 592.41L167.51 592.77L166.79 592.86L166.04 592.68L165.29 592.50L164.54 592.82L163.79 592.88L163.05 592.65L162.33 592.40L161.58 592.68L160.87 592.74L160.18 592.54L158.78 592.43L158.06 592.55L157.36 592.40L155.98 592.10L154.61 592.14L153.51 591.43L152.33 591.52L151.41 591.10L150.75 590.32L149.74 590.13L149.03 589.50L148.89 588.62Z" fill="#66361b"/>
<path d="M153.60 586.80L153.87 585.98L154.81 585.22L155.56 585.04L156.21 584.67L156.82 584.08L157.54 583.73L158.36 583.56L158.95 583.03L159.95 582.15L161.00 581.46L161.55 580.33L162.52 579.51L163.04 578.42L163.69 577.49L164.58 576.89L164.90 575.97L165.37 575.25L166.01 574.74L166.52 574.18L167.01 573.54L167.74 573.22L168.62 573.30L169.61 573.27L170.71 573.21L171.69 573.70L172.68 574.01L173.62 574.46L174.05 575.32L174.30 576.30L174.79 577.29L174.82 578.39L175.16 579.30L175.75 579.88L176.32 580.55L177.09 581.05L178.08 581.13L179.03 581.55L180.03 581.92L181.12 582.02L182.22 582.65L182.94 582.77L183.70 582.77L184.42 582.97L185.09 583.37L186.47 583.54L187.50 583.99L187.75 584.73L187.28 584.98L186.52 585.70L185.27 586.05L184.49 585.98L183.83 586.42L183.14 586.72L182.38 586.79L181.04 587.01L179.81 587.40L178.47 587.22L177.18 587.70L175.83 587.52L174.59 587.93L173.37 588.05L172.24 588.32L171.25 588.92L170.08 589.10L169.11 589.77L168.00 590.13L166.80 590.09L165.54 590.43L164.23 590.04L162.82 590.14L161.51 589.74L160.20 589.56L159.02 589.34L157.90 588.82L156.55 588.82L155.42 588.21L154.29 587.99L153.42 587.45Z" fill="#3d170a"/>
<circle cx="189" cy="575" r="4.5" fill="#f3dba5" fill-opacity="0.7"/>
<circle cx="195" cy="583" r="3.5" fill="#f3dba5" fill-opacity="0.7"/>
<circle cx="172" cy="566" r="3.2" fill="#f3dba5" fill-opacity="0.7"/>
<circle cx="160" cy="568.5" r="3.0" fill="#f3dba5" fill-opacity="0.7"/>
<circle cx="149" cy="577" r="3.0" fill="#f3dba5" fill-opacity="0.7"/>
<circle cx="144.5" cy="589" r="2.8" fill="#f3dba5" fill-opacity="0.7"/>
<circle cx="156" cy="599" r="2.8" fill="#f3dba5" fill-opacity="0.7"/>
<circle cx="183" cy="594.5" r="2.6" fill="#f3dba5" fill-opacity="0.7"/>
<circle cx="166" cy="598.5" r="2.4" fill="#f3dba5" fill-opacity="0.7"/>
<path d="M160 585 q4 -2 7 -5 q2 -3 4 -1 M168 579 l-1 -4 M171 577 l3 -1.5 M164 588 l8 -1.5 l6 1" stroke="#240903" stroke-width="1.3" fill="none" stroke-linecap="round"/>
</g>
<path d="M106.66 639.10L106.50 640.11L106.02 641.06L105.31 641.93L104.86 642.79L105.13 643.86L105.20 644.94L104.98 645.94L104.46 646.81L103.67 647.50L102.69 647.99L101.61 648.32L101.34 649.34L100.99 650.37L100.42 651.24L99.64 651.88L98.69 652.24L97.63 652.33L96.53 652.20L95.68 652.58L94.93 653.41L94.07 654.04L93.11 654.40L92.10 654.42L91.10 654.14L90.15 653.60L89.26 653.10L88.22 653.57L87.15 653.83L86.10 653.82L85.14 653.48L84.32 652.85L83.66 651.99L83.16 650.98L82.20 650.70L81.10 650.50L80.13 650.07L79.36 649.40L78.84 648.51L78.59 647.46L78.57 646.33L78.27 645.43L77.36 644.79L76.63 644.01L76.15 643.10L75.99 642.10L76.15 641.07L76.58 640.05L77.18 639.10L76.60 638.15L76.21 637.14L76.07 636.11L76.25 635.12L76.74 634.23L77.49 633.46L78.40 632.84L78.71 631.95L78.73 630.83L78.97 629.79L79.48 628.91L80.24 628.24L81.20 627.81L82.28 627.60L83.23 627.32L83.71 626.30L84.35 625.42L85.16 624.77L86.12 624.41L87.16 624.38L88.22 624.62L89.25 625.07L90.15 624.56L91.10 624.00L92.11 623.70L93.12 623.72L94.09 624.06L94.96 624.69L95.71 625.52L96.57 625.90L97.67 625.78L98.74 625.87L99.69 626.24L100.47 626.89L101.04 627.77L101.39 628.81L101.66 629.84L102.73 630.18L103.71 630.68L104.49 631.37L105.00 632.24L105.22 633.25L105.15 634.33L104.87 635.41L105.32 636.27L106.03 637.14L106.50 638.09L106.66 639.10Z" fill="#b45859"/>
<circle cx="92.69999999999999" cy="639.9" r="6.2" fill="#8f4044"/>
<path d="M87.6 649.1h.6v.6h-.6zM100.9 637.1h.6v.6h-.6zM85.0 639.6h.6v.6h-.6zM89.4 646.0h.6v.6h-.6zM80.6 641.2h.6v.6h-.6zM87.3 635.9h.6v.6h-.6zM82.9 647.9h.6v.6h-.6zM82.2 639.2h.6v.6h-.6zM101.5 632.7h.6v.6h-.6zM92.2 649.9h.6v.6h-.6z" fill="#9c4a4c" fill-opacity="0.5"/>
<path d="M106.64 677.30L106.48 678.31L106.08 679.27L105.47 680.16L104.72 680.95L104.55 681.87L104.64 682.91L104.56 683.94L104.26 684.90L103.75 685.75L103.04 686.46L102.17 687.01L101.20 687.40L100.18 687.65L99.75 688.58L99.27 689.53L98.65 690.37L97.88 691.04L96.98 691.50L96.00 691.73L94.97 691.74L93.94 691.56L92.96 691.45L92.07 692.12L91.10 692.65L90.07 692.97L89.03 693.05L88.01 692.85L87.05 692.40L86.20 691.74L85.46 690.93L84.61 690.47L83.52 690.43L82.48 690.21L81.53 689.78L80.72 689.14L80.10 688.30L79.67 687.32L79.45 686.24L79.38 685.13L78.75 684.43L77.95 683.79L77.27 683.03L76.78 682.16L76.51 681.21L76.49 680.21L76.68 679.20L77.05 678.22L77.55 677.30L77.04 676.38L76.65 675.40L76.44 674.38L76.46 673.38L76.72 672.42L77.21 671.55L77.89 670.78L78.70 670.14L79.34 669.44L79.42 668.34L79.66 667.27L80.10 666.30L80.74 665.49L81.56 664.87L82.52 664.47L83.58 664.27L84.67 664.25L85.52 663.82L86.25 663.02L87.10 662.38L88.04 661.94L89.05 661.74L90.08 661.81L91.10 662.12L92.06 662.63L92.95 663.28L93.92 663.13L94.95 662.92L95.99 662.89L96.99 663.07L97.91 663.49L98.70 664.13L99.36 664.94L99.87 665.87L100.32 666.78L101.37 667.03L102.37 667.41L103.27 667.96L103.99 668.69L104.51 669.56L104.80 670.54L104.87 671.60L104.76 672.66L104.90 673.60L105.61 674.41L106.17 675.32L106.53 676.29L106.64 677.30Z" fill="#47a1ba"/>
<circle cx="92.69999999999999" cy="678.0999999999999" r="6.2" fill="#307d97"/>
<path d="M99.0 682.1h.6v.6h-.6zM101.5 669.4h.6v.6h-.6zM100.9 673.0h.6v.6h-.6zM80.4 672.9h.6v.6h-.6zM96.3 678.9h.6v.6h-.6zM85.9 667.3h.6v.6h-.6zM85.2 671.4h.6v.6h-.6zM78.5 675.5h.6v.6h-.6zM81.4 677.2h.6v.6h-.6zM94.9 674.3h.6v.6h-.6z" fill="#3a8aa4" fill-opacity="0.5"/>
<g transform="translate(-15.72 348.51) scale(0.62)">
<path d="M139.90 588.90L139.34 587.69L138.88 586.25L138.74 585.51L138.71 584.67L138.78 583.93L139.01 583.07L139.34 582.40L139.84 581.61L140.40 581.07L141.09 580.45L141.85 580.03L142.64 579.62L142.98 578.88L143.09 577.92L143.27 577.01L143.56 576.09L143.92 575.30L144.42 574.55L144.99 573.96L145.68 573.43L146.41 573.04L147.23 572.70L148.06 572.46L148.94 572.25L149.71 571.99L149.98 571.13L150.28 570.33L150.64 569.53L151.04 568.84L151.53 568.19L152.05 567.67L152.67 567.20L153.32 566.86L154.05 566.58L154.81 566.41L155.64 566.28L156.49 566.24L157.36 566.22L157.95 565.79L158.37 565.01L158.81 564.31L159.32 563.63L160.45 562.58L161.74 561.92L163.08 561.67L164.40 561.77L165.64 562.12L166.83 562.62L167.86 562.02L168.92 561.32L170.05 560.77L171.23 560.45L172.42 560.42L173.58 560.67L174.67 561.16L175.66 561.83L176.55 562.61L177.54 562.80L178.69 562.53L179.83 562.42L180.95 562.51L182.06 562.85L183.04 563.46L183.76 564.23L184.26 565.10L184.62 566.04L184.95 567.06L185.42 568.07L186.55 568.02L187.68 567.94L188.84 567.96L190.00 568.20L191.13 568.73L192.09 569.54L192.81 570.59L193.37 571.85L193.79 573.23L195.17 573.59L196.51 574.03L197.64 574.61L198.55 575.34L199.26 576.25L199.77 577.30L200.06 578.47L200.14 579.72L200.04 580.98L201.10 581.83L202.20 582.83L203.07 584.02L203.59 585.36L203.68 586.78L203.37 588.16L202.68 589.21L201.80 589.89L200.83 590.30L200.35 591.08L200.15 592.01L199.98 592.79L199.80 593.48L199.53 594.13L199.13 594.77L198.57 595.36L197.86 595.85L197.01 596.19L195.99 596.36L194.79 596.29L193.48 596.01L192.21 595.74L191.16 596.65L190.02 597.35L188.84 597.74L187.75 597.84L186.81 597.72L186.02 597.45L185.29 597.07L184.45 596.62L183.41 596.17L182.29 595.96L181.44 596.87L180.52 597.74L179.50 598.47L178.35 598.95L177.15 599.13L175.91 599.01L174.64 598.64L173.36 598.13L172.23 598.24L171.41 599.11L170.69 599.88L169.99 600.55L169.24 601.09L168.42 601.50L167.53 601.78L166.68 601.89L165.92 601.88L165.17 601.89L164.44 601.89L163.72 601.83L163.15 602.21L162.48 602.80L161.62 603.35L160.64 603.80L159.59 604.08L158.56 604.15L157.59 604.02L156.71 603.74L155.96 603.37L155.39 602.96L154.96 602.54L154.58 602.08L154.16 601.56L153.58 601.07L152.65 601.38L151.60 601.70L150.47 601.92L149.31 601.94L148.16 601.70L147.15 601.22L146.35 600.56L145.71 599.77L145.20 598.88L144.81 597.96L144.30 597.25L143.35 597.06L142.43 596.79L141.57 596.41L140.80 595.91L140.13 595.31L139.60 594.60L139.26 593.91L139.05 593.22L138.88 592.43L138.83 591.58L138.95 590.69L139.29 589.80Z" fill="#d29b30"/>
<path d="M141.46 588.45L140.94 587.33L140.52 585.99L140.39 584.52L140.71 583.05L141.54 581.72L142.76 580.68L143.48 580.30L144.16 579.89L144.23 579.02L144.36 578.12L144.57 577.29L144.89 576.46L145.29 575.77L145.83 575.12L146.43 574.63L147.14 574.21L147.88 573.90L148.70 573.64L149.51 573.46L150.24 573.19L150.49 572.39L150.78 571.60L151.10 570.89L151.52 570.21L152.50 569.13L153.74 568.43L155.18 568.08L156.77 567.97L157.87 567.07L158.73 565.70L159.77 564.63L161.00 563.95L162.34 563.67L163.66 563.75L164.90 564.07L165.98 563.98L166.95 563.22L167.95 562.61L168.99 562.20L170.10 562.03L171.22 562.14L172.31 562.52L173.36 563.09L174.32 563.80L175.36 563.64L176.44 563.29L177.52 563.10L178.57 563.12L179.56 563.36L180.46 563.82L181.29 564.51L181.93 565.37L182.34 566.32L182.64 567.31L183.55 567.61L184.51 567.76L185.38 567.87L186.23 568.04L187.10 568.34L187.98 568.85L188.83 569.58L189.58 570.51L190.16 571.59L191.13 572.12L192.44 572.35L193.68 572.77L194.73 573.42L195.55 574.28L196.11 575.30L196.47 576.40L196.70 577.55L197.18 578.44L198.25 578.95L199.24 579.61L200.06 580.44L200.67 581.45L201.00 582.67L201.01 584.01L200.73 585.34L200.25 586.50L200.82 587.56L200.99 588.71L200.83 589.82L200.43 590.77L199.92 591.50L199.39 592.01L198.86 592.37L198.31 592.72L197.75 593.04L197.15 593.32L196.50 593.49L195.80 593.54L195.08 593.68L194.43 594.50L193.59 595.34L192.58 596.04L191.45 596.50L190.27 596.63L189.07 596.48L188.02 596.06L187.14 595.46L186.33 594.89L185.39 595.29L184.57 595.69L183.83 596.08L183.04 596.43L182.16 596.66L181.15 596.74L180.03 596.65L178.84 596.39L177.65 596.00L176.67 596.83L175.61 597.59L174.55 598.14L173.50 598.43L172.49 598.48L171.51 598.36L170.49 598.18L169.42 598.02L168.61 598.40L168.06 599.26L167.48 600.03L166.92 600.63L166.44 601.05L165.93 601.41L165.34 601.73L164.63 601.98L163.83 602.09L162.97 602.02L162.08 601.73L161.17 601.25L160.24 601.00L159.27 601.51L158.34 601.90L157.46 602.12L156.67 602.17L156.00 602.09L155.48 601.94L155.04 601.76L154.62 601.51L154.12 601.15L153.44 600.64L152.66 599.97L151.84 599.19L150.75 599.40L149.61 599.62L148.51 599.62L147.55 599.42L146.69 599.04L145.95 598.49L145.36 597.82L144.90 597.06L144.55 596.25L144.30 595.40L144.10 594.57L143.27 594.29L142.48 593.92L141.76 593.46L141.17 592.97L140.70 592.47L140.28 591.85L139.96 591.09L139.80 590.21L139.88 589.26Z" fill="#efd08f"/>
<path d="M142.81 592.13L142.30 591.22L141.97 590.06L142.12 588.76L142.85 587.50L143.09 586.84L142.99 586.01L143.06 585.25L143.31 584.45L143.80 583.80L144.46 583.21L145.33 582.72L145.53 581.72L145.89 580.77L146.47 579.96L147.31 579.37L148.30 578.91L148.76 577.99L149.20 577.03L149.80 576.32L150.61 575.78L151.52 575.45L152.20 574.87L152.65 574.02L153.23 573.28L153.95 572.77L154.82 572.44L155.76 572.27L156.34 571.57L156.88 570.84L157.52 570.24L158.26 569.88L159.10 569.66L159.97 569.57L160.56 569.00L161.09 568.33L161.71 567.78L162.40 567.43L163.20 567.23L164.01 567.21L164.77 567.05L165.34 566.49L166.02 566.00L166.69 565.74L167.48 565.62L168.20 565.75L168.96 565.99L169.68 566.17L170.45 565.85L171.20 565.68L172.00 565.67L172.70 565.86L173.41 566.22L174.00 566.71L174.65 567.02L176.17 567.01L177.44 567.56L178.30 568.60L179.11 569.63L180.40 570.17L181.37 571.05L182.03 572.30L183.02 573.29L183.70 573.64L184.29 574.08L184.76 574.63L185.10 575.27L185.37 576.00L185.60 576.77L186.36 577.03L187.02 577.30L187.67 577.63L188.12 578.02L188.69 578.53L189.15 579.15L189.82 579.63L190.68 579.58L191.53 579.60L192.33 579.79L193.04 580.18L193.72 580.72L194.24 581.34L195.07 581.40L196.51 581.89L197.37 582.90L197.68 584.19L198.14 585.34L198.88 586.41L199.13 587.55L198.91 588.59L198.35 589.36L197.82 590.08L197.49 591.08L196.83 591.92L195.92 592.44L194.85 592.59L193.80 592.32L192.68 592.81L191.47 593.00L190.28 592.73L189.03 592.14L187.84 592.62L186.64 593.17L185.94 593.30L185.23 593.29L184.43 593.20L183.71 593.35L183.11 593.91L182.47 594.37L181.79 594.68L181.04 594.83L180.26 594.82L179.46 594.72L178.81 595.03L178.22 595.54L177.60 595.95L176.94 596.22L176.23 596.34L175.47 596.34L174.68 596.23L174.02 596.56L173.41 597.06L172.73 597.45L172.01 597.66L171.24 597.71L170.43 597.59L169.61 597.39L168.90 597.86L168.16 598.30L167.40 598.57L166.58 598.64L165.75 598.50L164.90 598.24L164.12 598.44L163.31 598.84L162.53 599.05L161.69 599.06L160.89 598.84L160.09 598.48L159.27 598.35L158.40 598.64L157.55 598.76L156.70 598.68L155.92 598.37L155.16 597.91L154.41 597.63L153.56 597.84L152.78 597.92L152.02 597.84L151.35 597.59L150.69 597.19L150.10 596.69L149.42 596.50L147.95 596.56L146.71 596.17L145.77 595.41L145.06 594.63L144.19 594.61L143.47 594.48L142.84 594.15L142.39 593.61L142.18 592.95Z" fill="#dcae6c"/>
<path d="M144.90 591.10L144.47 590.28L144.24 589.25L144.47 588.12L145.07 587.00L144.98 585.59L145.56 584.33L146.15 583.84L146.70 583.32L146.91 582.46L147.27 581.67L147.88 581.03L148.68 580.54L149.29 579.89L149.67 578.99L150.24 578.30L151.02 577.79L151.88 577.47L152.27 576.64L152.73 575.94L153.36 575.39L154.13 575.06L154.97 574.81L155.41 574.05L155.96 573.40L156.62 572.96L157.41 572.70L158.25 572.57L158.73 571.87L159.27 571.30L159.91 570.89L160.63 570.67L161.41 570.57L162.00 570.13L162.52 569.54L163.10 569.12L163.79 568.85L165.26 568.78L166.42 567.87L167.76 567.57L169.10 567.95L170.50 567.52L171.88 567.65L173.10 568.40L174.51 568.31L175.75 568.70L176.64 569.59L177.72 570.11L178.80 570.69L179.51 571.66L180.22 572.65L181.40 573.20L182.25 574.16L182.79 575.40L184.01 576.06L184.86 577.02L185.47 578.28L186.75 578.64L187.89 579.28L188.48 579.79L189.11 580.20L189.92 580.13L190.69 580.20L191.38 580.46L192.03 580.89L193.25 581.56L194.53 582.01L195.26 582.93L195.50 584.10L196.27 584.98L196.77 585.99L196.77 587.01L196.44 587.84L196.28 588.61L196.09 589.50L195.57 590.25L194.78 590.73L193.85 590.89L193.05 591.36L192.11 591.82L191.07 591.82L190.01 591.37L188.86 591.38L187.73 591.61L186.57 591.48L185.33 591.49L184.19 592.22L182.85 592.46L181.47 592.66L180.27 593.47L178.91 593.67L177.59 593.88L176.45 594.64L175.13 594.85L173.79 595.03L172.57 595.77L171.17 595.87L170.42 595.71L169.75 596.02L169.08 596.40L168.37 596.62L167.63 596.64L166.85 596.49L166.09 596.45L165.38 596.85L164.65 597.08L163.88 597.12L163.14 596.94L162.40 596.64L161.65 596.88L160.87 597.09L160.11 597.09L159.34 596.88L158.61 596.49L157.84 596.47L157.05 596.63L156.27 596.62L155.57 596.40L154.89 596.03L153.52 595.84L152.16 595.77L150.99 595.10L149.78 594.75L148.56 594.62L147.62 594.10L146.95 593.40L146.25 593.19L145.60 593.09L145.05 592.83L144.64 592.38L144.45 591.82Z" fill="#b98350"/>
<path d="M148.11 588.22L148.13 586.90L148.46 586.21L149.00 585.60L149.74 585.05L149.97 584.11L150.47 583.29L151.24 582.67L151.95 582.02L152.34 581.07L152.94 580.39L153.76 579.90L154.35 579.21L154.80 578.37L155.52 577.74L156.44 577.32L157.00 576.50L157.61 575.71L158.44 575.23L159.33 574.83L159.81 574.02L160.44 573.39L161.15 573.06L161.95 572.85L162.82 571.80L163.80 571.22L164.84 571.09L165.68 570.58L166.58 570.15L167.62 570.16L168.75 570.35L170.00 570.04L171.24 570.33L172.44 570.73L173.73 570.80L174.74 571.44L175.55 572.19L176.60 572.71L177.26 573.61L177.68 574.71L178.70 575.31L179.47 576.15L180.09 577.23L181.25 577.74L182.11 578.61L182.91 579.60L184.13 580.07L185.08 580.98L185.65 581.48L186.40 581.54L187.22 581.71L187.93 582.12L188.62 582.72L189.49 582.79L190.31 582.89L191.06 583.23L192.16 584.14L193.31 584.53L193.85 585.30L193.85 586.12L193.46 586.77L193.16 587.48L192.69 588.24L191.88 588.70L190.84 588.63L189.58 588.69L188.85 588.82L188.13 588.76L187.38 588.48L186.64 588.25L185.89 588.52L185.19 588.62L183.85 588.43L182.70 588.78L181.64 589.30L180.41 589.41L179.36 590.04L178.25 590.63L176.90 590.66L175.76 591.44L174.43 591.83L173.68 591.80L173.04 592.14L172.42 592.57L171.73 592.84L171.00 592.88L170.23 592.79L169.55 593.09L168.84 593.43L168.11 593.53L167.33 593.43L166.56 593.18L165.79 593.53L165.01 593.69L164.21 593.62L163.44 593.33L162.66 593.34L161.88 593.55L161.10 593.56L160.38 593.35L159.66 593.00L158.91 593.21L158.16 593.35L157.42 593.28L156.69 593.01L155.98 592.74L155.21 592.95L153.79 592.85L152.64 592.14L151.41 592.18L150.42 591.80L149.65 591.07L148.80 590.61L147.97 590.03L147.64 589.11Z" fill="#8d5a30"/>
<path d="M149.20 587.80L149.19 586.54L149.53 585.92L150.10 585.41L150.64 584.78L150.90 583.91L151.49 583.25L152.36 582.80L152.67 581.89L153.20 581.13L153.98 580.69L154.54 580.04L154.94 579.25L155.61 578.71L156.52 578.36L156.92 577.45L157.56 576.81L158.47 576.46L159.04 575.76L159.62 575.04L160.38 574.68L161.17 574.36L161.58 573.69L162.13 573.18L163.37 572.86L164.16 572.06L165.01 571.57L165.96 571.56L166.82 571.25L167.78 570.90L168.86 571.14L170.03 571.07L171.25 571.09L172.33 571.73L173.60 571.65L174.59 572.21L175.35 572.94L176.35 573.40L176.92 574.29L177.48 575.19L178.38 575.78L178.96 576.72L179.84 577.41L180.79 578.05L181.37 579.15L182.54 579.54L183.42 580.36L184.43 581.04L185.71 581.51L186.32 582.08L187.09 582.23L187.92 582.29L188.65 582.66L189.24 583.24L190.06 583.26L191.36 583.70L191.94 584.57L192.58 585.12L192.89 585.88L192.70 586.64L192.14 587.15L191.51 587.55L190.87 588.21L189.90 588.42L188.71 587.98L187.31 588.36L186.59 588.20L185.90 587.82L185.18 588.02L184.52 588.20L183.24 588.01L182.16 588.38L181.13 588.80L179.91 588.77L179.01 589.62L177.86 589.91L176.68 590.26L175.54 590.84L174.17 590.88L173.03 591.72L171.60 591.72L170.34 592.43L168.92 592.42L168.21 592.41L167.51 592.77L166.79 592.86L166.04 592.68L165.29 592.50L164.54 592.82L163.79 592.88L163.05 592.65L162.33 592.40L161.58 592.68L160.87 592.74L160.18 592.54L158.78 592.43L158.06 592.55L157.36 592.40L155.98 592.10L154.61 592.14L153.51 591.43L152.33 591.52L151.41 591.10L150.75 590.32L149.74 590.13L149.03 589.50L148.89 588.62Z" fill="#66361b"/>
<path d="M153.60 586.80L153.87 585.98L154.81 585.22L155.56 585.04L156.21 584.67L156.82 584.08L157.54 583.73L158.36 583.56L158.95 583.03L159.95 582.15L161.00 581.46L161.55 580.33L162.52 579.51L163.04 578.42L163.69 577.49L164.58 576.89L164.90 575.97L165.37 575.25L166.01 574.74L166.52 574.18L167.01 573.54L167.74 573.22L168.62 573.30L169.61 573.27L170.71 573.21L171.69 573.70L172.68 574.01L173.62 574.46L174.05 575.32L174.30 576.30L174.79 577.29L174.82 578.39L175.16 579.30L175.75 579.88L176.32 580.55L177.09 581.05L178.08 581.13L179.03 581.55L180.03 581.92L181.12 582.02L182.22 582.65L182.94 582.77L183.70 582.77L184.42 582.97L185.09 583.37L186.47 583.54L187.50 583.99L187.75 584.73L187.28 584.98L186.52 585.70L185.27 586.05L184.49 585.98L183.83 586.42L183.14 586.72L182.38 586.79L181.04 587.01L179.81 587.40L178.47 587.22L177.18 587.70L175.83 587.52L174.59 587.93L173.37 588.05L172.24 588.32L171.25 588.92L170.08 589.10L169.11 589.77L168.00 590.13L166.80 590.09L165.54 590.43L164.23 590.04L162.82 590.14L161.51 589.74L160.20 589.56L159.02 589.34L157.90 588.82L156.55 588.82L155.42 588.21L154.29 587.99L153.42 587.45Z" fill="#3d170a"/>
<circle cx="189" cy="575" r="4.5" fill="#f3dba5" fill-opacity="0.7"/>
<circle cx="195" cy="583" r="3.5" fill="#f3dba5" fill-opacity="0.7"/>
<circle cx="172" cy="566" r="3.2" fill="#f3dba5" fill-opacity="0.7"/>
<circle cx="160" cy="568.5" r="3.0" fill="#f3dba5" fill-opacity="0.7"/>
<circle cx="149" cy="577" r="3.0" fill="#f3dba5" fill-opacity="0.7"/>
<circle cx="144.5" cy="589" r="2.8" fill="#f3dba5" fill-opacity="0.7"/>
<circle cx="156" cy="599" r="2.8" fill="#f3dba5" fill-opacity="0.7"/>
<circle cx="183" cy="594.5" r="2.6" fill="#f3dba5" fill-opacity="0.7"/>
<circle cx="166" cy="598.5" r="2.4" fill="#f3dba5" fill-opacity="0.7"/>
<path d="M160 585 q4 -2 7 -5 q2 -3 4 -1 M168 579 l-1 -4 M171 577 l3 -1.5 M164 588 l8 -1.5 l6 1" stroke="#240903" stroke-width="1.3" fill="none" stroke-linecap="round"/>
</g>
<text x="111.10" y="636.90" font-size="6.15" textLength="65.7" lengthAdjust="spacingAndGlyphs" fill="#1e1e1e">Nutrient and oxygen rich</text>
<text x="111.30" y="643.40" font-size="6.15" textLength="28.0" lengthAdjust="spacingAndGlyphs" fill="#1e1e1e">conditions</text>
<line x1="112.7" x2="128.4" y1="650.8" y2="650.8" stroke="#333" stroke-width="0.75"/>
<path d="M130.6 650.8 l-3 -1.5 v3z" fill="#333"/>
<text x="133.10" y="652.00" font-size="6.15" textLength="36.2" lengthAdjust="spacingAndGlyphs" fill="#1e1e1e">ROS level low</text>
<text x="133.30" y="658.70" font-size="6.15" textLength="50.6" lengthAdjust="spacingAndGlyphs" fill="#1e1e1e">mTORC1 activated</text>
<line x1="193.0" x2="208.60000000000002" y1="650.4" y2="650.4" stroke="#333" stroke-width="0.75"/>
<path d="M210.8 650.4 l-3 -1.5 v3z" fill="#333"/>
<text x="214.60" y="652.40" font-size="6.15" textLength="19.7" lengthAdjust="spacingAndGlyphs" fill="#1e1e1e">p-SOD1</text>
<text x="214.60" y="658.80" font-size="6.15" textLength="29.5" lengthAdjust="spacingAndGlyphs" fill="#1e1e1e">cell growth</text>
<text x="112.90" y="674.60" font-size="6.15" textLength="57.0" lengthAdjust="spacingAndGlyphs" fill="#1e1e1e">Starvation conditions</text>
<line x1="114.4" x2="128.8" y1="681.9" y2="681.9" stroke="#333" stroke-width="0.75"/>
<path d="M131.0 681.9 l-3 -1.5 v3z" fill="#333"/>
<text x="134.90" y="683.70" font-size="6.15" textLength="49.6" lengthAdjust="spacingAndGlyphs" fill="#1e1e1e">ROS level elevated</text>
<text x="134.90" y="690.40" font-size="6.15" textLength="49.0" lengthAdjust="spacingAndGlyphs" fill="#1e1e1e">mTORC1 inhibited</text>
<line x1="193.0" x2="208.60000000000002" y1="681.4" y2="681.4" stroke="#333" stroke-width="0.75"/>
<path d="M210.8 681.4 l-3 -1.5 v3z" fill="#333"/>
<text x="214.80" y="684.10" font-size="6.15" textLength="14.7" lengthAdjust="spacingAndGlyphs" fill="#1e1e1e">SOD1</text>
<text x="214.80" y="690.50" font-size="6.15" textLength="31.3" lengthAdjust="spacingAndGlyphs" fill="#1e1e1e">cell survival</text>
<text x="112.90" y="710.40" font-size="6.15" textLength="41.2" lengthAdjust="spacingAndGlyphs" fill="#1e1e1e">Necrotic region</text>
<text x="436.40" y="471.80" font-size="8.9" font-weight="bold" textLength="11.4" lengthAdjust="spacingAndGlyphs" fill="#000">Ctr</text>
<text x="508.90" y="471.90" font-size="8.9" font-weight="bold" textLength="64.7" lengthAdjust="spacingAndGlyphs" fill="#000">Glioma cell lines</text>
<text x="655.60" y="466.40" font-size="8.9" text-anchor="middle" font-weight="bold" textLength="30.0" lengthAdjust="spacingAndGlyphs" fill="#000">Primary</text>
<text x="656.10" y="476.60" font-size="8.9" text-anchor="middle" font-weight="bold" textLength="46.4" lengthAdjust="spacingAndGlyphs" fill="#000">glioma cells</text>
<rect x="431.2" y="481.7" width="20.5" height="1.2" fill="#2a2a2a"/>
<rect x="453.7" y="481.7" width="175.1" height="1.2" fill="#2a2a2a"/>
<rect x="631.2" y="481.7" width="50.3" height="1.2" fill="#2a2a2a"/>
<text font-size="7.0" fill="#333" textLength="55.1" lengthAdjust="spacingAndGlyphs" transform="translate(441.80,540.7) rotate(-90)">Human Astrocyte</text>
<text font-size="7.0" fill="#333" textLength="15.7" lengthAdjust="spacingAndGlyphs" transform="translate(460.40,540.7) rotate(-90)">A172</text>
<text font-size="7.0" fill="#333" textLength="12.2" lengthAdjust="spacingAndGlyphs" transform="translate(479.70,540.7) rotate(-90)">G55</text>
<text font-size="7.0" fill="#333" textLength="29.0" lengthAdjust="spacingAndGlyphs" transform="translate(499.80,540.7) rotate(-90)">U 118 MG</text>
<text font-size="7.0" fill="#333" textLength="18.4" lengthAdjust="spacingAndGlyphs" transform="translate(519.20,540.7) rotate(-90)">LN-18</text>
<text font-size="7.0" fill="#333" textLength="20.8" lengthAdjust="spacingAndGlyphs" transform="translate(539.10,540.7) rotate(-90)">LN-229</text>
<text font-size="7.0" fill="#333" textLength="15.3" lengthAdjust="spacingAndGlyphs" transform="translate(558.10,540.7) rotate(-90)">T98G</text>
<text font-size="7.0" fill="#333" textLength="20.8" lengthAdjust="spacingAndGlyphs" transform="translate(578.30,540.7) rotate(-90)">LN-308</text>
<text font-size="7.0" fill="#333" textLength="21.2" lengthAdjust="spacingAndGlyphs" transform="translate(598.30,540.7) rotate(-90)">LN-428</text>
<text font-size="7.0" fill="#333" textLength="20.8" lengthAdjust="spacingAndGlyphs" transform="translate(617.60,540.7) rotate(-90)">LN-464</text>
<text font-size="7.0" fill="#333" textLength="30.6" lengthAdjust="spacingAndGlyphs" transform="translate(637.00,540.7) rotate(-90)">NCH 421K</text>
<text font-size="7.0" fill="#333" textLength="26.1" lengthAdjust="spacingAndGlyphs" transform="translate(657.10,540.7) rotate(-90)">NCH 644</text>
<text font-size="7.0" fill="#333" textLength="26.1" lengthAdjust="spacingAndGlyphs" transform="translate(675.90,540.7) rotate(-90)">NCH 690</text>
<text x="398.00" y="561.90" font-size="7.9" textLength="19.5" lengthAdjust="spacingAndGlyphs" fill="#1a1a1a">SOD1</text>
<text x="398.00" y="592.50" font-size="7.9" textLength="19.7" lengthAdjust="spacingAndGlyphs" fill="#1a1a1a">SOD2</text>
<text x="398.00" y="622.60" font-size="7.9" textLength="18.2" lengthAdjust="spacingAndGlyphs" fill="#1a1a1a">Actin</text>
<rect x="430.6" y="546.2" width="252.6" height="24.80" fill="#ececee"/>
<rect x="430.6" y="576.6" width="252.6" height="24.90" fill="#f1f1f3"/>
<rect x="430.6" y="607.0" width="252.6" height="24.80" fill="#f0f0f2"/>
<ellipse cx="456.80" cy="562.30" rx="7.50" ry="2.60" fill="#363636" filter="url(#bl2)"/>
<ellipse cx="456.80" cy="562.30" rx="5.70" ry="1.77" fill="#060606" filter="url(#bl1)"/>
<ellipse cx="474.40" cy="562.00" rx="6.60" ry="1.82" fill="#959595" filter="url(#bl2)"/>
<ellipse cx="474.40" cy="562.00" rx="5.02" ry="1.24" fill="#727272" filter="url(#bl1)"/>
<ellipse cx="494.50" cy="560.60" rx="8.40" ry="2.34" fill="#666666" filter="url(#bl2)"/>
<ellipse cx="494.50" cy="560.60" rx="6.38" ry="1.59" fill="#313131" filter="url(#bl1)"/>
<ellipse cx="515.30" cy="560.60" rx="7.50" ry="1.95" fill="#8b8b8b" filter="url(#bl2)"/>
<ellipse cx="515.30" cy="560.60" rx="5.70" ry="1.33" fill="#656565" filter="url(#bl1)"/>
<ellipse cx="535.30" cy="560.40" rx="7.50" ry="1.95" fill="#9a9a9a" filter="url(#bl2)"/>
<ellipse cx="535.30" cy="560.40" rx="5.70" ry="1.33" fill="#7a7a7a" filter="url(#bl1)"/>
<ellipse cx="555.00" cy="559.90" rx="8.70" ry="3.12" fill="#363636" filter="url(#bl2)"/>
<ellipse cx="555.00" cy="559.90" rx="6.61" ry="2.12" fill="#060606" filter="url(#bl1)"/>
<ellipse cx="575.10" cy="559.90" rx="8.70" ry="2.47" fill="#626262" filter="url(#bl2)"/>
<ellipse cx="575.10" cy="559.90" rx="6.61" ry="1.68" fill="#2c2c2c" filter="url(#bl1)"/>
<ellipse cx="594.50" cy="560.60" rx="7.80" ry="2.73" fill="#363636" filter="url(#bl2)"/>
<ellipse cx="594.50" cy="560.60" rx="5.93" ry="1.86" fill="#060606" filter="url(#bl1)"/>
<ellipse cx="615.60" cy="560.30" rx="7.80" ry="1.95" fill="#adadad" filter="url(#bl2)"/>
<ellipse cx="615.60" cy="560.30" rx="5.93" ry="1.33" fill="#949494" filter="url(#bl1)"/>
<ellipse cx="635.20" cy="561.00" rx="7.50" ry="2.73" fill="#363636" filter="url(#bl2)"/>
<ellipse cx="635.20" cy="561.00" rx="5.70" ry="1.86" fill="#060606" filter="url(#bl1)"/>
<ellipse cx="654.80" cy="560.50" rx="7.68" ry="3.25" fill="#363636" filter="url(#bl2)"/>
<ellipse cx="654.80" cy="560.50" rx="5.84" ry="2.21" fill="#060606" filter="url(#bl1)"/>
<ellipse cx="673.40" cy="558.40" rx="8.10" ry="3.12" fill="#363636" filter="url(#bl2)"/>
<ellipse cx="673.40" cy="558.40" rx="6.16" ry="2.12" fill="#060606" filter="url(#bl1)"/>
<ellipse cx="440.00" cy="556.00" rx="7.20" ry="3.90" fill="#e2e2e2" filter="url(#bl2)"/>
<ellipse cx="440.00" cy="556.00" rx="5.47" ry="2.65" fill="#dddddd" filter="url(#bl1)"/>
<ellipse cx="457.50" cy="591.50" rx="6.60" ry="1.62" fill="#e0e0e0" filter="url(#bl2)"/>
<ellipse cx="457.50" cy="591.50" rx="5.02" ry="1.10" fill="#dadada" filter="url(#bl1)"/>
<ellipse cx="477.00" cy="591.50" rx="6.60" ry="1.62" fill="#e3e3e3" filter="url(#bl2)"/>
<ellipse cx="477.00" cy="591.50" rx="5.02" ry="1.10" fill="#dfdfdf" filter="url(#bl1)"/>
<ellipse cx="499.00" cy="592.20" rx="7.80" ry="3.38" fill="#363636" filter="url(#bl2)"/>
<ellipse cx="499.00" cy="592.20" rx="5.93" ry="2.30" fill="#060606" filter="url(#bl1)"/>
<ellipse cx="518.00" cy="591.50" rx="6.60" ry="1.62" fill="#e0e0e0" filter="url(#bl2)"/>
<ellipse cx="518.00" cy="591.50" rx="5.02" ry="1.10" fill="#dadada" filter="url(#bl1)"/>
<ellipse cx="537.00" cy="591.50" rx="6.60" ry="1.62" fill="#e2e2e2" filter="url(#bl2)"/>
<ellipse cx="537.00" cy="591.50" rx="5.02" ry="1.10" fill="#dddddd" filter="url(#bl1)"/>
<ellipse cx="556.00" cy="591.30" rx="7.20" ry="1.62" fill="#dcdcdc" filter="url(#bl2)"/>
<ellipse cx="556.00" cy="591.30" rx="5.47" ry="1.10" fill="#d5d5d5" filter="url(#bl1)"/>
<ellipse cx="576.00" cy="591.20" rx="7.80" ry="1.95" fill="#c0c0c0" filter="url(#bl2)"/>
<ellipse cx="576.00" cy="591.20" rx="5.93" ry="1.33" fill="#aeaeae" filter="url(#bl1)"/>
<ellipse cx="595.90" cy="591.30" rx="8.10" ry="3.38" fill="#363636" filter="url(#bl2)"/>
<ellipse cx="595.90" cy="591.30" rx="6.16" ry="2.30" fill="#060606" filter="url(#bl1)"/>
<ellipse cx="615.50" cy="591.20" rx="7.80" ry="1.69" fill="#c7c7c7" filter="url(#bl2)"/>
<ellipse cx="615.50" cy="591.20" rx="5.93" ry="1.15" fill="#b8b8b8" filter="url(#bl1)"/>
<ellipse cx="635.00" cy="591.30" rx="7.50" ry="1.82" fill="#a2a2a2" filter="url(#bl2)"/>
<ellipse cx="635.00" cy="591.30" rx="5.70" ry="1.24" fill="#848484" filter="url(#bl1)"/>
<ellipse cx="653.70" cy="590.70" rx="7.20" ry="2.08" fill="#535353" filter="url(#bl2)"/>
<ellipse cx="653.70" cy="590.70" rx="5.47" ry="1.41" fill="#171717" filter="url(#bl1)"/>
<ellipse cx="672.40" cy="588.80" rx="8.10" ry="2.34" fill="#414141" filter="url(#bl2)"/>
<ellipse cx="672.40" cy="588.80" rx="6.16" ry="1.59" fill="#060606" filter="url(#bl1)"/>
<path d="M433 581 Q440 583 449 586 L450 593 Q442 595 434 591 Z" fill="#b8b8b8" filter="url(#bl2)"/>
<path d="M436 583 Q443 585 449 587 L449 590 Q442 590 437 587 Z" fill="#a0a0a0" filter="url(#bl1)"/>
<ellipse cx="459.40" cy="622.60" rx="6.54" ry="1.28" fill="#6a6a6a" filter="url(#bl2)"/>
<ellipse cx="459.40" cy="622.60" rx="4.97" ry="0.87" fill="#363636" filter="url(#bl1)"/>
<ellipse cx="477.70" cy="622.80" rx="6.54" ry="1.17" fill="#8b8b8b" filter="url(#bl2)"/>
<ellipse cx="477.70" cy="622.80" rx="4.97" ry="0.80" fill="#656565" filter="url(#bl1)"/>
<ellipse cx="496.30" cy="623.00" rx="7.68" ry="1.49" fill="#626262" filter="url(#bl2)"/>
<ellipse cx="496.30" cy="623.00" rx="5.84" ry="1.02" fill="#2c2c2c" filter="url(#bl1)"/>
<ellipse cx="515.20" cy="622.70" rx="6.84" ry="1.17" fill="#7e7e7e" filter="url(#bl2)"/>
<ellipse cx="515.20" cy="622.70" rx="5.20" ry="0.80" fill="#535353" filter="url(#bl1)"/>
<ellipse cx="534.60" cy="622.80" rx="7.14" ry="1.17" fill="#8b8b8b" filter="url(#bl2)"/>
<ellipse cx="534.60" cy="622.80" rx="5.43" ry="0.80" fill="#656565" filter="url(#bl1)"/>
<ellipse cx="554.00" cy="622.80" rx="7.68" ry="1.38" fill="#6a6a6a" filter="url(#bl2)"/>
<ellipse cx="554.00" cy="622.80" rx="5.84" ry="0.94" fill="#363636" filter="url(#bl1)"/>
<ellipse cx="573.30" cy="623.00" rx="7.98" ry="1.60" fill="#484848" filter="url(#bl2)"/>
<ellipse cx="573.30" cy="623.00" rx="6.06" ry="1.09" fill="#080808" filter="url(#bl1)"/>
<ellipse cx="592.70" cy="624.00" rx="7.68" ry="1.70" fill="#363636" filter="url(#bl2)"/>
<ellipse cx="592.70" cy="624.00" rx="5.84" ry="1.16" fill="#060606" filter="url(#bl1)"/>
<ellipse cx="612.00" cy="622.90" rx="7.38" ry="1.28" fill="#6a6a6a" filter="url(#bl2)"/>
<ellipse cx="612.00" cy="622.90" rx="5.61" ry="0.87" fill="#363636" filter="url(#bl1)"/>
<ellipse cx="630.80" cy="623.30" rx="6.54" ry="1.17" fill="#939393" filter="url(#bl2)"/>
<ellipse cx="630.80" cy="623.30" rx="4.97" ry="0.80" fill="#707070" filter="url(#bl1)"/>
<ellipse cx="649.50" cy="623.50" rx="6.84" ry="1.28" fill="#777777" filter="url(#bl2)"/>
<ellipse cx="649.50" cy="623.50" rx="5.20" ry="0.87" fill="#494949" filter="url(#bl1)"/>
<ellipse cx="668.30" cy="622.50" rx="7.98" ry="2.56" fill="#363636" filter="url(#bl2)"/>
<ellipse cx="668.30" cy="622.50" rx="6.06" ry="1.74" fill="#060606" filter="url(#bl1)"/>
<path d="M432 612 Q440 614 447 617 L447 620 Q440 620 433 616 Z" fill="#9a9a9a" filter="url(#bl1)"/>
<rect x="430.6" y="546.2" width="252.6" height="24.80" fill="none" stroke="#151515" stroke-width="1.25"/>
<rect x="430.6" y="576.6" width="252.6" height="24.90" fill="none" stroke="#151515" stroke-width="1.25"/>
<rect x="430.6" y="607.0" width="252.6" height="24.80" fill="none" stroke="#151515" stroke-width="1.25"/>
</svg>
</body></html>
